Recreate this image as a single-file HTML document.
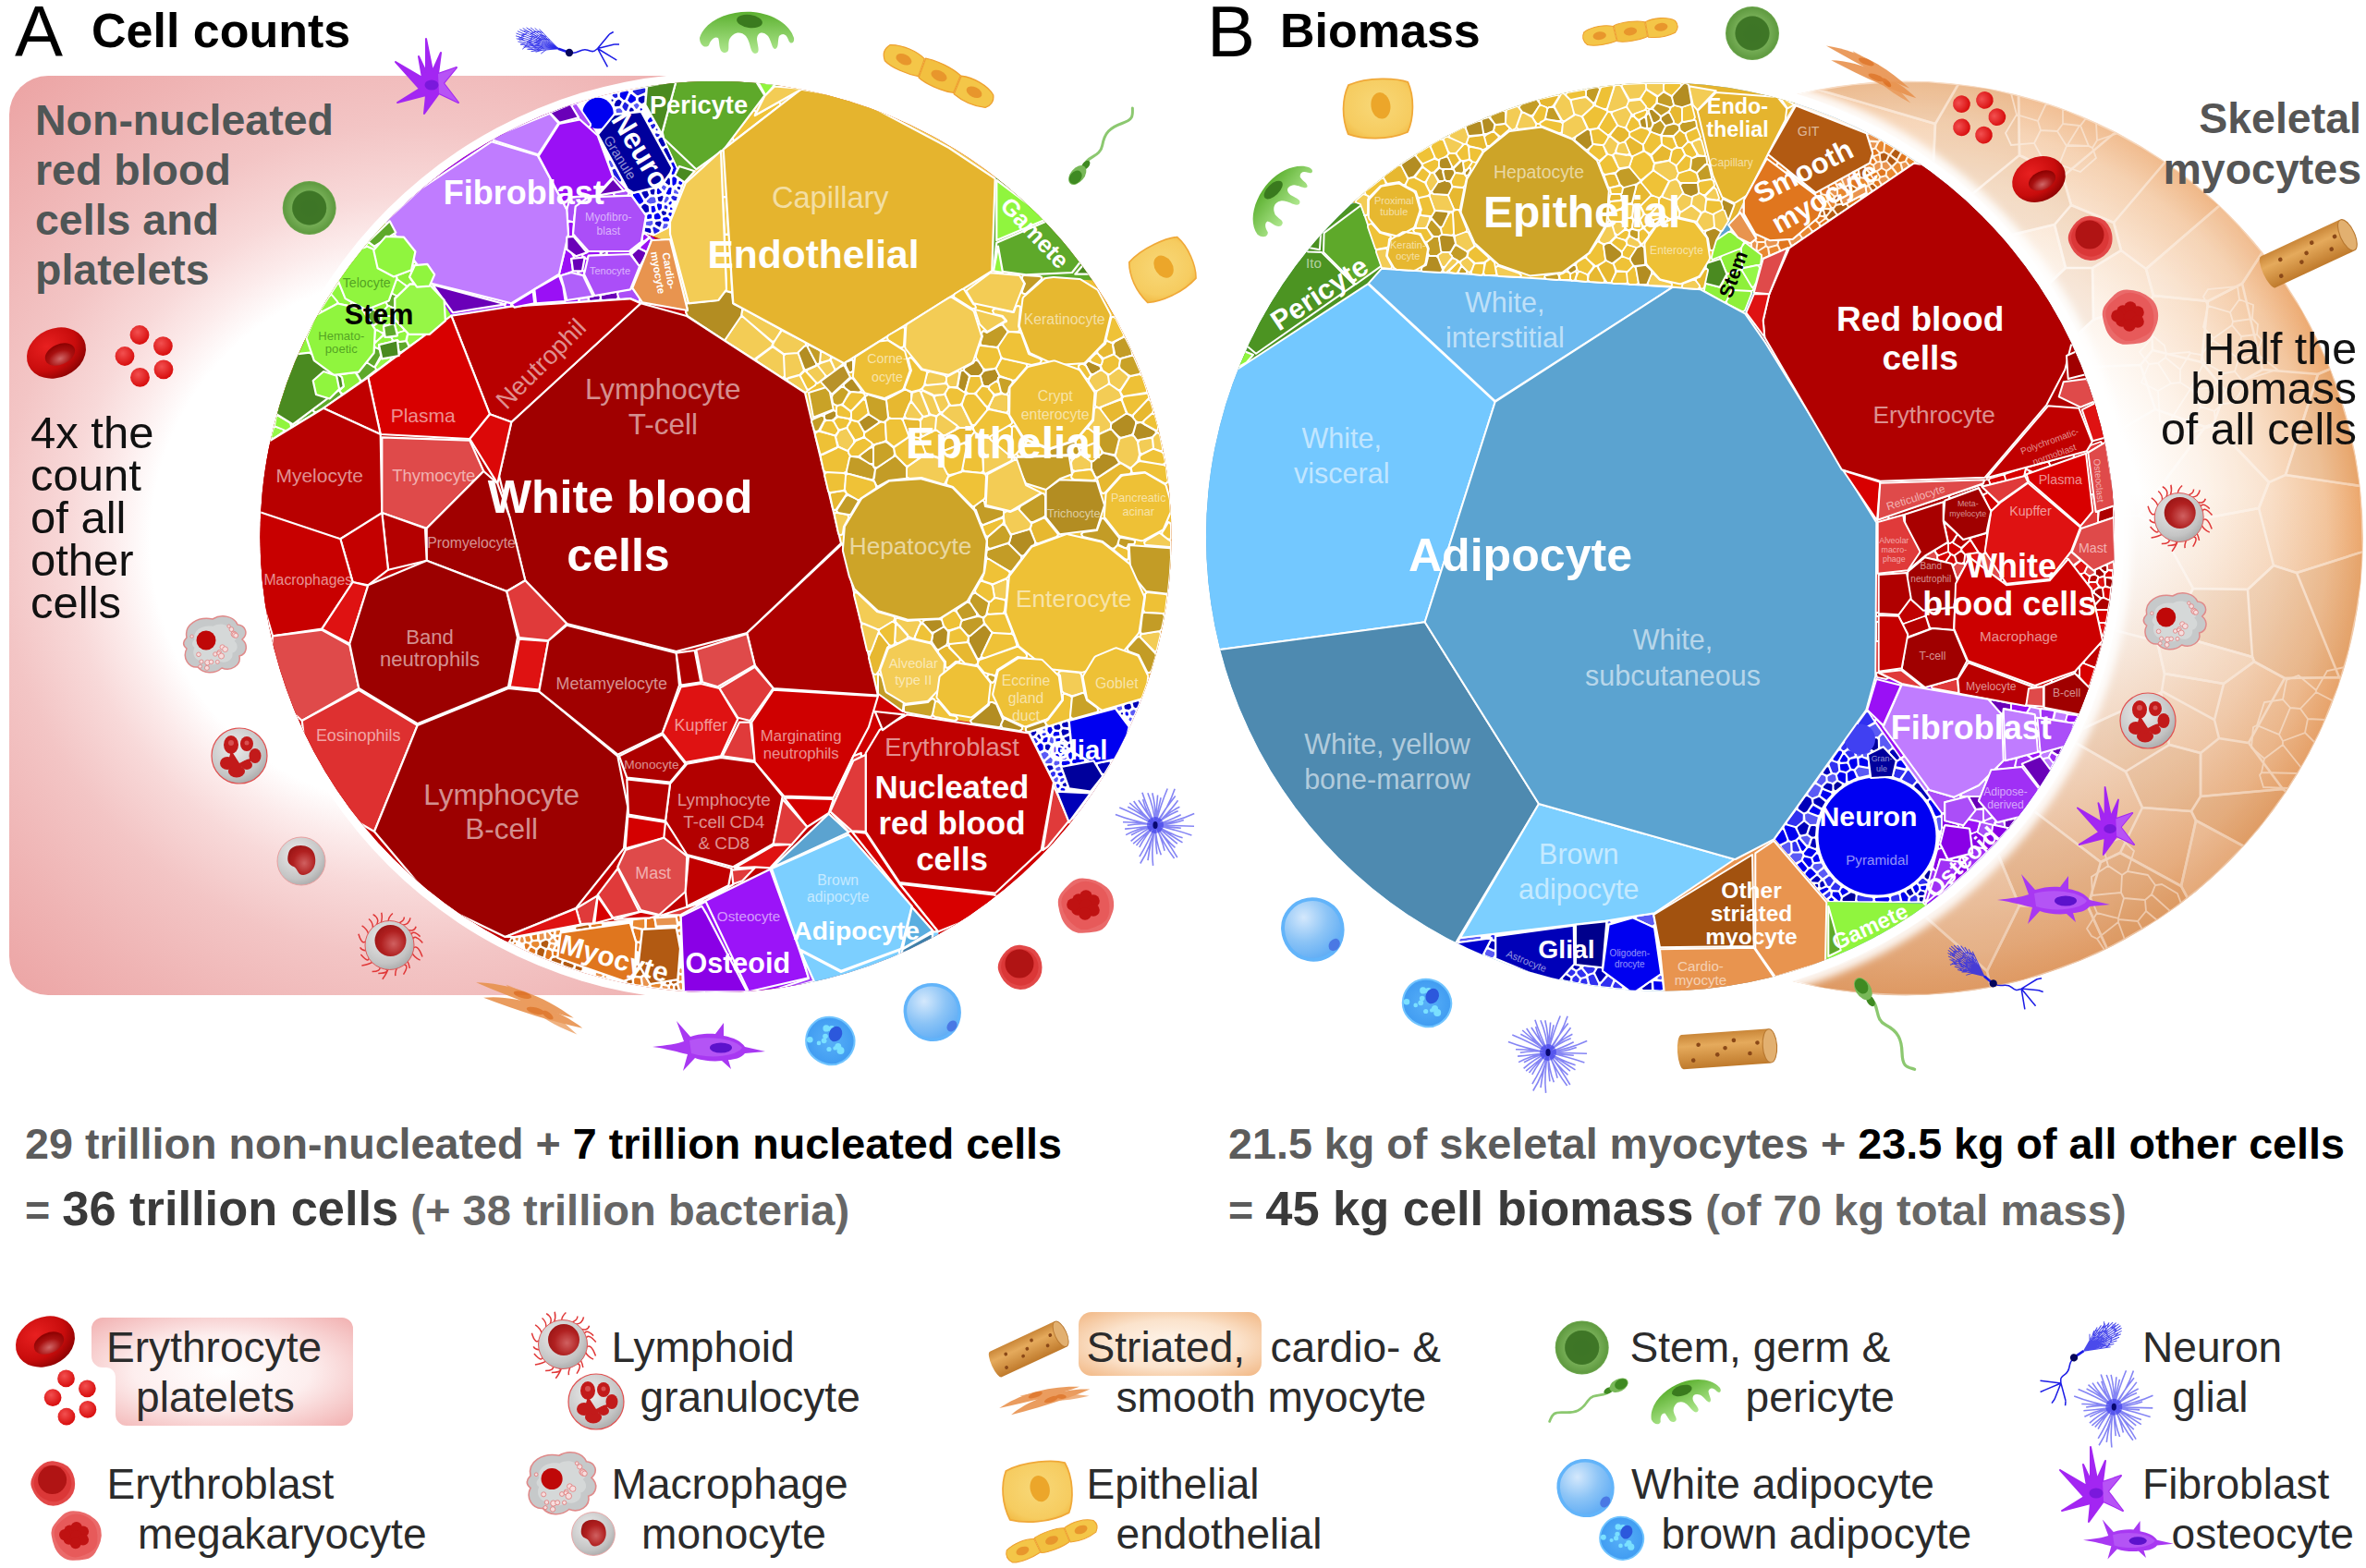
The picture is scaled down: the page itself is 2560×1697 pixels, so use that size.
<!DOCTYPE html><html><head><meta charset="utf-8"><title>Cell counts and biomass</title>
<style>html,body{margin:0;padding:0;background:#fff}svg{display:block}text{font-family:"Liberation Sans",sans-serif}</style>
</head><body>
<svg width="2560" height="1697" viewBox="0 0 2560 1697">
<defs>
<clipPath id="clipL"><circle cx="774.5" cy="581.0" r="493.0"/></clipPath>
<clipPath id="clipR"><circle cx="1796.5" cy="581.0" r="491.5"/></clipPath>
<clipPath id="clipO"><circle cx="2062.0" cy="582.5" r="495.0"/></clipPath>
<clipPath id="clipBox"><rect x="10" y="82" width="800" height="995" rx="42" ry="42"/></clipPath>
<radialGradient id="gPink" gradientUnits="userSpaceOnUse" cx="450" cy="585" r="700">
<stop offset="0" stop-color="#fff"/><stop offset="0.41" stop-color="#fff"/><stop offset="0.471" stop-color="#fcebeb"/><stop offset="0.536" stop-color="#f8d9d9"/><stop offset="0.643" stop-color="#f3c5c5"/><stop offset="0.80" stop-color="#efb3b3"/><stop offset="0.943" stop-color="#eca4a4"/><stop offset="1" stop-color="#eba0a0"/></radialGradient>
<radialGradient id="gCres" gradientUnits="userSpaceOnUse" cx="2062.0" cy="582.5" r="495.0">
<stop offset="0" stop-color="#fff"/><stop offset="0.52" stop-color="#fff"/><stop offset="0.66" stop-color="#fdf2e8"/><stop offset="0.80" stop-color="#f9dfc8"/><stop offset="0.92" stop-color="#f3c69e"/><stop offset="1" stop-color="#eca76c"/></radialGradient>
<linearGradient id="gCresV" gradientUnits="userSpaceOnUse" x1="0" y1="88" x2="0" y2="1077"><stop offset="0" stop-color="#fff" stop-opacity="0.3"/><stop offset="0.3" stop-color="#fff" stop-opacity="0"/><stop offset="0.45" stop-color="#dc9a68" stop-opacity="0"/><stop offset="1" stop-color="#d8935f" stop-opacity="0.7"/></linearGradient>
<filter id="blur6" x="-20%" y="-20%" width="140%" height="140%"><feGaussianBlur stdDeviation="4.5"/></filter>
<filter id="blur12" x="-20%" y="-20%" width="140%" height="140%"><feGaussianBlur stdDeviation="14"/></filter>
<filter id="blur2" x="-20%" y="-20%" width="140%" height="140%"><feGaussianBlur stdDeviation="1.2"/></filter>
<radialGradient id="gLegPink" cx="0.5" cy="0.5" r="0.75"><stop offset="0" stop-color="#fff"/><stop offset="0.45" stop-color="#fdeeee"/><stop offset="1" stop-color="#f0a8a8"/></radialGradient>
<radialGradient id="gLegOr" cx="0.5" cy="0.5" r="0.75"><stop offset="0" stop-color="#fff6ee"/><stop offset="0.5" stop-color="#fbe3cc"/><stop offset="1" stop-color="#f0b078"/></radialGradient>
<radialGradient id="iRbc" cx="0.4" cy="0.3" r="0.8"><stop offset="0" stop-color="#e82020"/><stop offset="0.6" stop-color="#c80c0c"/><stop offset="1" stop-color="#7a0000"/></radialGradient><radialGradient id="iRbcIn" cx="0.45" cy="0.7" r="0.7"><stop offset="0" stop-color="#d06868"/><stop offset="0.55" stop-color="#a81010"/><stop offset="1" stop-color="#8a0000"/></radialGradient><radialGradient id="iPl" cx="0.4" cy="0.35" r="0.7"><stop offset="0" stop-color="#f25050"/><stop offset="1" stop-color="#d60808"/></radialGradient><radialGradient id="iGrey" cx="0.4" cy="0.35" r="0.75"><stop offset="0" stop-color="#ececec"/><stop offset="0.7" stop-color="#c4c4c4"/><stop offset="1" stop-color="#a0a0a0"/></radialGradient><radialGradient id="iNuc" cx="0.6" cy="0.6" r="0.8"><stop offset="0" stop-color="#d06060"/><stop offset="0.5" stop-color="#b02020"/><stop offset="1" stop-color="#901010"/></radialGradient><linearGradient id="iFib" x1="0" y1="0" x2="0" y2="1"><stop offset="0" stop-color="#c98638"/><stop offset="0.35" stop-color="#e5aa5c"/><stop offset="1" stop-color="#bf7a2c"/></linearGradient><radialGradient id="iEpi" cx="0.5" cy="0.45" r="0.7"><stop offset="0" stop-color="#f8d878"/><stop offset="0.7" stop-color="#f6cc60"/><stop offset="1" stop-color="#f0b43a"/></radialGradient><radialGradient id="iStem" cx="0.5" cy="0.5" r="0.5"><stop offset="0" stop-color="#3f7828"/><stop offset="0.62" stop-color="#44802c"/><stop offset="0.68" stop-color="#74ac54"/><stop offset="1" stop-color="#5f9a40"/></radialGradient><radialGradient id="iWad" cx="0.35" cy="0.3" r="0.8"><stop offset="0" stop-color="#d4e8fc"/><stop offset="0.5" stop-color="#8cc4f6"/><stop offset="1" stop-color="#58a8f4"/></radialGradient><radialGradient id="iBad" cx="0.5" cy="0.5" r="0.6"><stop offset="0" stop-color="#58b0f8"/><stop offset="1" stop-color="#3c98f0"/></radialGradient><linearGradient id="iPeri" x1="0" y1="0" x2="0" y2="1"><stop offset="0" stop-color="#5cb030"/><stop offset="1" stop-color="#b0e890"/></linearGradient><radialGradient id="iFb" cx="0.5" cy="0.5" r="0.6"><stop offset="0" stop-color="#a838f0"/><stop offset="1" stop-color="#a020f0"/></radialGradient><g id="rbc"><ellipse rx="33" ry="26.5" transform="rotate(-24)" fill="url(#iRbc)"/><ellipse cx="3" cy="3" rx="17" ry="11" transform="rotate(-24)" fill="url(#iRbcIn)"/></g><g id="plt"><circle cx="-5" cy="-23" r="10.4" fill="url(#iPl)"/><circle cx="20.4" cy="-10.9" r="10.4" fill="url(#iPl)"/><circle cx="-21" cy="0" r="10.4" fill="url(#iPl)"/><circle cx="21" cy="14.3" r="10.4" fill="url(#iPl)"/><circle cx="-4.5" cy="22.9" r="10.4" fill="url(#iPl)"/></g><g id="ebl"><path d="M23 -5.3Q24 0 23.1 5.3Q22.2 10.7 18.6 14.8Q15.1 19 10.3 21.5Q5.5 24.1 -0 24.1Q-5.5 24.1 -10.1 21.3Q-14.7 18.5 -18 14.4Q-21.2 10.2 -23.2 5.1Q-25.2 0 -23.4 -5.2Q-21.6 -10.4 -18.3 -14.6Q-15 -18.7 -10.3 -21.8Q-5.7 -24.8 -0.1 -24.3Q5.4 -23.8 10.6 -21.7Q15.7 -19.7 18.9 -15.1Q22 -10.6 23 -5.3Z" fill="#e24848"/><path d="M19.1 -5.1Q20.4 0 19 5Q17.5 10.1 13.9 14Q10.4 18 5.2 19.1Q0 20.3 -5 18.8Q-10 17.4 -14 13.9Q-18 10.4 -19.9 5.2Q-21.9 0 -20.3 -5.4Q-18.7 -10.8 -14.8 -14.7Q-10.8 -18.7 -5.4 -19.5Q-0 -20.4 5.3 -19.3Q10.5 -18.3 14.2 -14.3Q17.8 -10.3 19.1 -5.1Z" fill="#d83030" opacity="0.7"/><circle cx="-1" cy="-4" r="15.5" fill="#b01414"/></g><g id="meg"><path d="M29.5 -7.3Q31.1 0 28.9 7Q26.8 14 22.7 20.5Q18.6 27 11.1 28.3Q3.6 29.6 -3.9 29.8Q-11.4 30.1 -17.4 25.4Q-23.4 20.8 -26.2 13.9Q-28.9 7.1 -30 -0.3Q-31.1 -7.7 -26.6 -13.7Q-22.2 -19.6 -16.7 -24.6Q-11.2 -29.6 -3.8 -29.6Q3.6 -29.6 10.3 -27.1Q17 -24.6 22.5 -19.7Q28 -14.7 29.5 -7.3Z" fill="#ea6a6a"/><path d="M24.3 -7.3Q26 0 25.1 7.8Q24.2 15.5 17.4 19.4Q10.6 23.3 3.3 25.4Q-4 27.5 -10.3 23.4Q-16.7 19.2 -20.8 13.3Q-25 7.3 -26.4 -0.4Q-27.7 -8.1 -22.3 -13.9Q-17 -19.6 -10.4 -23.4Q-3.9 -27.3 3.6 -25.8Q11.2 -24.4 16.9 -19.5Q22.6 -14.5 24.3 -7.3Z" fill="#e45050" opacity="0.6"/><circle cx="-8" cy="-6" r="6.8" fill="#bf1212"/><circle cx="0" cy="-10" r="6.8" fill="#bf1212"/><circle cx="8" cy="-5" r="6.8" fill="#bf1212"/><circle cx="-9" cy="4" r="6.8" fill="#bf1212"/><circle cx="0" cy="0" r="6.8" fill="#bf1212"/><circle cx="8" cy="5" r="6.8" fill="#bf1212"/><circle cx="-1" cy="9" r="6.8" fill="#bf1212"/><circle cx="-14" cy="-1" r="6.8" fill="#bf1212"/></g><g id="lym"><path d="M24.5 4.8Q29.8 -3.6 35.5 12.6M23.9 7.4Q26.8 13.5 33.1 16.1M19 16.2Q21.3 21.1 21.8 25M14 20.7Q22.2 20.2 15 31.7M8.4 23.5Q5.6 29.5 6.4 33.1M-1.4 25Q-2.6 29.9 -7.7 36.8M-5.7 24.3Q2.8 29.9 -12.2 30.5M-10.5 22.7Q-9.1 28.6 -18.9 28.6M-17.8 17.6Q-21.7 20.7 -30.1 22M-22.4 11.1Q-21.1 21.4 -31.1 9.9M-24.4 5.5Q-29.3 6.4 -31.9 2.3M-24.5 -5Q-30 0.7 -33.6 -12.2M-22.4 -11.2Q-24.3 -17.6 -29.9 -21.1M-18.2 -17.1Q-17.3 -24.5 -22.5 -28.5M-15 -20Q-9.4 -28.5 -17.9 -33.4M-9.6 -23.1Q-7.3 -29.1 -8.8 -35.2M-1.3 -25Q-1.7 -30 3.4 -34.5M8 -23.7Q15.9 -25.4 15.9 -30.6M12 -21.9Q21.1 -21.3 22.5 -29.6M18 -17.3Q26.7 -13.6 28.6 -20.2M22.8 -10.3Q24.4 -17.5 33.1 -9.4M24.4 -5.5Q27 -13.2 35.8 -2.5" stroke="#e03838" stroke-width="1.5" fill="none"/><circle r="26.5" fill="url(#iGrey)" stroke="#e05858" stroke-width="1"/><circle cx="1" cy="-5" r="17" fill="url(#iNuc)"/></g><g id="mac"><path d="M-30 -8 C-33 -22 -18 -31 -2 -28 C8 -34 21 -31 25 -22 C34 -21 37 -12 30 -6 C37 0 35 10 27 12 C29 22 18 29 8 25 C0 32 -12 31 -18 24 C-28 25 -35 14 -30 4 C-35 0 -34 -4 -30 -8Z" fill="#c6c9ca" stroke="#e08a8a" stroke-width="1.5"/><path d="M-30 -8 C-33 -22 -18 -31 -2 -28 C8 -34 21 -31 25 -22 C34 -21 37 -12 30 -6 C37 0 35 10 27 12 C29 22 18 29 8 25 C0 32 -12 31 -18 24 C-28 25 -35 14 -30 4 C-35 0 -34 -4 -30 -8Z" fill="#e2e4e4" opacity="0.55" transform="scale(0.72)"/><g fill="#f6dede" stroke="#e08080" stroke-width="0.8"><circle cx="0.9" cy="10" r="2.2"/><circle cx="5.2" cy="7.7" r="2.2"/><circle cx="20.9" cy="-11.9" r="2.9"/><circle cx="3.3" cy="18.4" r="2"/><circle cx="4.7" cy="8.9" r="1.9"/><circle cx="22" cy="-10.9" r="3"/><circle cx="-7.5" cy="19.1" r="2.8"/><circle cx="15.6" cy="-20.3" r="1.7"/><circle cx="23.2" cy="-10.2" r="2.5"/><circle cx="-8.1" cy="24.9" r="2.5"/><circle cx="18.4" cy="-16.9" r="2.4"/><circle cx="-17.1" cy="10.3" r="2.3"/><circle cx="7.5" cy="12" r="3"/><circle cx="8.6" cy="2.4" r="2.6"/><circle cx="-3.5" cy="18.4" r="2.3"/><circle cx="-15.4" cy="23.3" r="1.9"/><circle cx="-14.1" cy="18.1" r="2.1"/><circle cx="-24.4" cy="-9.3" r="1.7"/><circle cx="11.6" cy="4.7" r="2.9"/></g><circle cx="-9" cy="-5" r="10.5" fill="#bf0808"/></g><g id="gra"><circle r="30" fill="url(#iGrey)" stroke="#e05050" stroke-width="1.2"/><g fill="#c21a1a"><ellipse cx="-9" cy="-12" rx="8" ry="10"/><ellipse cx="8" cy="-13" rx="7" ry="8"/><ellipse cx="17" cy="0" rx="6.5" ry="8"/><ellipse cx="-13" cy="8" rx="8" ry="7"/><ellipse cx="-3" cy="17" rx="9" ry="6.5"/><ellipse cx="8" cy="10" rx="6" ry="5"/><path d="M-9 -6 L-12 6 L-4 14 L8 10 L16 2 L8 4 L0 8 Z"/></g><g fill="#e88" opacity="0.5"><circle cx="-9" cy="-14" r="3"/><circle cx="8" cy="-14" r="2.5"/></g></g><g id="mon"><circle r="26" fill="url(#iGrey)" stroke="#e8a0a0" stroke-width="1"/><path d="M-14 -8 C-12 -20 10 -20 14 -8 C18 4 12 14 2 15 C-4 15 -4 8 -8 6 C-14 4 -16 0 -14 -8Z" fill="url(#iNuc)"/></g><g id="fbr"><path d="M-46 -17 H38 a8 17 0 0 1 0 34 H-46 a5 17 0 0 1 0 -34Z" fill="url(#iFib)"/><ellipse cx="40" cy="0" rx="7" ry="16.5" fill="#e2b070" stroke="#b87830" stroke-width="1"/><g fill="#8a4818"><circle cx="-30" cy="-6" r="2.1"/><circle cx="-12" cy="5" r="2.1"/><circle cx="5" cy="-8" r="2.1"/><circle cx="20" cy="6" r="2.1"/><circle cx="-36" cy="9" r="2.1"/><circle cx="28" cy="-4" r="2.1"/><circle cx="-4" cy="-1" r="2.1"/></g></g><g id="smo" fill="#e8924e" opacity="0.9"><path d="M-62 -8 C-30 -16 10 -14 50 2 C20 2 -20 -2 -62 -8Z"/><path d="M-50 6 C-20 -6 30 -4 62 10 C30 12 -10 10 -50 6Z"/><path d="M-30 -14 C0 -12 30 4 58 18 C20 14 -10 2 -30 -14Z" opacity="0.8"/><g fill="#dd6e1e"><ellipse cx="-10" cy="-8" rx="10" ry="3.5"/><ellipse cx="8" cy="5" rx="10" ry="3.5"/><ellipse cx="22" cy="6" rx="7" ry="3" transform="rotate(22 22 6)"/></g></g><g id="epi"><path d="M-31 -20 C-12 -30 16 -31 27 -28 C35 -14 36 8 31 21 C12 31 -12 32 -27 28 C-35 12 -36 -6 -31 -20Z" fill="url(#iEpi)" stroke="#f0a838" stroke-width="1.6"/><ellipse cx="3" cy="-2" rx="9.5" ry="13" transform="rotate(-14)" fill="#eca62a"/></g><g id="end" stroke="#eea030" stroke-width="1.3"><path d="M-62 -8 C-50 -14 -32 -14 -22 -10 L-20 10 C-32 13 -50 14 -60 10 C-66 4 -66 -2 -62 -8Z" fill="#f4c648"/><path d="M-21 -11 C-10 -14 10 -14 21 -10 L22 10 C10 14 -10 14 -19 11Z" fill="#f2c040"/><path d="M22 -10 C34 -14 52 -13 62 -6 C66 0 64 6 60 10 C48 14 34 14 23 11Z" fill="#f4c648"/><g fill="#e8962c" stroke="none"><ellipse cx="-42" cy="0" rx="9" ry="5.5"/><ellipse cx="0" cy="0" rx="9" ry="5.5"/><ellipse cx="42" cy="0" rx="9" ry="5.5"/></g></g><g id="stm"><circle r="29" fill="#6aa44a"/><circle r="28" fill="url(#iStem)"/><circle r="18.5" fill="#3d7426" opacity="0.85"/></g><g id="spm"><path d="M8 0 C20 -7 28 7 40 0 S60 -6 72 1 S86 4 92 -1" stroke="#8cc870" stroke-width="3" fill="none" stroke-linecap="round"/><ellipse cx="12" cy="0" rx="6" ry="3.5" fill="#3f8a22"/><ellipse cx="-2" cy="0" rx="12" ry="7.5" fill="#78b858"/><ellipse cx="-5" cy="0" rx="8" ry="6" fill="#3f8a22"/></g><g id="per"><path d="M-50 6 C-44 -14 -16 -24 8 -22 C30 -20 48 -8 52 6 C53 12 48 14 46 8 C44 2 40 0 36 4 C34 10 36 16 32 18 C28 18 28 10 24 4 C18 -2 12 0 12 8 C13 16 16 22 10 23 C4 22 6 12 0 4 C-6 -2 -14 0 -18 8 C-20 16 -16 22 -24 22 C-30 20 -28 10 -30 6 C-34 4 -38 8 -40 14 C-44 18 -50 14 -50 6Z" fill="url(#iPeri)"/><ellipse cx="4" cy="-12" rx="14" ry="7" transform="rotate(8 4 -12)" fill="#3a7a1e"/></g><g id="wad"><path d="M27.5 -10.1Q30.8 0 27.6 10.3Q24.5 20.5 15 25.9Q5.5 31.3 -5.1 29.3Q-15.7 27.2 -22.4 18.9Q-29 10.6 -29.6 -0.2Q-30.2 -11 -23.1 -19.4Q-16.1 -27.9 -5.3 -29.5Q5.5 -31 14.8 -25.7Q24.1 -20.3 27.5 -10.1Z" fill="url(#iWad)" stroke="#62b4fa" stroke-width="3.5"/><ellipse cx="21" cy="15" rx="5" ry="6.5" transform="rotate(35 21 15)" fill="#4a78e4"/></g><g id="bad"><path d="M24.5 -8.6Q28.4 0 25.1 9.2Q21.8 18.3 13.4 23.1Q4.9 27.9 -4.2 25.5Q-13.3 23 -19.7 16.2Q-26 9.5 -25.9 0.1Q-25.7 -9.3 -19.7 -16.6Q-13.8 -23.9 -4.6 -25.1Q4.6 -26.3 12.6 -21.8Q20.5 -17.2 24.5 -8.6Z" fill="url(#iBad)" stroke="#70c4ff" stroke-width="2"/><g fill="#7ae0ff"><circle cx="-12" cy="2.9" r="2.3"/><circle cx="4.1" cy="-4.6" r="3.1"/><circle cx="5.9" cy="-4.4" r="3.2"/><circle cx="-5" cy="-4.5" r="2.8"/><circle cx="-4" cy="-13.1" r="3.6"/><circle cx="5.5" cy="8.4" r="2.2"/><circle cx="-21.7" cy="-0.8" r="3.3"/><circle cx="1.9" cy="-12.4" r="3.6"/><circle cx="8.8" cy="6.5" r="3.5"/><circle cx="-2" cy="-13" r="2.2"/><circle cx="-1" cy="9.5" r="2.6"/><circle cx="3.4" cy="-8.8" r="4"/><circle cx="5" cy="-4.8" r="2.8"/><circle cx="-6.4" cy="0.3" r="2.9"/><circle cx="6.6" cy="-4.4" r="3.3"/><circle cx="11.5" cy="10.9" r="4"/></g><ellipse cx="6" cy="-7" rx="7" ry="8.5" transform="rotate(25 6 -7)" fill="#2c58dc"/></g><g id="gli"><path d="M0 0Q23.1 0.6 42 1.2M0 0Q15.2 2.6 27.8 3.2M0 0Q21.9 5 39.4 10.9M0 0Q15.4 9.3 29.6 13.8M0 0Q16.1 10.6 29.5 18.9M0 0Q12.9 11.3 23.9 20.2M0 0Q10.3 14.6 21.5 24.4M0 0Q14.2 18.5 23.8 35M0 0Q9.2 21 20.6 36.1M0 0Q7.1 14.6 10.1 27.8M0 0Q0.6 18.1 6.3 32.3M0 0Q0.1 17.3 1.9 31.4M0 0Q-4.7 23.7 -2.4 43.8M0 0Q-5.8 20.6 -8 38.1M0 0Q-5 24 -16.2 41.5M0 0Q-8.1 19.4 -17.1 34.2M0 0Q-11.1 11.8 -17.2 24M0 0Q-12 11.4 -20.5 21.9M0 0Q-13.1 11.2 -23.9 20.2M0 0Q-15.6 7.6 -26.4 17.4M0 0Q-14.9 4.5 -26.1 10.7M0 0Q-18.2 3.3 -31.9 10.6M0 0Q-18 3 -32.9 4.1M0 0Q-16.4 -2.7 -30.2 0.3M0 0Q-19 -3.4 -35 -3.2M0 0Q-24.2 -4.2 -43.1 -11.6M0 0Q-20.6 -11.7 -38.7 -19.1M0 0Q-15 -12.6 -29.7 -19.7M0 0Q-15.4 -13.1 -27.8 -24M0 0Q-14.8 -12.3 -23.3 -26M0 0Q-10 -14.8 -18.1 -27M0 0Q-9.8 -13.9 -13.4 -27.9M0 0Q-8.7 -19 -14.1 -35.3M0 0Q-1.6 -19.6 -8.1 -34.7M0 0Q0.8 -19.2 -3.2 -34.8M0 0Q1.3 -17.9 2.6 -32.5M0 0Q2.7 -16.5 6.1 -29.8M0 0Q5.9 -22.2 13.2 -39.5M0 0Q14.7 -19.6 21.1 -39.2M0 0Q10.8 -18.1 21.7 -31.5M0 0Q14.9 -13.3 24.5 -26.8M0 0Q12.5 -13.1 26.4 -19.7M0 0Q12 -10.5 24.7 -15.2M0 0Q15.7 -5 27.7 -11.2M0 0Q23.9 -3.9 42.2 -12.4M0 0Q17.2 -0.4 30.8 -5.6" stroke="#3a3aee" stroke-width="1.6" fill="none" opacity="0.62"/><circle r="9" fill="#3030e8" opacity="0.55"/><ellipse rx="2.6" ry="4" fill="#080870"/></g><g id="neu"><path d="M-3 -1L-13.2 -4.8L-46 -1.6M-27.9 -3.4l-6.3 4.6M-33.8 -2.8l-6.6 2M-39.7 -2.2l-6.7 -2.5M-3 -1L-13.2 -4.8L-50.7 -4.1M-30.1 -4.5l-4 -2.9M-36.8 -4.3l-5.1 -0.4M-43.6 -4.2l-5.6 -0.1M-3 -1L-13.2 -4.8L-55.1 -6.9M-32 -5.7l-6.4 3.3M-39.6 -6.1l-6.7 -2.7M-47.1 -6.5l-6.9 -2.3M-3 -1L-13.2 -4.8L-58.9 -10.1M-33.7 -7.2l-5.8 4M-41.9 -8.1l-5.9 -3.9M-50.2 -9.1l-6.2 4.9M-3 -1L-13.2 -4.8L-61.8 -13.4M-35 -8.7l-6.8 1.2M-43.8 -10.2l-5.9 1.6M-52.5 -11.8l-6 1.9M-3 -1L-13.2 -4.8L-63.6 -16.9M-35.9 -10.2l-5.5 1.5M-44.9 -12.4l-4.3 0.8M-54 -14.6l-6.6 -4.4M-3 -1L-13.2 -4.8L-64.4 -20.2M-36.2 -11.7l-4.2 -0.1M-45.4 -14.5l-6.4 4.5M-54.6 -17.3l-5.3 2.3M-3 -1L-13.2 -4.8L-63.9 -23.3M-36 -13.1l-4.4 -2.1M-45.1 -16.4l-5.9 3.8M-54.3 -19.7l-6.6 2.6M-3 -1L-13.2 -4.8L-62.3 -25.9M-35.3 -14.3l-6.7 1.9M-44.1 -18.1l-4.9 4.5M-52.9 -21.9l-4.5 0M-3 -1L-13.2 -4.8L-59.6 -28M-34 -15.2l-6.4 -3.5M-42.4 -19.4l-5.4 0.1M-50.8 -23.6l-6.8 4M-3 -1L-13.2 -4.8L-55.9 -29.4M-32.4 -15.9l-5.5 2M-40.1 -20.3l-6.3 -2.6M-47.8 -24.7l-7 -1.6M-3 -1L-13.2 -4.8L-51.6 -30.1M-30.4 -16.2l-6.2 -0.8M-37.4 -20.7l-5.9 3.3M-44.3 -25.3l-4.3 -3.2M-3 -1L-13.2 -4.8L-46.7 -30.1M-28.2 -16.2l-5.8 -3.3M-34.3 -20.8l-5 4.7M-40.3 -25.3l-6.4 2.7M-3 -1L-13.2 -4.8L-41.5 -29.5M-25.9 -15.9l-6.1 -4.9M-31 -20.4l-4.7 -1.6M-36.1 -24.8l-6.5 -0.6M-3 -1L-13.2 -4.8L-36.2 -28.3M-23.5 -15.4l-6.3 -0.9M-27.7 -19.6l-5.7 -0.8M-31.9 -23.8l-5.2 -2.1" stroke="#2a2ae8" stroke-width="1.1" fill="none" opacity="0.85"/><path d="M3 0C10 2 14 -6 22 -3S30 -2 34 -5M34 -5L48 -22M34 -5L54 -10M34 -5L52 6M34 -5L46 17M48 -22l5 -3M52 6l5 3M54 -10l6 0" stroke="#1c1ce6" stroke-width="1.7" fill="none"/><path d="M-3 -1L-13.2 -4.8" stroke="#1c1ce6" stroke-width="3"/><circle r="4.6" fill="#06065a"/></g><g id="fbl"><path d="M-6 -50 L1 -15 L10 -35 L7 -12 L27 -19 L13 -2 L29 19 L8 9 L-8 31 L-6 11 L-37 19 L-13 4 L-39 -25 L-10 -8 L-14 -31 L-6 -14 Z" fill="#a326f2" stroke="#a326f2" stroke-width="2" stroke-linejoin="round"/><path d="M7 -12 L27 -19 L13 -2 L29 19 L8 9Z" fill="#cc80fa" opacity="0.5"/><ellipse cx="0" cy="0" rx="7.5" ry="5.5" fill="#7a18dc"/></g><g id="ost"><path d="M-60 1 C-44 -1 -34 -2 -26 -5 L-34 -27 L-19 -10 C-10 -13 0 -14 8 -13 L17 -25 L17 -11 C28 -9 36 -5 40 1 L62 6 L40 8 C36 13 28 15 22 15 L25 25 L15 16 C6 17 -6 16 -14 13 L-27 27 L-22 9 C-32 7 -44 3 -60 1Z" fill="#a838f2"/><path d="M-20 -6 C0 -12 30 -8 37 2 C30 12 0 14 -18 8Z" fill="#c070f8" opacity="0.5"/><ellipse cx="14" cy="2" rx="12" ry="5.5" fill="#5c12cc"/></g>
</defs>
<rect width="2560" height="1697" fill="#fff"/>
<g clip-path="url(#clipBox)">
<rect x="10" y="82" width="800" height="995" fill="url(#gPink)"/>
</g>
<g clip-path="url(#clipO)">
<circle cx="2062.0" cy="582.5" r="495.0" fill="url(#gCres)"/>
<circle cx="2062.0" cy="582.5" r="495.0" fill="url(#gCresV)"/>
<g opacity="0.42"><path d="M2336 570l37 67 59 1 28-26-16-62zM2386 462l-54-19-46 27 4 21 4 25 2 24 1 18 17 0zM2342 729l-3 19 57 31 10-39zM2246 804l-19 35-14 21-12 18 72 55 21-10 24-49-18-39zM2334 694l12-9 27-48-37-67-22-12-17 0 1 31-2 33-3 33-5 27zM2332 443l-16-48-53 2 8 23 5 15 10 35zM2150 1051l4 18 36-8 31-10 30-11 29-13-21-46-74-1zM2185 168l47 23 57-48-23-11-30-13-23-8-29-8zM2150 1051l-67-59-15 10-21 13-21 12-15 7-15 7-23 9-34 12 34 8 40 5 41 2 32 0 33-3 35-5zM2316 395l13-16-2-54-62 21-17 16 15 35zM2294 923l66 36 16-71-5-10-53-4zM2334 694l-46-12-7 29-7 23-11 31-10 24 85-39 1-2 3-19zM2343 175l-27-17-27-15-57 48 9 31 46 19zM2381 862l89-8-37-50-32-5-20 16zM2531 733l-59 1-39 70 37 50 4 3 21-34 18-36 9-23 9-22 2-8zM2395 459l13-36-26-31-53-13-13 16 16 48 54 19zM2473 514l-18 8-11 28 16 62 25 8 72-23-1-39-2-32zM2235 290l-12-47-46 11 22 28 18 25zM2322 291l80-69-26-22-19-15-14-10-56 66 8 30zM2264 290l1 56 62-21 3-5-8-29-27-20zM2396 779l5 20 32 5 39-70-33-18-33 24zM2382 392l7-66-59-6-3 5 2 54zM2426 307l22 93 60 5 14-6-16-35-15-29-22-34-21-28zM2473 514l35-109-60-5-40 23-13 36 60 63zM2426 307l-37 19-7 66 26 31 40-23zM2094 134l-127-37-23 5 37 13 15 6 22 10 15 8 21 12 21 13 17 12zM2339 748l-1 2 9 56 34 9 20-16-5-20z" fill="none" stroke="#fff" stroke-width="2.6"/><path d="M2265 346l-1-56-29 0-18 17 18 30 13 25zM2232 191l-47-23-51 42 23 22 20 22 46-11 18-21zM2280 1027l22-12 21-12 21-13 23-18-7-13-66-36-21 10-14 48zM2300 835l47-29-9-56-85 39-7 15zM2094 134l25-43-33-3-40 0-41 3-38 6zM2347 806l-47 29 18 39 53 4 10-16 0-47zM2287 241l-46-19-18 21 12 47 29 0 31-19zM2094 134l-2 42 23 17 19 17 51-42-1-65-33-8-32-4zM2470 854l-89 8-10 16 5 10 52 28 22-26 19-26 5-7zM2259 981l14-48-72-55-17 21-22 26 23 55zM2508 405l-35 109 81 12-5-32-7-32-9-31-8-23-3-9zM2432 638l-59-1-27 48 91 26zM2472 734l59-1-46-113-25-8-28 26 5 73 2 5zM2485 620l46 113 2 1 9-31 8-40 5-32 2-34z" fill="#c98d5e" fill-opacity="0.3" stroke="#fff" stroke-width="2.6"/><path d="M2336 570l108-20 11-28-60-63-9 3-72 96zM2439 716l-2-5-91-26-12 9 8 35 64 11zM2150 1051l35-71-23-55-17 16-18 17-19 16-25 18zM2376 888l-16 71 7 13 15-12 18-16 28-28zM2330 320l59 6 37-19 22-34-25-29-21-22-80 69z" fill="#fff" fill-opacity="0.3" stroke="#fff" stroke-width="2.6"/><path d="M2296 947l6-4 7-22-14-14-13 5-5 10 4 15zM2464 400l-22-17-20 6-4 13 8 10zM2269 988l-11 17 5 8 6 3 23-18 0-3 0-1zM2214 112l-16-5-22-6 6 23 23 7zM2325 394l-8 20 18 9 14-8-14-22zM2394 368l-12 16 3 8 21 12 12-2 4-13 0-1zM2277 1028l22-11-7-19-23 18zM2335 423l2 33 8 4 25-39-11-7-10 1zM2295 966l1-19-15-10-18 12 1 20zM2415 352l10 12 17-2 1-11-6-6-21 3zM2413 338l10-14-2-14-32 3-5 8 5 10zM2322 986l-9 11 5 9 16-10zM2334 996l14-10-20-18-7 6 1 12zM2437 345l1-15-15-6-10 14 3 10zM2395 366l-1 2 28 20 3-24-10-12zM2525 759l6-17 6-20-19 4-12 21 0 2zM2381 440l15 5 9-8-10-18-23 3zM2413 338l-24-7-5 23 11 12 20-14 1-4zM2269 152l23-8-24-12zM2201 155l7-14-3-10-23-7-12 20 6 13zM2260 158l-24 0-8 20 23 8 17-15-4-11zM2426 412l-8-10-12 2-11 15 10 18 12-1 10-16zM2366 470l31-10-1-15-15-5-16 29zM2298 972l-3-6-31 3-2 2 7 17 23 6zM2425 364l-3 25 20-6 5-15-5-6zM2486 837l4-6-20-25-20 15-3 15zM2372 422l23-3 11-15-21-12-15 29zM2470 757l-20 3-8 25 24 10 12-29zM2208 141l-7 14 13 24 5 3 9-4 8-20-10-16zM2205 131l3 10 18 1 6-8 0-16-18-6zM2497 778l-3 15 11 11 12-25zM2324 947l-22-4-6 4-1 19 3 6 23 2 7-6 4-10zM2489 767l17-18 0-2-19-16-13 5-4 21 8 9zM2251 136l9 22 4 2 5-8-1-20-11-4zM2447 836l-2 3 4 13 27 1 10-16zM2359 414l11 7 15-29-3-8-12-2-11 18zM2257 128l-13-6-12-4 0 16 18 2 1 0zM2359 400l11-18-1-1-25 2-1 4zM2494 793l-24 9 0 4 20 25 15-27zM2292 998l7 19 19-11-5-9-21-2zM2250 136l-13 21 23 1-9-22zM2356 967l-17-10-7 1-4 10 20 18 12-8zM2442 785l-4 2-2 22 14 12 20-15 0-4-4-7zM2232 134l-6 8 10 16 1-1 13-21zM2321 974l-23-2-6 22 0 1 21 2 9-11zM2345 460l9 10 11-1 16-29-9-18-2-1zM2466 795l4 7 24-9 3-15-8-11-11-1zM2349 415l10-1 0-14-16-13-8 6zM2517 779l8-20-19-10-17 18 8 11zM2343 387l1-4-2-9-12-10-15 17 10 13 10-1z" fill="none" stroke="#fff" stroke-width="1.8"/></g>
<circle cx="1796.5" cy="581.0" r="502.5" fill="none" stroke="#fff" stroke-width="16" stroke-opacity="0.9" filter="url(#blur6)"/>
</g>
<circle cx="1796.5" cy="581.0" r="501.5" fill="#fff"/>
<circle cx="774.5" cy="581.0" r="502.0" fill="#fff"/>
<g clip-path="url(#clipL)" stroke-linejoin="round">
<circle cx="774.5" cy="581.0" r="495.0" fill="#c00000"/>
<polygon points="200,300 488,342 553,332 682,323 693,328 743,342 871,425 910,588 950,752 940,787 923,818 902,863 897,880 833,940 763,975 737,990 703,993 637,1000 553,1015 400,1100 200,1100" fill="#c00000" stroke="#c00000" stroke-width="1"/>
<polygon points="871,425 916,392 1073,293 1110,298 1183,303 1300,303 1300,757 1233,757 1113,792 977,771 950,752 910,588" fill="#efc237" stroke="#efc237" stroke-width="1"/>
<polygon points="743,342 720,260 692,250 690,240 707,198 750,160 803,110 846,90 900,60 1100,60 1077,193 1073,293 916,392 871,425" fill="#f3cc55" stroke="#f3cc55" stroke-width="1"/>
<polygon points="1077,193 1150,150 1300,303 1183,303 1110,298 1073,293" fill="#5ea92a" stroke="#5ea92a" stroke-width="1"/>
<polygon points="690,60 846,60 846,90 803,110 783,162 753,183 740,197 717,147 690,100" fill="#5ea92a" stroke="#5ea92a" stroke-width="1"/>
<polygon points="600,40 700,40 717,147 740,197 723,247 707,255 692,250 683,212 663,190 647,147 625,113" fill="#ffffff" stroke="#ffffff" stroke-width="1"/>
<polygon points="380,240 400,100 640,40 625,113 647,147 663,190 683,212 692,250 708,258 686,300 693.3,328.3 682,323 553,332 488,342 467,308 422,237" fill="#9a10f5" stroke="#9a10f5" stroke-width="1"/>
<polygon points="250,480 250,300 380,200 422,237 467,308 488,342 397,408 350,442 292,478 250,520" fill="#90f53e" stroke="#90f53e" stroke-width="1"/>
<polygon points="1113,792 1233,757 1300,757 1300,900 1157,887 1140,847" fill="#e0e0ff" stroke="#e0e0ff" stroke-width="1"/>
<polygon points="950,752 977,771 1113,792 1140,847 1157,887 1300,900 1300,1100 1015,1010 987,980 920,905 897,880 902,863 923,818 940,787" fill="#d00000" stroke="#d00000" stroke-width="1"/>
<polygon points="897,880 920,905 987,980 1015,1010 1000,1100 880,1100 855,1030 833,940" fill="#7ccfff" stroke="#7ccfff" stroke-width="1"/>
<polygon points="737,990 763,975 833,940 855,1030 880,1100 740,1100" fill="#9a10f5" stroke="#9a10f5" stroke-width="1"/>
<polygon points="553,1015 637,1000 703,993 737,990 740,1100 500,1100" fill="#fff3e6" stroke="#fff3e6" stroke-width="1"/>
<path d="M446 286l1 1 1 1 2-1 1-1-3-3-1 0zM429 299l1 4 11 7 2-2 4-1 0-1-4-6 2-5 0-1 0-1-2 0-13 5zM385 404l-1-1-14 2-1 0-1 2 2 2 2 9-5 5 3 3 2 0 17-12 1-2zM403 334l1 1 8 5 7-8 0-2-1-2-2-1-12 5zM428 347l-2 2 4 11 1 0 6-2 0-2-8-8z" fill="#8ef03a" stroke="#fff" stroke-width="1.8"/><path d="M397 264l-1 2 1 1 7 3 2-1 0-1-1-1-5-4-1-1zM298 462l-1 0-1 1-3 10 1 1 1 1 1 0 11-8 0-2zM440 369l2 4 1 1 1 0 13-9 1-2-1-1-1 0-14 0-1 1zM417 352l2 0 7-2 1-3 0-4-1-1-13 0-1 5 0 1zM396 335l-2 0-1 1 0 1 3 3 1 1 1 0 4-5 0-1-1-1-1 0zM379 329l0 2 1 1 6 1 1-1 0-2-5-3-1 0zM406 399l1 1 2 0 13-10 1-2-1-1-1 0-7 1-2 0-6 9z" fill="#96f848" stroke="#fff" stroke-width="1.8"/><path d="M411 348l1-1 0-5 0-2-8-5-2 1-5 5 0 2 6 9 1 0zM404 397l1 0 1-1 6-11-1-6-1-1-4-2-1 2-1 4-6 8-1 2 1 1zM440 370l-1-1-7 1-1 0-1 1 2 10 2 0 8-5 0-1 0-1zM367 423l-2 0-8 8-3 0-14 11-1 1 1 3 1 0 1 0 8-4 19-14 1-1-1-1zM390 411l1 1 1 0 14-11 1-1-1-2-8-5-2 0-8 9-2 1 0 1zM337 444l-15 12 0 1 1 1 1-1 16-9 1-1-1-1-2-2zM316 459l-1 1-1 1 2 1 2-1-1-1zM428 319l-4-1-1 1-2 6-3 2 0 1 2 3 6 2 1-1 0-9 2-3z" fill="#5ea92a" stroke="#fff" stroke-width="1.8"/><path d="M411 348l-7 5 0 1 2 3 8 3 2 0-1-6 1-2-3-4zM430 368l2 2 7-1 2-8-1-2-2-1-7 2-1 1 0 2-6 2 0 1 1 3zM359 319l-1 0-2 2-9 14 0 1 1 1 1 0 16-8 0-1 0-2zM429 320l2 0 8-8 1-2-1-1-8-6-2 0-1 1-4 12 1 2zM417 365l-1-2-2 0-9 9 0 2 1 2 3 1 1 0 0-4 14-3 0-1 1-1-2-3zM421 331l-2 1-7 7 0 2 1 1 13 0 1 0 0-7-1-1zM415 363l0-1-1-1-6-4-2 1-1 10 1 1 1 1 1-1zM314 458l-1-1-12-7-1 0-1 0-2 11 12 5 1 0 4-2 1-2zM367 329l11 2 2-3 0-1-6-4-7-16-1-1-8 12z" fill="#90f53e" stroke="#fff" stroke-width="1.8"/><path d="M647 147L663 190L683 212L692 250L707 255L723 247L740 197L717 147L708.3 92.5L702.2 93.3L694.2 94.6L686.2 96L678.3 97.5L670.4 99.1L662.6 100.9L654.7 102.8L646.9 104.8L639.1 107L631.4 109.2L625.4 111.1L625 113Z" fill="#fff"/><circle cx="647" cy="122.5" r="16.7" fill="#0000f0"/><path d="M681.9 111.5l1.4 .1 4.1-2.5 .6-.9-.3-3-4.8-3.5-.9 .6-2.9 6.4zM692.5 117.8l.3 1.6 .7 .3 1.6-1-1-1.6zM736.5 199.9l1.5-.8 .3-1.6-2.7-1.8-1.1 .9-.2 2.4zM704.9 127.7l-.9-.6-1 .5-1.9 2.4-.2 1.3 1.2 1.5 4.2-1.8zM726.8 224.7l-1.6-.1-.3 2.2 2.3 .2 .4-.9zM726.9 230.3l-3-.4-.6 2.1 .4 1.1 1.8 .9 .9-.8zM728.5 175.6l-2.2 .9 .1 1 2.1 4.6-2 6.2 1.3 .8 1.6-.7 2.5-6-2.8-6.2zM723.6 203.4l-2.9 5.8 .7 .7 2.3 .8 2.1-.8 .9-5.9-.4-1-1-.3zM690.3 208.7l-5.3 1.4-.1 1.6 6.3 8.8 1.7 .2 2.8-2 .4-1.6-4.5-7.8zM723.6 219.6l.1 1.7 1.5 .3 .9-.6 .9-2.2-1.4-1.1zM671.6 100.1l-.9 1.3 .2 3.3 3.8 3.2 1 .2 .9-.6 3.7-8-1.4-.9zM722 235l-4 .5-1.1 1.7 .6 1.8 .9 .5 5.2 .1 .9-2.2zM701.1 232.2l-.9 1.2 0 3.3 1 .3 3.9-.8 .1-3.2-.6-.9-1.3-.4zM711.1 220.8l-.3 1.1 1.4 4.9 .4 .6 1.5 0 1.9-2.1 0-4.1-3.7-.9zM710.8 209l.5 1 1.1 .2 3.6-1.7-.2-1.1-3.5-3.7-1.3 1.1zM728.4 191.5l-1.1 1.3 .2 7 1.1 1.2 2.8-2.1 1-4.8-.5-1.2-1.7-1.3zM708 236.5l1.4 1.1 4.2-.6 1-.8 .2-1.9-1.9-3.3-1.6-.4-2.9 1.4-.6 1.2zM705 228.9l.8 1 1.2 0 2.7-1.7-1.6-5.5-3.5 .6z" fill="#0000f0"/><path d="M706.3 247l1.5 5.7 1.1 0 4.3-2.2 .6-1.5-6.2-3.6-1 .5zM697.1 95.4l-12.4 2.5 .2 1.6 4.2 3.6 1.2 .2 7.2-3 .7-1 .3-2.6-.4-1zM719.9 221.9l-1.2 1.1 0 2.5 2.9 .9 .8-2.3-.4-1.1zM713.6 145.3l-4.2-1-.4 1.6 1 1.8 .8 .6 1-.2 1.6-1.2zM705 138.8l1 .6 1-.5 2-2.4 .1-1.3-1.1-1.4-4.2 1.8zM670.3 196.2l1.6 .1 .3-1.5-6.2-11.5-1.6-.5-1.9 1.3 1.5 5zM728.2 211.7l-2 1.2 .5 2.1 2.4 1.9 2.6 0 1.1-3.7zM709.7 139.6l0 1.5 1.5 .3 .5-1.6-1-.6zM663.4 102l-.9 1.3 .4 .8 2.4 1.9 2.4-.4 .6-1.2-.5-3zM676 119.6l1.5 .4 .6-.6 2.3-5.6-4.1-3.3-1 .7-1.9 3.8 .1 1.2z" fill="#2020e0"/><path d="M710 240.1l-1 1 0 1.7 4.1 2.6 1 0 1.6-3.9-.5-1.5-1.2-.5zM712.7 150.5l-.3 1.6 3.4 6.2 1.6 .5 1.9-1 .6-1.6-3.2-6.9-.8-.6-1 .2zM724.8 193.7l-1.3-1.2-.8 .5-2.9 4.6 4.1 2.8 1.1-1.2zM704.3 209.8l1.1 .8 2.5-.2 .6-4.6-.5-1-1-.3-3.7 1.4zM666.5 109.2l-1.9 4.4 1.1 1.7 4.5-.6 .8-.6 1.8-4.1-2.7-2.2-1.2-.1zM734.2 201.9l-1 .2-.5 .8 .3 1 1.1 1.1 1.5 .2 .7-2.4zM718.7 160.9l-.6 1.7 5.9 10.6 .6 .5 1.7-.3 .7-1.6-5.1-11.1-1.6-.6zM718 228.2l-1.2 .1-1.3 1.5 1.6 3.1 2.9-.5 .8-1 .1-1.8zM714.8 218.2l1.4-.8 1.4-4.2-.7-1.5-5.4 1.7 .9 4.2zM663.2 107.5l-1.6 .1 .1 1.8 1.1 .4 .9-.7zM691.3 105.6l-.7 1.1 .3 2.7 2.5 2.2 1.2 .3 2-.9 .8-1 .2-5.9-1.5-.5zM697.3 214.2l.8 .6 1.1-.4 2.5-2.5 .3-1.2-1.8-4.1-5 .9-.8 .7 .1 1.1zM684 116.7l-1.5-.3-.5 .5-1.1 2.3 .4 1.5 4.4-.5 0-1.5zM694.4 222.8l-.3 1.6 3.8 5.3 1.3 .4 3-1-.5-5.8-.5-.9-2.9-1.6-1.3 0zM703.9 247.9l-1-.9-4.7-.2-.6 3.4 6.1 2.1 .8-1.3z" fill="#0000b8"/><path d="M731.1 205.5l-1.7-.1-.3 3.6 4.5 .9 .5-.8-.4-1zM667.4 117.8l-1 1.3 .7 3.1 6.1-.5 .1-1.6-1.8-2.4-1.2-.5zM718.6 217.8l.2 1.1 1 .5 1.2-.5 2.6-3.3 0-1.7-.8-.9-2.1-.3zM660.9 174l-1.5-.5-.7 1.5 2 5.3 .7 .7 1 0 1.3-1.1-.1-.9zM700 217.1l-.3 1 .6 .9 3.2 1.6 4.7-.8 1.2-.9 .3-1-.9-3.7-1.1-1-3.9 .2zM717 246.4l.8 1.4 3.7-1.5 1.3-2.5-.2-1-.9-.6-3.4 .1zM716.1 202l-.1 1.6 2.5 2.4 1-.5 1.5-3.2-3.1-2.1zM691.5 114.7l-.2-1.5-2.3-1.8-3.6 2.4 2.6 3.7 1 .4zM703.8 244.5l2.5-2-.1-3.1-1-.4-5.9 1-.5 3.6z" fill="#5a5af5"/><path d="M1113 792L1140 847L1157 887L1160.8 887.3L1165.6 881.1L1170.5 874.7L1175.2 868.2L1179.9 861.6L1184.4 854.9L1188.8 848.2L1193.2 841.3L1197.4 834.5L1201.5 827.5L1205.4 820.5L1209.3 813.4L1213 806.3L1216.7 799L1220.2 791.8L1223.6 784.5L1226.8 777.1L1230 769.7L1233 762.2L1235 757L1233 757Z" fill="#fff"/><path d="M1147.4 843.3l-.3 2.6 1.8 .3 2.4-1.9 .3-1.5-1.3-.8-1.9 .4zM1142 836.6l-.9-1.4-1.4-.2-2.3 1-.6 1.7 1.2 2.4 .8 .6 1-.2 1.8-1.3zM1127.9 795.8l1.5 .5 1.9-.8 .7-1.4-1.2-.9-2.3 .2-1.1 1zM1120.4 799l-1.6-.1-.4 .7 2.4 4.7 1-.2 1.4-1.5z" fill="#3030f0"/><path d="M1133.5 791.2l2.1 3.1 1.4-.5 1.9-3.8-1.7-3.5-3.5 1zM1146.4 809l-1.4 .4-.1 3.7 2.1 1.9 1.2 0 1.3-1.5-.2-2.7-.8-1zM1143.1 816.1l-3.4 2.3 1 2.2 1 .5 3.9-.3 .6-2.7-1.8-2zM1147.4 840.2l2.5-1 .1-1-1.2-2.4-4.1 1-.2 1.3 .5 1zM1140.7 796.7l5.7-.9-.5-3.5-4.2-.4-1 .6-1.4 2.8zM1157 820.9l1.4 .7 .7-.4 3.1-4.8-3.7-2.5-3 2.4zM1151.4 855.8l1.2-.9-.8-1.4-2.3-.8-1.4 .5-.6 1.4 .4 .8zM1160.2 823.6l0 1.8 1.4 .9 10.7-2.1 1-1.5-8.3-4.8zM1219.6 774.7l1.4-.6-.4-2.8-.9-.9-1.7 .1-.5 1 .4 2.5zM1129.4 798.9l-1.4 3.3 1.5 1.4 2.9-.5 .7-.8 .6-4-1.5-.5zM1126.7 804.6l-1.4 0-3.2 2.6 2.9 5.7 3.1-1.2 .6-1-.1-4.2zM1142.4 799.5l.4 5.7 1.8-.3 2.8-4.5-.3-1.6zM1151.9 813.3l.9 1 1.3-.2 1.5-1.7-2.4-3-.9 .1-.6 1.2zM1148.8 826.8l.6 1.2 1.1 .4 6.4-1.2 .9-1.5-.7-1.4-1.5-.7-5.7 .5-.8 .3zM1148.6 818.2l.2 3.1 .9 .4 3.3-.3 .9-.6 .1-1-.9-2.4-.7-.7-1.9-.2zM1143.6 852.3l1.4 .7 1.5-1.7 .1-1.3-1.4-1.3-1.5-.1-.9 .6z" fill="#0000f0"/><path d="M1118.9 796.1l2.5-3.1-.4-1.7-4.9 1.1-.8 .6 1.5 3.4zM1156.5 805l-1.2 1.6 .1 1.3 1.6 1.3 .9-.4 .3-.9-.1-1.9-.5-.8zM1141 788.7l1 .8 3.7 .2 1.1-.6 .7-1.9-.8-2.6-1.5-.7-4.2 1.2-.8 1.6zM1134.4 805.4l-2.6 .4-.8 1.2 .1 3.5 2 1.6 1.4-.4 2.7-4.2zM1156.6 796.4l-5 2.1 .3 1.4 3 2.5 1 .3 1.5-.7-.2-4.6zM1148.4 791.6l1.3 4.3 1.1 0 5.2-2.4 .7-1.2-.5-2.1-5.9-1-1.1 .6zM1152.3 806.8l1-2.2-3.5-2.7-2.5 3.3-.2 1 2.7 1.5zM1124.8 795.3l-1.4-.5-1.4 2.1 3 3.1 1.4-1.1zM1134.2 828.5l-1.2 1 .1 .8 2.3 3.7 3.6-1.4 .7-.9-1.1-2.8-1-.5zM1226.7 765l2.1 1.3 1.5-.7 2.1-5.2-.6-1.5-6.2 1.9zM1215.1 772l-1-1.1-1.5 1 .4 1.2 .9 .5 .9-.3zM1192.6 836.5l1.5 .5 .6-.5 6.2-10.5-.4-1.6-11.9 2.3-.8 .7 0 1.1zM1155.7 782.3l-.5-.9-1-.2-4.4 1.3-.8 1.5 .6 2 1 .8 5.1 .2zM1150 848.4l-.3 1.5 .7 .6 2.2 .7 1.5-.7-.7-2.8-.8-.7zM1216.8 766.6l.9 .9 4 .5 2.5-2.1-1-3.6-1.5-.8-4.5 1.4-.8 1.3z" fill="#0000b8"/><path d="M1131.3 824.1l0 1.8 .8 .3 5-.2 1.1-.8 .6-3.2-2.1-2.4zM1130.6 821.5l4.1-4.2-.9-2.1-3.3-1.6-4.1 2.1 2.3 5.5 .8 .6zM1140.8 845.7l1.2 .6 2-.4 1-3-.5-1.3-1.1-.5-2.8 1.8-.5 .7zM1138.2 797.9l-1.1-.1-.7 .9-.8 4.4 3.4 1.8 .9-1.2-.2-4.2zM1209.1 765.2l-.8 .8 .2 1.1 2.2 2.4 3.6-2.1-.8-3.1zM1223.4 776.5l-1.2 .3-.8 1.9 .6 1.3 1.6 .5 1.3-3.1zM1226.7 768l-3.2 1.7-.5 1.2 .6 2.5 1.7 1.2 1.5-.6 1.7-4 0-.9zM1142.1 823.5l-1.1 .8-.7 2.1 .7 1.7 1.4 .5 3.2-1.3 .8-1.1-.3-2.3zM1147.3 830.5l-1.6-.7-2.8 1.1-.8 1 .3 1.3 1.8 1 2.7-.7 .8-.6zM1136.7 815.6l1.7 .4 3.5-2 .6-1.1-.2-3.8-.7-1.1-1.7 .4-3.6 4.9zM1130.6 788.6l-2.2 .5 .3 1.5 2.1-.1z" fill="#5a5af5"/><path d="M737 990L703 993L637 1000L553 1015L550 1019.9L556.5 1023.2L563.7 1026.7L571 1030.1L578.4 1033.3L585.8 1036.5L593.3 1039.5L600.8 1042.4L608.4 1045.2L616 1047.8L623.7 1050.4L631.4 1052.8L639.1 1055L646.9 1057.2L654.7 1059.2L662.6 1061.1L670.4 1062.9L678.3 1064.5L686.2 1066L694.2 1067.4L702.2 1068.7L710.2 1069.8L718.2 1070.8L726.2 1071.6L734.2 1072.4L739.3 1072.7Z" fill="#fff"/><path d="M604.4 1011.6l1-1 .7-2.7-.4-.8-3.9 .5-.3 3.9zM569 1018.1l.8 .8 2.6 .6 1.7-1.2 .2-1-1.6-4.4-4.5 .9zM696 1004.7l1.3-1-.2-8.6-11.8 1.1-.5 6zM705.2 1065.8l-.9 1.1 .9 1.1 7.8 1 1.2-.9 .5-2.4-.3-1-1-.3zM575 1020.8l.6 2.7 4.3 2.2 1.2-.1 2.4-2.6-.2-2.7-1.3-1.2-5.3 .1zM735.1 1055.6l-.5 5.5 .9 .4 2-.4-.1-5.4zM557.6 1017l2.4 1.2 .9-2.6-.5-.6-2 .2-.7 .4z" fill="#e88830"/><path d="M690.3 1045l-1.6-.3-.5 1.8 .5 .9 .9 .3 1.4-.8zM707.5 994.7l-1.2-.9-6.3 1.1-.2 9.4 8.1-.1 .9-.5zM576.2 1016.2l1.1 .8 3.9-.5-.4-5-5.2 1zM686.5 1005l-1.2 .7 0 .7 3.5 11.4 1.1 .7 1.6 0 1.1-1 .9-10.7zM556.6 1022l1.6-.6-.1-1-.7-.5-1 .3-.4 1zM602.7 1030.2l-3.4-.6-.4 .9 .1 2.8 .4 .8 2.1 .3 1.1-1zM689 1028.7l1.1 1.1 1.1-.9 .8-7-1.1-1.2-1.2 .3-.3 .8zM639.5 1002.4l1.3 1 9.8-1.4 .9-1.3-1.2-1-9.8 1-.8 .5zM734.8 1001.9l-2 2.1 .7 1.9 2.4-.6-.2-3.1zM733.6 996.6l1.2 .9 1-1.1-.2-4-1.2-1.1-1.3 .5-.2 .9zM573.9 1026.1l-1.7 2.8 .6 .7 4.7 2.1 1 0 .6-.8 .1-2.8-3.9-2.3zM602 1024.2l-1 2.7 .8 .6 1.2-.2 .4-2.7zM597.1 1011.1l1.5 .2 .5-2-.3-.9-2.6 .3-.3 .7zM728.1 1067.6l-1.3-1.3-1.3 .4-.6 1.1 .3 2.3 2.6 .2zM568.4 1026.5l1.2 .9 .7-.4 2.4-2.9 0-1.6-.8-.8-2.8-.7-1.1 .4-.4 1zM686.1 1064l.9 1 6.2 .7 .3-.9-.9-6.1-5-.5-1.4 .7zM602.4 1014l-1 1 .2 .7 1 1.6 1.6 .3 .3-3.4zM592.8 1038.1l1.2-.2 2.9-3.3-.2-4.7-.7-.9-3.4-1.3-1.1 1-1.4 7.4 .7 1.2z" fill="#e0761e"/><path d="M734.2 1011.3l1.2 .9 .7-.4-.3-3.4-1.8 .4zM596.5 1021.9l-1.2 .8-.6 2.9 3.1 1.4 1.7-3.2 0-1zM583.8 1016.7l.5 .9 1.1 0 3.4-1.9-.7-5.5-4.5 .7zM595.4 1018.9l.9 .8 3.4 .5 1.2-.9-2.5-3.7-2.7 2.1zM734.3 1064.4l1.6 6 1.3 .7 .9-1.1-.2-5.3-1.1-1.1zM595.8 1014.6l0-1.5-2.9-3.5-1.1-.4-.8 .4 .1 5.4 .7 .9 2.4 .2zM702 1065.8l0-1-4.3-7.3-1.6-.3-1 1.3 1 7.9 4.4 .9zM566.5 1019.7l.4-1.1-1-3.8-1.4-.7-.9 .7-.9 4.2 2 1.3zM651.1 1054.5l-5.8-1.6-.5 .9 .1 1.4 .6 .5 4.8 1.3 1.4-.8 0-1.2zM654.8 1058.1l1.3-.7-.9-1.5-1.4 .8 .1 .8zM722.7 1068.7l-.8-1-4-.8-.9 .1-.5 1.3 .9 1.3 4.1 .4 .9-.3zM737.5 1049.1l-1.1-1.1-1.1 1-.2 3 1 1.1 1.2-.2 .3-.9z" fill="#e8944f"/><path d="M589.3 1028.7l-.6-1.2-3.3-1.7-1.2 .1-2.6 2.5-.4 4.7 6.3 2.4zM552.6 1017.8l.2 1.4 .7 .3 1.6-1.1 .2-1.5-1.3-.8zM607.8 1039.7l-6.4-3.1-3.2 .3-1.2 1.2-.2 1.3 9.8 3.6zM727.5 1062.1l-.8 1.4 2.1 1.3 3.6-1.5-.1-1.3-1.1-.5zM628.2 1050.6l1.4-.9 .1-2.4-6.3-2.1-1.1 3.2zM609.3 1043.1l.7 1.5 8.7 3 1.4-.7 .6-1.8-.7-1.4-8.7-3.1-1.4 .7zM590.6 1017.8l-4.4 1.9-.6 1 .1 2.1 .6 .9 4.9 2.2 1.1-.9 1.2-4.8-.9-1.7zM721.2 1063.1l-.9 1.1 .9 1.1 1.6 .3 1.4-.8-.3-1.8zM637.3 1002.2l-1.3-.9-12.2 2.2-.9 1.3 1.3 .9 12.2-1.7 .8-.4zM693.1 1056.3l2.5-1.9-2.4-4.6-1.2-.5-3.7 1.2-.1 5.2zM733.4 1070.3l-1.4-3.7-1.5 .4-.2 2.9 1 1.1 1.6-.1zM678.8 1061.4l-.6 1.6 .8 .5 3.5 .7 1-.2 .4-.9-.5-2.9z" fill="#b25a12"/><path d="M786 215l-1-2-1 0-1 0-1 2 2 37 0 1 2 1 2-1 0-2zM874 400l-1 1 0 2 10 11 1 1 2-1 6-5 1-1 0-2-8-10-1-1-1 1zM899 389l0 1 4 9 1 1 2-1 6-5 0-1-1-1-9-5-2 0zM802 340l1 2 32 28 1 0 2-1 7-10 0-2-1-1-38-21-2 0-1 2zM872 374l0-2-1-2-24-12-1-1-1 1-8 13-1 3 1 1 11 8 1 0 14-1 1-1zM837 376l-2 0-16 12-1 1 1 2 27 18 1 0 1-1 1-1-1-23-1-1zM866 407l-1-1-1 0-11 3-1 1 0 2 1 1 18 12 2-1 1-2 0-1zM835 375l1-3 0-2-32-27-2 0-1 0-16 24 0 2 1 1 30 19zM899 391l-1-1-1 0-9 3-3 2 1 2 7 9 1 1 2 0 7-5 0-1 0-2zM897 390l2-2 0-2-1-1-7-4-2 0-1 0-1 9 1 2 2 0zM849 408l1 2 1 0 14-4 5-5-6-18-1-1-13 1-1 1-1 1z" fill="#f3cc55" stroke="#fff" stroke-width="2"/><path d="M870 399l1 2 2-1 9-4 1-1 0-2-9-18-2-1-2 1-6 6 0 2zM744 336l-2 1 0 1 2 4 39 26 1 0 1-1 17-25 1-6 0-2-1-1-8-4-1-1-1-11-6-2-2 1-7 9-33 3-1 1 0 2z" fill="#b38d22" stroke="#fff" stroke-width="2"/><path d="M786 254l-2 0 0 2 2 57 0 2 4 1 2 0 0-2-3-59-1-1zM872 402l-1-1-1 1-4 4 0 1 7 14 2 1 1-1 6-4 1-2 0-1zM817 125l1-4-1-1-1-1-1 1-22 28 0 2 0 1 2 1 1-1 48-37 1-1-1-1-1-1-1 0z" fill="#efc237" stroke="#fff" stroke-width="2"/><path d="M877 374l-2-1-1 2 0 1 9 17 1 1 2 0 1-2 1-11-1-2z" fill="#c39c26" stroke="#fff" stroke-width="2"/><path d="M666 208l-2 1 0 1 1 2 1 0 12 0 2-1 0-1 0-2-3-2zM633 216l1-1-1-2-1-1-15 2-4 12 1 12 1 1 4 1 2 0 0-2 2-14zM639 134l-15-22-1 0-3 1-1 1 0 2 7 11 0 2 10 8 1 0 1 0 1-1zM669 322l1 1 1 1 11-1 7 3 2 1 1-1 0-4-7-9-1-1-3 1-11 2-1 1-1 2z" fill="#ab4ef8" stroke="#fff" stroke-width="2"/><path d="M630 277l4 3 1 0 2-3 11-1 1 0 1-2 0-1-2-1-11 0-6 3zM619 256l1-1 1-13 0-1-2-1-2 0-2 0-1 2 1 12 0 2zM705 260l0-1-2-1-1 0-9 8-1 2 0 1 6 3 2 0 1-1zM695 259l0 1 1 1 2 0 3-3 1-1 0-1-4-3-2 0-1 2zM546 330l1 2 2 0 3 0 1-1 0-2-1-1-3-1-2 1zM631 293l-5 1-1 1 1 1 4 2 1 0 1-2 0-2zM605 296l0 1 1 1 2 0 11-4 1-1-2-13 3-1 0-1-3-5-4-3-1 0-2 0 0 2z" fill="#9a10f5" stroke="#fff" stroke-width="2"/><path d="M648 319l-10 2-1 1 0 2 1 2 10-1 1 0 1-4-1-1zM668 318l0-2-2 0-14 3-1 0-1 1 0 3 1 2 1 0 15-1 1-1 1-1zM684 274l-1 2 1 1 6 9 1 1 2 0 6-11 0-3-1-1-6-3-3 0zM650 274l1 1 1 1 4-1 1-1-1-1-1-1-4 1z" fill="#6a00b8" stroke="#fff" stroke-width="2"/><path d="M628 323l-1 1-1 1 1 1 1 1 7-1 2-1 0-1-1-2z" fill="#c07cff" stroke="#fff" stroke-width="2"/>
<polygon points="705,260 725,259 744,336 695,327.3 684.3,311.7" fill="#e8944f" stroke="#fff" stroke-width="2.2"/>
<polygon points="693.3,328.3 743,342 871,425 910,588 808.3,685 731.7,705 613.3,675 568.3,628.3 540,515 553.3,456.7" fill="#a00000" stroke="#fff" stroke-width="2.2"/>
<polygon points="911.7,588.3 808.3,685 816.7,720 836.7,745 950,752.7" fill="#ad0000" stroke="#fff" stroke-width="2.2"/>
<polygon points="488.3,341.7 553.3,331.7 681.7,323.3 693.3,328.3 553.3,456.7 530,448.3" fill="#b80000" stroke="#fff" stroke-width="2.2"/>
<polygon points="398.3,408.3 488.3,341.7 530,448.3 508.3,475 411.7,470" fill="#d80000" stroke="#fff" stroke-width="2.2"/>
<polygon points="530,448.3 553.3,456.7 538.3,523.3 508.3,475" fill="#dc0808" stroke="#fff" stroke-width="2.2"/>
<polygon points="350,441.7 398.3,408.3 411.7,470" fill="#c00000" stroke="#fff" stroke-width="2.2"/>
<polygon points="290,478.3 350,441.7 411.7,470 413.3,556.7 368.3,583.3 280,566.7 276.7,513.3" fill="#b80000" stroke="#fff" stroke-width="2.2"/>
<polygon points="413.3,473.3 508.3,476.7 523.3,510 461.7,571.7 413.3,555" fill="#df4a4a" stroke="#fff" stroke-width="2.2"/>
<polygon points="461.7,571.7 523.3,510 538.3,523.3 551.7,560 568.3,628.3 548.3,640 461.7,606.7" fill="#a00000" stroke="#fff" stroke-width="2.2"/>
<polygon points="413.3,555 460,571.7 461.7,606.7 420,616.7" fill="#b40000" stroke="#fff" stroke-width="2.2"/>
<polygon points="368.3,583.3 413.3,555 420,616.7 398.3,633.3 381.7,630" fill="#c40000" stroke="#fff" stroke-width="2.2"/>
<polygon points="278.3,553.3 368.3,583.3 381.7,630 348.3,680.7 295,688.3 276.7,626.7" fill="#c80000" stroke="#fff" stroke-width="2.2"/>
<polygon points="348.3,680.7 381.7,630 398.3,634 378.3,696.7" fill="#df1212" stroke="#fff" stroke-width="2.2"/>
<polygon points="295,688.3 348.3,681.7 378.3,698.3 388.3,745 326.7,780 290,746.7" fill="#df4a4a" stroke="#fff" stroke-width="2.2"/>
<polygon points="461.7,606.7 548.3,640 560,690 550,743.3 451.7,783.3 388.3,745 378.3,696.7 398.3,633.3" fill="#9c0000" stroke="#fff" stroke-width="2.2"/>
<polygon points="326.7,780 388.3,746.7 451.7,785 405,900 336.7,860" fill="#de3030" stroke="#fff" stroke-width="2.2"/>
<polygon points="451.7,785 550,745 583.3,748.3 668.3,818.3 679.3,873.3 675,918.3 623.3,982.7 546.7,1014 470,976.7 405,900" fill="#9c0000" stroke="#fff" stroke-width="2.2"/>
<polygon points="548.3,640 568.3,628.3 613.3,675 593.3,693.3 561.7,690" fill="#e03a3a" stroke="#fff" stroke-width="2.2"/>
<polygon points="561.7,691.7 593.3,694 583.3,746.7 551.7,743.3" fill="#df1212" stroke="#fff" stroke-width="2.2"/>
<polygon points="613.3,676.7 731.7,706.7 735,741.7 716.7,793.3 668.3,816.7 583.3,748.3 593.3,693.3" fill="#a00000" stroke="#fff" stroke-width="2.2"/>
<polygon points="731.7,706.7 751.7,704 758.3,738.3 736.7,741.7" fill="#ad0000" stroke="#fff" stroke-width="2.2"/>
<polygon points="753.3,703.3 808.3,686 816.7,720 776.7,743.3 760,738.3" fill="#df4a4a" stroke="#fff" stroke-width="2.2"/>
<polygon points="778.3,745 816.7,721.7 836.7,745 811.7,780 798.3,776.7" fill="#e03a3a" stroke="#fff" stroke-width="2.2"/>
<polygon points="736.7,743.3 758.3,740 778.3,745 798.3,778.3 780,818.3 741.7,825 716.7,793.3" fill="#df1212" stroke="#fff" stroke-width="2.2"/>
<polygon points="800,781.7 811.7,781.7 816.7,823.3 781.7,818.3" fill="#e03a3a" stroke="#fff" stroke-width="2.2"/>
<polygon points="836.7,746.7 950,753.3 940,786.7 923.3,818.3 901.7,863.3 848.3,861.7 816.7,825 813.3,781.7" fill="#cf0000" stroke="#fff" stroke-width="2.2"/>
<polygon points="670,818.3 716.7,795 741.7,826.7 725,846.7 678.3,841.7" fill="#ad0000" stroke="#fff" stroke-width="2.2"/>
<polygon points="743.3,826.7 780,820 816.7,825 846.7,861.7 836.7,913.3 793.3,938.3 743.3,925 720,888.3 725,848.3" fill="#b20000" stroke="#fff" stroke-width="2.2"/>
<polygon points="678.3,843.3 725,848.3 720,888.3 680,881.7" fill="#b40000" stroke="#fff" stroke-width="2.2"/>
<polygon points="679.3,883.3 720,890 718.3,906.7 676.7,918.3" fill="#d40000" stroke="#fff" stroke-width="2.2"/>
<polygon points="676.7,920 718.3,906.7 743.3,926.7 741.7,965 713.3,990 693.3,985 668.3,938.3" fill="#df4a4a" stroke="#fff" stroke-width="2.2"/>
<polygon points="745,926.7 791.7,940 788.3,958.3 743.3,980.7 741.7,965" fill="#c00000" stroke="#fff" stroke-width="2.2"/>
<polygon points="848.3,863.3 901.7,865 896.7,880 873.3,895" fill="#d40000" stroke="#fff" stroke-width="2.2"/>
<polygon points="846.7,865 873.3,895 856.7,914 836.7,913.3" fill="#e03a3a" stroke="#fff" stroke-width="2.2"/>
<polygon points="836.7,915 856.7,914 833.3,939.3 816.7,938.3 795,939.3" fill="#df1212" stroke="#fff" stroke-width="2.2"/>
<polygon points="931.7,815 936.7,898.3 918.3,900 898.3,878.3 923.3,818.3" fill="#e03a3a" stroke="#fff" stroke-width="2.2"/>
<polygon points="668.3,940 691.7,986.7 663.3,993.3 646.7,968.3" fill="#e03a3a" stroke="#fff" stroke-width="2.2"/>
<polygon points="623.3,983.3 646.7,969.3 641.7,999.3 628.3,1000" fill="#e03a3a" stroke="#fff" stroke-width="2.2"/>
<polygon points="646.7,970 663.3,994 643.3,999.3" fill="#d80000" stroke="#fff" stroke-width="2.2"/>
<polygon points="546.7,1014 623.3,983.3 628.3,1000.7 556.7,1014" fill="#df1212" stroke="#fff" stroke-width="2.2"/>
<polygon points="693.3,986.7 713.3,990.7 703.3,993.3 665,995" fill="#d00000" stroke="#fff" stroke-width="2.2"/>
<polygon points="715,990.7 742.7,981.7 763.3,975.7 736.7,990" fill="#e03a3a" stroke="#fff" stroke-width="2.2"/>
<polygon points="791.7,941.7 816.7,939.3 803.3,953.3 793.3,956.7" fill="#e03a3a" stroke="#fff" stroke-width="2.2"/>
<polygon points="743.3,981.7 788.3,960 793.3,957.3 765,974.3" fill="#d00000" stroke="#fff" stroke-width="2.2"/>
<polygon points="981.7,773.3 1113.3,793.3 1140,846.7 1126.7,920 1076.7,966.7 973.3,955 936.7,900 936.7,815 951.7,790" fill="#c00000" stroke="#fff" stroke-width="2.2"/>
<polygon points="946.7,770 978.3,773.3 955,790" fill="#a80000" stroke="#fff" stroke-width="2.2"/>
<polygon points="1140,850 1156.7,888.3 1133.3,916.7 1128.3,920" fill="#e03a3a" stroke="#fff" stroke-width="2.2"/>
<polygon points="973.3,956.7 1075,968.3 1093.3,976.7 1015,1008.3" fill="#d80000" stroke="#fff" stroke-width="2.2"/>
<polygon points="921.7,900 936.7,901.7 973.3,956.7 1015,1008.3 1010,1008.3 986.7,981.7" fill="#d40000" stroke="#fff" stroke-width="2.2"/>
<polygon points="936.7,816.7 936.7,900 921.7,899.3 898.3,878.3 923.3,823.3" fill="#e03a3a" stroke="#fff" stroke-width="2.2"/>
<polygon points="896.7,880.7 918.3,900.7 835,939.3" fill="#5ba3d0" stroke="#fff" stroke-width="2.2"/>
<polygon points="835,940 918.3,903.3 986.7,980.7 975,1026.7 910,1050.7 865,1027.3" fill="#7ccfff" stroke="#fff" stroke-width="2.2"/>
<polygon points="986.7,981.7 1009.3,1007.3 976.7,1026.7" fill="#5aaee0" stroke="#fff" stroke-width="2.2"/>
<polygon points="976.7,1027.3 1009.3,1009.3 1008.3,1020 973.3,1040" fill="#3f7fa8" stroke="#fff" stroke-width="2.2"/>
<polygon points="866.7,1029.3 910,1052 973.3,1028.3 971.7,1041.7 880,1066.7" fill="#7ccfff" stroke="#fff" stroke-width="2.2"/>
<polygon points="736.7,991.7 759.3,980.7 764,988.3 808.3,1073.3 740,1073.3" fill="#8a00e6" stroke="#fff" stroke-width="2.2"/>
<polygon points="763.3,975 833.3,940.7 865,1028.3 875,1058.3 810,1073.3" fill="#9b14f8" stroke="#fff" stroke-width="2.2"/>
<polygon points="866.7,1030.7 880.7,1061.7 851.7,1070 836.7,1071.7 875,1059" fill="#a545f5" stroke="#fff" stroke-width="2.2"/>
<polygon points="606.7,1009.3 681.7,998.7 688.3,1020 686.7,1057.3 675,1061.7 603.3,1036.7" fill="#e0761e" stroke="#fff" stroke-width="2.2"/>
<polygon points="695,1006 731.7,1004 736,1026.7 733.3,1060 703.3,1065 690.7,1043.3" fill="#b25a12" stroke="#fff" stroke-width="2.2"/>
<polygon points="708.3,993.3 731.7,992 733.3,1001.7 710,1002.7" fill="#e8944f" stroke="#fff" stroke-width="2.2"/>
<polygon points="416.7,240 456.7,203.3 531.7,153.3 581.7,168.3 613.3,226.7 615,253.3 605,296.7 553.3,328.3 466.7,306.7" fill="#c07cff" stroke="#fff" stroke-width="2.2"/>
<polygon points="533.3,151.7 536.7,146.7 595,122.7 604.3,133.3 582.3,167.3" fill="#c07cff" stroke="#fff" stroke-width="2.2"/>
<polygon points="595,122 617.3,112.7 626,127.3 605.3,132.7" fill="#6a00b8" stroke="#fff" stroke-width="2.2"/>
<polygon points="605,134 627.3,129.3 646.7,146.7 663.3,191.7 645,211.7 616.7,213.3 613.3,226.7 582.7,169" fill="#9a10f5" stroke="#fff" stroke-width="2.2"/>
<polygon points="636.7,213.3 683.3,211.7 699,233.3 694,261.7 680.7,272 636.7,272 620,253.3 622.7,223.3" fill="#ab4ef8" stroke="#fff" stroke-width="2.2"/>
<polygon points="636.7,276.7 682,275 692,288.3 682,313.3 643.3,320 632,296.7" fill="#ab4ef8" stroke="#fff" stroke-width="2.2"/>
<polygon points="613.3,256.7 620.7,256 635,273.3 623.3,277.3 613.3,270" fill="#6a00b8" stroke="#fff" stroke-width="2.2"/>
<polygon points="618.3,280 632.7,278.3 630,293.3 620,293.3" fill="#6a00b8" stroke="#fff" stroke-width="2.2"/>
<polygon points="606.7,298.3 618.3,295 631,298.3 641.7,320.7 613.3,325 610,310" fill="#b060fa" stroke="#fff" stroke-width="2.2"/>
<polygon points="578.3,313.3 605,298.3 609.3,310 611.7,326 580,328.3" fill="#9a10f5" stroke="#fff" stroke-width="2.2"/>
<polygon points="468.3,308.3 546.7,329.3 490,338.3" fill="#6a00b8" stroke="#fff" stroke-width="2.2"/>
<polygon points="553.3,329.3 576.7,315 578.3,328.3 556.7,332.7" fill="#9a10f5" stroke="#fff" stroke-width="2.2"/>
<polygon points="695,262.7 703.3,256.7 683.3,275 681.7,273.3" fill="#6a00b8" stroke="#fff" stroke-width="2.2"/>
<polygon points="663.3,193.3 675,206.7 646.7,211.7" fill="#6a00b8" stroke="#fff" stroke-width="2.2"/>
<polygon points="646.9,145.6 664.3,124.2 693.8,120.9 727.3,181.8 725.3,187.2 715.2,201.2 685.7,208.6 679,204.6" fill="#00009c" stroke="#fff" stroke-width="2.2"/>
<polygon points="731.7,86.7 816.7,86 827.3,103.3 783.3,161.7 753.3,183.3 718.3,150 716.7,143.3" fill="#5ea92a" stroke="#fff" stroke-width="2.2"/>
<polygon points="700,93.3 731.7,87.3 716,145 698.3,113.3" fill="#4a8a20" stroke="#fff" stroke-width="2.2"/>
<polygon points="735,180 751.7,185.3 740.7,197.3 730,190" fill="#4a8a20" stroke="#fff" stroke-width="2.2"/>
<polygon points="820,88.3 838.3,91.7 828.3,103.3" fill="#90f53e" stroke="#fff" stroke-width="2.2"/>
<polygon points="866.7,96.7 926.7,106.7 1026.7,160 1076.7,193.3 1073.3,293.3 913.3,393.3 793.3,328.3 782.7,161.7" fill="#e5b42e" stroke="#fff" stroke-width="2.2"/>
<polygon points="780,163.3 786,313.3 777.3,325 745,328.3 725,253.3 725,240 741.7,198.3" fill="#f3cc55" stroke="#fff" stroke-width="2.2"/>
<polygon points="838.3,93.3 868.3,96 816.7,125 827.3,104" fill="#f3cc55" stroke="#fff" stroke-width="2.2"/>
<polygon points="1078.3,195 1133.3,236.7 1078.3,260" fill="#90f53e" stroke="#fff" stroke-width="2.2"/>
<polygon points="1078.3,262.7 1134,238.7 1171.7,280 1160,295 1110,297.3 1075,292.7" fill="#5ea92a" stroke="#fff" stroke-width="2.2"/>
<polygon points="1175,283.3 1186.7,296.7 1163.3,296.7" fill="#4a8a20" stroke="#fff" stroke-width="2.2"/>
<polygon points="1075,293.3 1080,266.7 1085,295" fill="#90f53e" stroke="#fff" stroke-width="2.2"/>
<polygon points="320,383.3 335,381.7 370,408.3 371.7,418.3 316.7,459.3 296.7,446.7" fill="#4a8a20" stroke="#fff" stroke-width="2.2"/>
<polygon points="398.3,261.7 421.7,239.3 428.3,251.7 405,266.7" fill="#5ea92a" stroke="#fff" stroke-width="2.2"/>
<polygon points="410,373.3 430,368.3 431.7,385 413.3,388.3" fill="#4a8a20" stroke="#fff" stroke-width="2.2"/>
<polygon points="415,353.3 426.7,350 430,363.3 416.7,365" fill="#5ea92a" stroke="#fff" stroke-width="2.2"/>
<polygon points="404.6,382 388.1,402.7 361.2,405.8 339.8,390.2 331.4,365.4 341.8,341.1 365.2,328.5 391.5,334.1 405.8,356.3" fill="#90f53e" stroke="#fff" stroke-width="2.2"/>
<polygon points="420.7,325.5 396.2,335.2 373.6,323.1 364.4,300.2 372.8,276.1 397.2,266.7 420.9,277.1 429.5,301.1" fill="#90f53e" stroke="#fff" stroke-width="2.2"/>
<polygon points="464.7,361.8 442.5,361.9 427.3,345.5 427.3,323.1 443.6,307.4 465.7,309.1 480.6,324.8 481.9,347.1" fill="#96f646" stroke="#fff" stroke-width="2.2"/>
<polygon points="426,299.5 408.6,290.2 404.3,270.9 417.4,255.9 437,256.7 449.4,272.2 445.1,292.2" fill="#90f53e" stroke="#fff" stroke-width="2.2"/>
<polygon points="451.1,310.6 443.1,299.6 448.8,287.2 462.4,285.8 470.2,297.1 464.7,309.6" fill="#90f53e" stroke="#fff" stroke-width="2.2"/>
<polygon points="342,427 338.7,412 350.1,402 364.2,406.7 367.1,421 356.6,431.5" fill="#90f53e" stroke="#fff" stroke-width="2.2"/>
<polygon points="1156.7,780 1206.7,766.7 1221.7,786.7 1213.3,820 1183.3,826.7 1160,813.3" fill="#0000f0" stroke="#fff" stroke-width="2.2"/>
<polygon points="1148.3,830 1183.3,823.3 1193.3,840 1180,856.7 1156.7,853.3" fill="#00009c" stroke="#fff" stroke-width="2.2"/>
<polygon points="1143.3,856.7 1180,858.3 1156.7,890" fill="#0000b8" stroke="#fff" stroke-width="2.2"/>
<path d="M940 711l0 1 4 16 2 2 2 0 3-4 9-25 2-2 0-2-8-10-2-1-2 0-1 2zM1038 463l-16 8-1 2 0 12 0 1 1 1 2 0 22-9 8-9 0-3-1-1-2-2zM964 453l13 0 1-1 8-19 0-8-5-3-3 0-17 9-2 1 0 1 2 18 1 1zM1192 440l-1 2 0 2 10 13 1 1 2-1 14-9 1-1-1-2-4-11-1-1-2 0zM1117 566l-1 1-1 4 0 2 5 14 2 1 2 0 19-7 2-2-1-2-13-16-1-1-2 1zM1023 716l0 4 0 2 2 1 2-1 7-6 4 0 1-2-1-2-12-13-2-1-1 1-7 3-1 2 0 2zM901 550l1 2 2 0 1-1 10-15 1-1-1-3-3-1-12 2-2 1 0 2zM1029 696l-2 1 0 2 0 2 16 16 1 1 11 2 2-1 1-1 0-3-10-19-1-1zM980 453l-2 0-1 1 0 2 6 15 2 2 8 1 2 0 1-2 0-16-1-1-1-1zM944 481l3 0 10-3 1-1 1-1-1-17-1-2-3-1-2 1-16 11-1 1 0 3 1 2zM1188 383l6 5 1 0 9-4 1-1 0-2-1-9-1-1-4-2-2 0-1 3-8 7-1 2zM1226 449l0 1 0 2 3 4 2 1 3 0 2 0 11-10 1-3-3-10-1-1-2-1-1 1zM1187 518l4 14 2 2 1 0 2-1 17-19 9-1 2-1 0-4-2-1-9-6-2 1-23 15z" fill="#e7b830" stroke="#fff" stroke-width="2"/><path d="M1081 408l0-2-3-6-1-1-1 0-10 2-2 1-3 4 0 2 2 8 2 2 3 0 2 0 9-6zM1175 393l-1 1 1 2 4 8 2 1 2 0 7-4 1-1 0-2-1-2-11-5-2 0zM1070 763l-19 16-1 1 1 2 1 1 28 4 2 0 1-2 2-6-1-3-6-14-2-1-2-1-3 0zM923 410l-2-1-1 1-7 6 0 2 1 2 6 4 9 1 2-1 1-1-1-2zM915 392l0 2 0 2 3 6 1 1 2 0 2-2 0-9 0-2-2-1-1 1zM905 446l-1-1-2-1-9 4-1 1 0 4 2 2 6 0 2-1 3-3 1-1zM1053 393l-9 5-1 1 0 2 1 1 5 4 1 1 9 0 3-2 2-3 0-3-5-8-2-1-2 0zM1115 574l-1-1-2 0-17 5-1 2-2 7 0 2 12 12 2 1 2-1 8-10 3-1 1-2 0-2zM1001 671l-2 1-1 2 1 1 8 9 2 1 2-1 9-5 1-1-1-6-1-1-2-1zM950 458l1-1 0-2-2-1-8-5-2 0-9 6-1 1 0 2 5 8 1 1 2 0zM1039 403l-3 16 1 1 5 4 2 0 1-2 4-14-1-2-5-5-2 0-1 0zM1221 448l-3 0-15 10-1 2 0 3 0 2 9 8 2 1 11-3 2-2 3-10 0-3-4-5zM1111 787l-1 1 0 3 2 1 2 0 16-5 2-1 0-2-2-3-2 0zM1103 791l2-1 1-1 0-2-1-1-17-8-2 0-1 2-2 4 1 3 1 1zM1250 470l1-2-1-2-16-9-4 1-1 1-3 11 0 2 4 4 3 1 14-4zM1057 712l1 1 2 0 1-1 12-26 0-1 0-1-6-7-2-1-2 1-14 11-1 2 0 5zM1181 507l4 9 2 1 2-1 21-14 1-1-1-2-3-5-2-1-11-3-2 1-10 8-1 2zM1008 694l1 2 4 6 1 1 2 0 8-5 1-2 1-12-1-2-4-4-1 1-10 6-1 2z" fill="#b38d22" stroke="#fff" stroke-width="2"/><path d="M1085 342l4 5 0 1-3 1-1 2 1 2 4 5 2 1 9 0 2-1 0-2-1-3 2-20 0-1-2-1-1 0-2 1-2 6-1 0-19-4-2 1-1 1 1 3 1 1zM1199 407l-1-2-5-4-3 0-10 6-2 4 0 2 6 9 1 1 2 0 12-7 1-2zM1247 476l-1-2-2 0-11 2-1 2-1 1 2 10 1 2 3 0 11-5zM1221 409l0-2-1-1-8-7-1-1-2 1-9 6-1 2 1 7 1 2 9 6 2 0 1-1zM1267 586l-12-9-1 0-14 8-2 2 1 3 2 0 24 2 2 0 0-4zM1000 414l1 2 2 1 19-2 1-1 1-2 0-4-1-1-1-1-16-4-2 1-1 1zM1070 440l0 2 2 1 16 4 2-1 1-2 0-15 0-1-2-1-5-1-7 2-2 1zM1147 731l2 17 2 2 8 3 2 0 11-3 1-1 0-2-3-17-2-2-20-2-2 1-1 2zM1041 439l-2-1-11 1-1 0-7 7-1 2 1 1 17 13 1 1 11 0 2 0 1-2-1-1zM1064 510l1 2 1 1 2-1 26-13 1-2-1-3-24-20-5-1-2 1 0 2zM1035 402l-11 6 0 1 0 5 2 4 2 1 5 0 2 0 1-2 2-12 0-2-1-1zM979 449l0 2 2 2 14 1 2-1 1-2 0-1-10-13-1-1-2 0-1 1zM1183 455l-5 6-1 2 1 1 8 6 3 0 11-5 2-2 0-3 0-2-12-16-2-1-3 0-1 2zM1222 506l1 0 2 0 6-7 2-7-2-14-4-6-3-1-11 3-2 1-4 17 0 2 4 6zM1009 428l12-1 2-2 3-5 0-2-1-2-2-1-22 2-2 1-1 3 1 2zM1187 423l-1 2-1 13 0 1 3 2 2 0 22-9 2-2-2-6-1-1-10-7-2 0zM1255 470l-1-1-2-1-1 1-3 3-1 2 1 10 0 2 7 2 2 0 1-1 0-2zM943 704l8-21-2-2-14-6-1 0-2 1 0 2 6 26 1 1 3 0zM999 451l-2 3-1 1 0 14 1 2 1 1 2 0 11-6 1-2 1-11 0-2-2-1-4-1zM1016 445l1 1 2 0 1 0 6-6 1-3-4-9-1-1-1 0-8 1-2 1 0 2zM973 677l-2-1-2 1 0 2-1 14 1 2 1 1 2 0 9-5 1-1 0-3zM997 517l23 7 2 0 1-2 3-6 0-2-9-17-1-1-13-4-2 0-19 13-1 2 0 9 1 1 2 1zM908 466l-3 5-1 2 3 10 1 1 8 4 1 0 2-1 5-8 0-3-7-12-1-1-2 0zM969 670l0 3 14 16 4 2 2 0 1-2 6-14 0-2-1-1-1-1-12 1-10-3-2 0zM1093 554l-4-1-1 1-2 1 0 5 1 7 6 10 1 1 2 0 17-5 2-2 1-4-1-2-12-14-2-1-1 1zM986 432l0 2 12 16 1 1 2 0 3-1 1-1 0-2-9-23-1-1-2 0-6 2zM906 555l-2 0-1 1 0 2 4 19 1 2 2 0 2-1 0-1 1-7 5-9 0-2-1-2zM1000 423l-2 0-1 1 0 2 9 22 2 1 4 1 2 0 3-2 0-2-7-17-1-2zM1160 498l-1 3 1 7 1 1 2 1 16-2 2 0 0-2 0-5-1-2-10-7-2-1-2 1zM1086 649l2 0 1-2 1-17 0-2-1-1-2 0-12 5-1 1 0 2 2 12zM1236 686l-2 1 0 2 0 1 14 14 1 1 2 0 1-2 4-17-1-2-2-1zM1019 449l-1-1-2 0-2 2-1 2-1 12 1 2 7 5 3 0 11-6 1-2 1-1-1-2zM928 642l-2-1-2 1 0 2 7 28 1 2 17 7 3 0 15-9 1-2 0-2-1-1-18-5z" fill="#f3cc55" stroke="#fff" stroke-width="2"/><path d="M1220 594l-11-4-3 3-1 2 1 1 11 9 2 1 2-1 0-2 0-7zM1193 401l6 4 2 0 9-7 1-1 1-7-1-2-5-5-12 5-1 2-2 6 1 3zM1056 469l-1-1-2 1-7 10-5 28 1 2 2 1 17 2 2-1 1-2-2-35-1-2zM1071 651l-1 2-2 9 0 2 3 1 14-1 1-1 1-2 1-9 0-2-2-1-9-2-2 1zM1219 446l1 2 3 1 2 1 1-1 17-18 0-2-1-3-2-1-24 4-2 2 0 2zM912 531l1 0 1-2 2-15-1-1-2-1-18-1-2 1-1 2 4 17 1 2 2 0zM1238 455l-1 2 1 2 11 6 2 1 2-1 0-4-3-11-1-2-2 0-1 0zM1239 646l-2 14 1 2 1 1 19 1 2 0 1-2 1-9 1-7 0-2-2-1-20-2-1 1-1 1zM1096 412l3-1 12-14 0-1 0-2-2-1-23-5-2 0-1 1-5 9 0 2 3 6 1 1zM1259 574l-2 3 1 2 5 4 2 1 2-1 0-1 0-14-1-2-2-1-1 2zM913 512l2-1 1-1 4-16-2-5-1-1-9-4-2 0-17 8-1 1 0 2 3 14 1 1 1 1zM997 473l-1 1 0 2 5 14 2 1 12 4 1 0 1-1 4-6 0-15-1-2-6-5-3 0zM952 681l-1 1 0 2 11 14 2 1 3-1 1-2 1-21-1-1-1-1-2 0zM1021 677l4 5 3 0 10-3 1-1 2-6-1-2-5-8-2-1-2 0-11 7-1 1 0 2zM905 452l-3 3 0 2 4 7 2 1 2 0 6-2 4-6 0-2-2-2-11-2zM1239 426l2-2 0-2-5-15-1-1-2-1-10 2-1 1-9 14-1 2 3 5 1 0zM935 472l0-4-6-11-2-1-4-1-2 0-1 1-3 5 0 3 7 11 1 2 2-1 6-2zM1094 491l1 1 2 1 2-1 11-12 0-3-1-1-2-1-8-13-2-1-2 1 0 2zM935 426l-2-1-12-1-2 2-7 10 0 2 1 1 6 5 1 1 2-1 13-14 1-1zM1085 567l1-2 0-3-1-1-2 0-19 7-1 1 0 2 3 8 2 2 2-1zM905 485l1-1 0-2-2-9-1-2-16-4-2 0-3 2 0 2 5 19 1 2 2 0zM1168 489l1 2 11 8 1 0 2 0 9-8 0-1 0-2-4-8-2-1-1 0-16 6-1 1z" fill="#eec136" stroke="#fff" stroke-width="2"/><path d="M888 450l-9 4-1 2 3 10 1 1 2 0 2-1 6-11 0-2 0-2-2-1zM1092 618l2 1 1-1 10-13 0-1 0-2-13-13-2-1-21 7-1 0-1 6 1 3zM1206 370l-2 3 2 9 0 2 5 4 2 0 11-3 1-1 0-2-1-4-6-12-1-1-2 0zM1217 593l2 0 1-1 1-3 5 0 1 0 1-2 0-2-2-1-12-2-2 0-1 1-1 4 0 2 1 1zM1055 547l-1 2 0 2 2 1 5 14 2 2 1 0 20-8 2-2 0-3 0-2-1-1-19-4-1-5-1-1-2 0zM1131 537l-1-2-1-1-2 0-23 14-1 2 0 2 12 13 1 0 2 0 11-5 2-2zM1106 315l0 2 2 1 2 0 16-15 1-1 0-2-2-1-16-1-2 0-1 2 0 2 3 5zM1059 666l3 2 2 0 3-2 3-13 0-1-1-1-13-9-2 0-2 1-3 6 0 3zM1193 489l1 1 10 2 2 0 1-1 4-16-1-2-7-8-2 0-1 0-11 5-2 2 0 7zM1234 683l0 2 2 1 19-3 1-1 1-1 3-14-1-2-1-1-19-1-2 0-1 2zM1232 709l9 18 1 1 2 0 2-2 5-17-1-2-17-18-1 0-2 1-10 11 0 2 1 2zM1064 670l-1-2-5-1-16 4-2 2-1 5 1 2 6 7 2 1 2 0 14-12 1-2zM918 536l-1 0-2 1-9 14-1 2 2 2 11 2 2 0 1-1 7-12 1-2-2-2zM1040 670l1 1 2 0 13-4 1-1 0-2-7-11-2-1-2 0-10 7-1 1 0 2zM916 510l0 2 2 1 24 6 3 0 1-2 1-9-1-2-1-2-16-9-7-1-2 0-1 2zM962 520l17-2 2 0 0-2 0-10 0-1-11-11-1-1-2 1-19 13-1 1-2 11 3 6 1 2 2-1zM1172 576l-1 1-1 1 1 2 1 1 21 5 9 7 2 1 2-1 3-3 2-7 0-1-1-1-15-19-1-1-2 0-1 2-4 11zM941 502l2 0 2 0 0-2 0-13 0-2-2-1-2 1-10 7-1 2 2 2zM1063 364l-2 6 0 3 2 1 15 2 2-1 10-14 0-2 0-1-5-6-1-1-2 1-14 8-4-2-1 1-1 2zM1137 486l-1 1-1 1 0 2 1 2 2 1 19-1 2 4 1 1 2-1 5-5 1-2-1-4-3-6-2-1-1 0z" fill="#c39c26" stroke="#fff" stroke-width="2"/><path d="M916 534l12 7 2 0 2-2 15-10 1-1 0-2-2-5-2-1-25-7-3 0-1 2-1 15zM1164 477l0 1 0 2 3 4 1 1 2 0 15-6 2-2 0-5-1-2-8-6-2 0-1 0zM894 455l-2 1-4 8-1 2 2 1 13 4 2 0 3-4 0-2-5-9-2-1zM1132 784l1 1 2 1 21-7 1 0 1-2 2-22-1-1-1-1-5-2-2 0-1 1 0 6-16 21-3 2zM1053 462l0 2 2 4 7 4 6 1 2 0 24-14 1-1 0-2-4-8-2-1-19-4-2 1zM1083 388l0-2-3-9-2-1-16-2-2 0-1 1-3 10 0 2 8 12 2 1 10-1 2-1zM1161 511l-2 5 1 2 2 1 21 1 2-1 1-1-1-2-3-6-2-2-17 2zM1045 423l1 2 2 1 6 0 2-1 6-7 1-2-2-8-1-1-1 0-8 0-1 0-1 1zM967 486l2 7 11 11 1 1 2-1 17-12 1-1 0-2-5-13-2-2-9-1-2 0-15 10zM1044 428l1-2-1-1-8-5-8-1-2 1-3 5 0 3 4 9 1 1 1 1 10-1 2-2zM918 453l2 0 1-2 0-4-1-2-8-6-2-1-3 0-1 1-1 2 0 8 1 1 1 1zM966 483l1 1 2-1 13-9 1-2 0-1-6-16-1-1-1-1-13 0-1 1-3 2 0 2 1 19 1 1zM1249 486l-2 0-12 6-2 2 0 2 0 2 2 1 23 4 2-1 1-2-2-9-2-2zM1021 488l-1 2-3 5 0 2 8 16 2 1 1 0 12-3 1-2 5-26-1-2-1-1-2 0zM1069 419l-4-1-3 0-5 6-1 2 1 2 9 11 2 1 1 0 1-1 5-10 0-2zM1069 651l1 0 2 0 3-3 1-2-2-12-2-2-9-3-2 0-1 1-5 9 0 1 1 2zM1031 527l20 20 1 1 2 0 11-8 1-2 1-22-1-3-3-1-22-2-13 5-2 1-2 6 0 2 1 1zM1058 718l0 2 6 7 1 1 10 3 2 0 1-2 1-4 22-14 8 1 2-1 0-2-1-2-8-7-2 0-40 14-1 1zM1065 620l-2 5-1 2 2 2 9 3 2 0 14-6 2-2 2-4-2-2-21-13-1 0-2 0 0 2zM1092 359l-2 1-10 15 0 2 3 9 2 2 31 7 9-2 1-1 1-2-2-2-12-5-8-22-1-1zM921 447l0 7 2 1 4 1 2 0 10-8 1-1-3-13-1-1-2-1-1 1-12 12zM1090 491l2 1 1-1 1-2 1-26-1-1-1-1-2 0-19 11-1 1 1 3zM1207 344l-2-1-2 0-1 2-5 21 0 1 1 2 5 2 2-1 10-5 1-2 0-1zM926 477l-8 10 0 3 1 2 2 2 6 0 2 0 14-11 1-2-1-2-7-5-3 0zM1040 680l-2-1-11 4-1 11 0 2 2 1 18-2 1-1 1-4-1-2zM1189 395l2 0 1-1 1-4-1-2-4-5-1-1-2 1-5 5-1 2 2 2zM1233 499l-2 1-7 6 0 2 1 4 2 0 12-1 21 12 2 0 1-1 1-2-1-3-1-12-1-1-2-1zM1101 490l-1 1 1 2 2 1 30-1 1-1 1-1 0-3 0-1-1-1-20-8-2-1-1 1zM1167 398l8 11 1 1 2 0 1-2 1-1 0-2-5-9-3-2-3 0-2 2zM986 401l-7 18 0 2 2 1 5 2 1 0 8-2 2-1 3-4 3-13 0-2-2-1-4-1-10-12-2-1-2 1 0 2zM961 363l-1 2 0 1 1 2 13 8 2 0 2-1 0-1 1-17 0-2-2-1-2 1zM1068 665l-3 3-1 2 1 4 8 10 2 1 17 1 2 0 1-2 0-1-7-18-1-1-2 0zM1053 329l-10-16-2 0-8 5-1 2 0 1 1 1 19 12 2 0 2-1-1-3zM1009 687l-1-2-8-9-2-1-1 0-2 2-5 12 0 2 2 1 13 3 2 0 1-2zM1099 700l1-1 0-2-3-9-2-2-19-1-2 0-1 1-11 23 0 2 2 1 2 0zM1081 415l-2-2-2 0-6 4-1 2 0 2 6 6 5-1 2-1 0-2zM1068 444l0-2 0-1-12-14-2-1-7 0-3 2-3 9 0 2 10 20 1 1 2 0 1 0zM1009 773l1 2 2 1 21 4 2-1 1-1-1-2-1-1-6-1-12-14-2-1-2 0-1 2z" fill="#efc237" stroke="#fff" stroke-width="2"/><path d="M1158 775l1 2 2 1 25-7 2-1 0-2-1-2-11-8-2-6-1-2-2 0-11 4zM1068 583l0 8 1 2 2 1 19-6 2-1 2-7-1-2-5-9-2-1-2 0-15 13zM978 769l0 1 2 1 27 5 1-1 1-2 3-14-1-2-2-1-2 1-3 3-24 3-1 0-1 2zM947 481l-1 1-1 1 0 21 0 1 2 1 2 0 18-12 1-3-1-6-1-1-6-5-2-1zM1213 388l-1 2-1 6 1 3 9 7 2 1 9-2 2-1 0-2-1-2-6-14-1-1-2 0zM1072 738l2 1 1-1 1-1 1-3 0-2-2-1-3-1-2 0-2 2 1 2zM939 427l-1 1-2 1 0 1 4 18 1 1 11 7 4 1 2-1 2-2 1-2-2-18 0-1zM1088 427l2-1 1-2 1-5 3-4 1-1-1-2-1-1-11-3-1 0-2 1 0 3 3 12 2 2zM901 427l-1 3 1 6 2 2 3 1 4-1 2-1 6-11 1-2-1-1-5-4-2 0-1 0z" fill="#c9a227" stroke="#fff" stroke-width="2"/><polygon points="1053.4,328.2 1096.3,337.5 1108.3,306.7 1103,298 1071.5,295.3 1045.4,314.8" fill="#f3cc55" stroke="#fff" stroke-width="2"/><polygon points="1060.1,351 1068.1,359 1088.2,346.9 1084.2,342.9 1054.7,334.9" fill="#f3cc55" stroke="#fff" stroke-width="2"/><polygon points="1131.7,560 1146.7,578.3 1186.7,573.3 1195,546.7 1186.7,520.7 1146.7,519.3 1131.7,530" fill="#b38d22" stroke="#fff" stroke-width="2"/><polygon points="1110,523.3 1131.7,530 1146.7,518.3 1160,513.3 1156.7,493.3 1096.7,495" fill="#c39c26" stroke="#fff" stroke-width="2"/><polygon points="1266.7,593.3 1221.7,590 1223.3,620 1240,640 1263.6,642.8 1264.3,637.3 1265.1,629.3 1265.9,621.3 1266.4,613.2 1266.9,605.2 1267,603.1" fill="#c39c26" stroke="#fff" stroke-width="2"/><polygon points="950,750.7 976.7,770 978.3,756.7 950,728.3" fill="#c39c26" stroke="#fff" stroke-width="2"/><polygon points="1066.7,546.7 1093.3,553.3 1126.7,533.3 1110,525 1100,496.7 1068.3,513.3" fill="#f3cc55" stroke="#fff" stroke-width="2"/><polygon points="880,451.7 901.7,443.3 896.7,418.3 875,425" fill="#c9a227" stroke="#fff" stroke-width="2"/><polygon points="900,426.7 920,408.3 913.3,395 908.2,397.7 887.6,412.9" fill="#b8922a" stroke="#fff" stroke-width="2"/><polygon points="924,636.5 924.2,636.9 924.4,637.3 924.7,637.6 925,638 948.9,660.2 949.1,660.4 949.4,660.6 949.7,660.8 950.1,661 950.4,661.1 981.5,670.5 981.9,670.6 982.4,670.7 982.8,670.7 1015.7,669.4 1016.2,669.4 1016.6,669.3 1017,669.2 1017.4,669 1017.7,668.8 1045.9,651 1046.2,650.8 1046.5,650.6 1046.8,650.3 1047,650 1047.2,649.7 1064,620.7 1064.2,620.3 1064.4,619.9 1064.5,619.5 1064.6,619.1 1067.6,586 1067.6,585.6 1067.5,585.2 1067.5,584.8 1067.4,584.5 1067.3,584.1 1054.9,553.4 1054.7,553.1 1054.5,552.7 1054.3,552.4 1054.1,552.1 1031.2,528.3 1030.9,528 1030.6,527.8 1030.2,527.6 1029.8,527.4 1029.4,527.3 997.6,518.5 997.2,518.4 996.7,518.3 996.3,518.3 963.2,520.5 962.8,520.5 962.4,520.6 962,520.7 961.7,520.9 961.3,521.1 933.1,539 932.8,539.2 932.5,539.4 932.2,539.7 932,540 931.8,540.3 914.4,569 914.2,569.3 914,569.7 913.9,570 913.8,570.4 913.8,570.8 911.9,595.1 911.9,595.5 912,595.9 912,596.4 918.6,623.1 918.7,623.7" fill="#cda428" stroke="#fff" stroke-width="2"/><polygon points="1193.2,587.3 1192.9,587.1 1192.6,586.9 1192.3,586.8 1192,586.6 1191.6,586.5 1155.5,578.2 1155.1,578.1 1154.7,578.1 1154.3,578.1 1154,578.1 1153.6,578.2 1153.2,578.3 1117.6,591.2 1117.3,591.4 1116.9,591.5 1116.6,591.7 1116.3,592 1116.1,592.2 1115.8,592.5 1092.7,622.6 1092.4,622.9 1092.3,623.3 1092.1,623.6 1092,624 1091.9,624.3 1091.8,624.7 1088.2,662 1088.1,662.4 1088.2,662.8 1088.2,663.2 1088.3,663.5 1088.4,663.9 1101.9,698.4 1102.1,698.7 1102.3,699.1 1102.5,699.4 1102.8,699.7 1103.1,700 1131.9,723.1 1132.2,723.3 1132.5,723.5 1132.9,723.7 1133.2,723.8 1133.6,723.9 1134,724 1170.4,727.7 1170.8,727.7 1171.1,727.7 1171.5,727.6 1171.8,727.6 1172.1,727.5 1206.6,715.3 1206.9,715.1 1207.2,715 1207.5,714.8 1207.8,714.5 1208.1,714.3 1208.3,714 1231.7,685.6 1231.9,685.2 1232.2,684.9 1232.3,684.5 1232.5,684.1 1232.6,683.6 1238.1,647.1 1238.1,646.8 1238.1,646.4 1238.1,646 1238,645.6 1237.9,645.3 1237.8,644.9 1222.9,611.4 1222.7,611.1 1222.5,610.7 1222.3,610.4 1222,610.2 1221.7,609.9" fill="#eec136" stroke="#fff" stroke-width="2"/><polygon points="1131.6,301.1 1131.3,301.2 1130.9,301.3 1130.5,301.4 1130.1,301.6 1129.8,301.8 1129.5,302.1 1107.9,321 1107.6,321.3 1107.3,321.6 1107.1,322 1106.9,322.3 1106.7,322.7 1106.6,323.1 1106.5,323.5 1102.9,351.9 1102.9,352.3 1102.9,352.7 1103,353.1 1103.1,353.5 1103.2,353.9 1113.5,380.5 1113.7,380.8 1113.9,381.2 1114.1,381.5 1114.3,381.8 1114.6,382 1114.9,382.3 1115.2,382.5 1115.6,382.6 1141.4,394.7 1141.7,394.8 1142.1,395 1142.5,395 1142.9,395.1 1143.3,395.1 1171.6,393.3 1172,393.3 1172.4,393.2 1172.7,393.1 1173.1,393 1173.4,392.8 1173.7,392.6 1174,392.4 1174.3,392.1 1194,371.7 1194.3,371.4 1194.6,371.1 1194.8,370.7 1194.9,370.3 1195,369.9 1201.6,342.4 1201.7,341.9 1201.7,341.5 1201.7,341.1 1201.7,340.7 1201.6,340.3 1201.4,339.9 1201.3,339.6 1188,314.6 1187.8,314.3 1187.5,313.9 1187.3,313.6 1186.9,313.4 1186.6,313.1 1169.7,302.6 1169.3,302.4 1169,302.2 1168.6,302.1 1168.2,302 1167.8,302 1140.4,300.1 1140,300.1 1139.6,300.1" fill="#e7b830" stroke="#fff" stroke-width="2"/><polygon points="1141.8,390.6 1141.4,390.5 1141,390.4 1140.6,390.4 1140.2,390.4 1139.8,390.4 1139.5,390.5 1113.4,396.7 1113,396.8 1112.7,396.9 1112.3,397.1 1112,397.3 1111.7,397.6 1111.4,397.9 1093.5,418.2 1093.2,418.5 1093,418.9 1092.8,419.2 1092.6,419.6 1092.5,420 1092.5,420.4 1092.5,420.8 1092.2,447.9 1092.2,448.3 1092.3,448.7 1092.3,449 1092.5,449.4 1092.6,449.8 1092.8,450.1 1107.1,473 1107.3,473.3 1107.6,473.6 1107.9,473.9 1108.2,474.2 1108.6,474.4 1108.9,474.6 1133.9,484.8 1134.3,485 1134.7,485.1 1135.1,485.1 1135.5,485.1 1135.9,485.1 1136.3,485 1136.7,484.9 1162.3,476.8 1162.7,476.7 1163,476.5 1163.3,476.3 1163.6,476.1 1163.9,475.8 1164.2,475.6 1181.4,455.1 1181.6,454.8 1181.9,454.5 1182,454.1 1182.2,453.7 1182.3,453.3 1182.3,452.9 1184.4,426.1 1184.4,425.7 1184.4,425.3 1184.3,425 1184.2,424.6 1184.1,424.2 1183.9,423.9 1183.7,423.6 1168.7,401.3 1168.4,401 1168.2,400.7 1167.8,400.4 1167.5,400.2 1167.1,400 1166.8,399.8" fill="#edbf35" stroke="#fff" stroke-width="2"/><polygon points="926.7,385.3 926.4,385.5 926.1,385.7 925.8,386 925.6,386.4 925.3,386.7 925.2,387.1 925,387.4 924.9,387.8 924.9,388.2 922.9,406.5 922.9,406.9 922.9,407.3 923,407.7 923,408 923.2,408.4 923.3,408.7 923.5,409.1 923.7,409.4 935.1,424.4 935.4,424.7 935.6,425 935.9,425.2 936.2,425.4 936.6,425.6 936.9,425.7 937.3,425.8 955.7,430.8 956.1,430.9 956.5,430.9 956.9,430.9 957.3,430.9 957.7,430.8 958.1,430.7 958.5,430.5 975.8,422.3 976.1,422.1 976.4,421.9 976.7,421.6 977,421.3 977.3,421 977.5,420.7 977.7,420.4 977.8,420 984.2,402.1 984.3,401.7 984.4,401.3 984.4,400.9 984.4,400.5 984.4,400.1 984.3,399.7 979.5,381.6 979.4,381.2 979.3,380.9 979.1,380.5 978.9,380.2 978.7,379.9 978.4,379.7 978.1,379.4 977.8,379.2 962,369.1 961.7,368.9 961.4,368.8 961,368.6 960.6,368.5 960.2,368.5 959.9,368.5 959.5,368.5 953,369.2 952.6,369.2 952.3,369.3 951.9,369.4 951.6,369.6 951.3,369.7" fill="#edbf35" stroke="#fff" stroke-width="2"/><polygon points="979.2,375.1 979.2,375.5 979.3,375.9 979.4,376.3 979.5,376.7 979.7,377.1 979.9,377.4 980.1,377.8 996.8,398.3 997,398.5 997.3,398.8 997.6,399 997.9,399.2 998.3,399.4 998.6,399.5 999,399.6 1024.9,405.5 1025.3,405.5 1025.7,405.6 1026.1,405.6 1026.5,405.5 1026.9,405.4 1027.3,405.3 1027.6,405.1 1051.3,392.8 1051.6,392.6 1051.9,392.4 1052.2,392.1 1052.5,391.8 1052.7,391.5 1052.9,391.2 1053.1,390.9 1053.2,390.5 1061.7,365.4 1061.9,365 1061.9,364.6 1062,364.2 1061.9,363.8 1061.9,363.3 1061.8,362.9 1054,337.9 1053.8,337.5 1053.6,337.1 1053.4,336.8 1053.2,336.5 1052.9,336.2 1052.6,335.9 1052.2,335.7 1030.8,322.3 1030.4,322.1 1030,321.9 1029.6,321.8 1029.2,321.7 1028.8,321.7 1028.4,321.7 1028,321.7 1027.6,321.8 1027.2,322 1026.9,322.1 1026.5,322.3 982.1,350.3 981.8,350.5 981.5,350.8 981.3,351 981,351.3 980.8,351.7 980.6,352 980.5,352.4 980.4,352.7 980.3,353.1 980.3,353.5" fill="#f3cc55" stroke="#fff" stroke-width="2"/><polygon points="952.7,723.8 952.6,724.2 952.5,724.6 952.5,725 952.5,725.4 952.5,725.8 952.6,726.2 958,747.4 958.2,747.8 958.3,748.2 958.5,748.5 958.7,748.9 959,749.2 959.2,749.4 959.5,749.7 959.9,749.9 978.6,761.1 978.9,761.3 979.3,761.4 979.7,761.5 980,761.6 980.4,761.6 980.8,761.7 981.2,761.6 1002.6,758.9 1003,758.9 1003.3,758.8 1003.7,758.6 1004,758.4 1004.4,758.2 1004.7,758 1005,757.7 1019.7,742.1 1019.9,741.8 1020.2,741.5 1020.4,741.1 1020.5,740.8 1020.6,740.4 1020.7,740 1020.8,739.6 1021.9,718.2 1021.9,717.8 1021.8,717.4 1021.8,717 1021.7,716.7 1021.5,716.3 1021.4,716 1021.1,715.7 1008.7,698 1008.5,697.7 1008.2,697.4 1007.8,697.1 1007.5,696.9 1007.1,696.7 1006.8,696.5 1006.4,696.4 985.1,691.3 984.7,691.3 984.4,691.2 984,691.2 983.6,691.3 983.2,691.4 982.8,691.5 982.5,691.6 962.5,701 962.2,701.1 961.9,701.4 961.6,701.6 961.3,701.9 961.1,702.2 960.8,702.5 960.7,702.8 960.5,703.2" fill="#f3cc55" stroke="#fff" stroke-width="2"/><polygon points="1103.2,712.2 1102.8,712.2 1102.4,712.3 1102,712.3 1101.6,712.5 1101.2,712.6 1100.8,712.8 1081.3,725.2 1080.9,725.4 1080.6,725.7 1080.4,725.9 1080.1,726.3 1079.9,726.6 1079.7,726.9 1079.6,727.3 1079.5,727.7 1074.3,750.4 1074.3,750.8 1074.2,751.2 1074.3,751.6 1074.3,751.9 1074.4,752.3 1074.5,752.7 1074.6,753 1084.5,774.2 1084.7,774.6 1084.9,774.9 1085.1,775.2 1085.4,775.5 1085.7,775.8 1086.1,776 1086.4,776.2 1107.6,786 1108,786.1 1108.3,786.2 1108.7,786.3 1109.1,786.3 1109.5,786.3 1109.9,786.3 1110.2,786.2 1110.6,786.1 1132.4,778.4 1132.8,778.2 1133.1,778.1 1133.4,777.9 1133.7,777.6 1134,777.4 1134.3,777.1 1148.3,758.9 1148.6,758.5 1148.8,758.2 1148.9,757.8 1149,757.5 1149.1,757.1 1149.2,756.7 1149.2,756.3 1149.1,755.9 1145.9,733.1 1145.9,732.8 1145.8,732.4 1145.6,732 1145.5,731.7 1145.3,731.4 1145,731.1 1144.8,730.8 1128.5,714.9 1128.2,714.6 1127.9,714.4 1127.5,714.2 1127.1,714 1126.8,713.9 1126.4,713.8 1126,713.7" fill="#eec136" stroke="#fff" stroke-width="2"/><polygon points="1233.2,757 1233.5,756.9 1233.9,756.7 1234.2,756.5 1234.6,756.3 1234.9,756.1 1235.2,755.8 1235.4,755.5 1235.6,755.2 1235.8,754.8 1236,754.5 1238.7,747.1 1238.7,747.1 1241.3,739.5 1241.3,739.4 1241.4,739.2 1241.5,738.8 1241.6,738.4 1242.2,732.7 1242.3,732.3 1242.3,731.9 1242.2,731.5 1242.1,731.2 1242,730.8 1241.8,730.5 1232.1,710.9 1231.9,710.6 1231.6,710.3 1231.4,710 1231.1,709.7 1230.8,709.5 1230.5,709.3 1230.2,709.1 1229.8,709 1209,701.6 1208.7,701.5 1208.3,701.4 1207.9,701.3 1207.6,701.3 1207.2,701.4 1206.8,701.4 1206.5,701.5 1206.1,701.6 1185.8,710.2 1185.4,710.4 1185,710.6 1184.7,710.9 1184.4,711.2 1184.1,711.5 1183.9,711.8 1172.4,730.7 1172.2,731.1 1172,731.5 1171.9,731.9 1171.8,732.3 1171.8,732.7 1171.8,733.1 1171.8,733.5 1175.9,755.3 1176,755.7 1176.1,756 1176.3,756.4 1176.5,756.7 1176.7,757 1176.9,757.3 1177.2,757.6 1177.5,757.8 1190.7,767.7 1191.1,767.9 1191.4,768.1 1191.8,768.3 1192.2,768.4 1192.6,768.4 1193,768.5 1193.4,768.5 1193.8,768.4 1194.2,768.3 1232.9,757" fill="#eec136" stroke="#fff" stroke-width="2"/><polygon points="1017.8,730.9 1017.5,731.1 1017.3,731.4 1017,731.7 1016.8,732 1016.7,732.4 1016.5,732.7 1016.4,733.1 1016.4,733.5 1013.6,753.3 1013.5,753.7 1013.5,754 1013.6,754.4 1013.6,754.8 1013.7,755.1 1013.9,755.5 1014,755.8 1014.2,756.1 1014.5,756.4 1027.3,771.6 1027.6,771.9 1027.9,772.2 1028.2,772.4 1028.6,772.6 1028.9,772.8 1029.3,772.9 1029.7,773 1049.3,776.3 1049.7,776.4 1050,776.4 1050.4,776.4 1050.8,776.3 1051.1,776.2 1051.5,776.1 1051.8,775.9 1052.2,775.7 1052.5,775.5 1068,763.1 1068.3,762.8 1068.6,762.6 1068.8,762.2 1069,761.9 1069.2,761.6 1069.3,761.2 1069.4,760.8 1069.5,760.4 1071.7,740.8 1071.7,740.4 1071.7,740 1071.7,739.6 1071.6,739.2 1071.5,738.9 1071.3,738.5 1071.1,738.2 1070.9,737.9 1058.7,722.4 1058.5,722.1 1058.1,721.8 1057.8,721.5 1057.5,721.3 1057.1,721.1 1056.7,721 1056.3,720.9 1036.7,717.6 1036.3,717.5 1035.9,717.5 1035.6,717.5 1035.2,717.6 1034.8,717.7 1034.5,717.8 1034.1,718 1033.8,718.2 1033.5,718.4" fill="#eec136" stroke="#fff" stroke-width="2"/><polygon points="1261.8,526.2 1261.7,525.9 1261.5,525.5 1261.3,525.2 1261.1,524.9 1260.9,524.6 1260.6,524.4 1260.3,524.1 1260,523.9 1240.3,512.3 1239.9,512.1 1239.6,512 1239.2,511.8 1238.8,511.8 1238.5,511.7 1238.1,511.7 1237.7,511.8 1215.2,514.6 1214.8,514.7 1214.4,514.8 1214,514.9 1213.7,515.1 1213.3,515.3 1213,515.6 1212.7,515.9 1197.5,532.7 1197.2,533 1197,533.3 1196.9,533.7 1196.7,534 1196.6,534.4 1196.5,534.7 1196.5,535.1 1194.8,557.9 1194.8,558.3 1194.9,558.7 1194.9,559.2 1195.1,559.6 1195.2,559.9 1195.4,560.3 1195.7,560.7 1209.8,578.7 1210.1,579 1210.4,579.3 1210.7,579.5 1211,579.7 1211.4,579.9 1211.7,580.1 1212.1,580.2 1234.5,585.2 1234.9,585.2 1235.3,585.3 1235.7,585.2 1236.1,585.2 1236.5,585.1 1236.9,585 1237.2,584.8 1257.4,574 1257.7,573.8 1258,573.5 1258.3,573.3 1258.6,573 1258.8,572.7 1259,572.4 1259.2,572 1266.4,555 1266.5,554.7 1266.6,554.3 1266.7,554 1266.7,553.6 1266.7,553.2 1266.4,548.8 1266.4,548.7 1265.9,540.7 1265.8,540.7 1265.8,540.1 1265.7,539.7 1265.6,539.3" fill="#eec136" stroke="#fff" stroke-width="2"/>
</g>
<g clip-path="url(#clipR)" stroke-linejoin="round">
<circle cx="1796.5" cy="581.0" r="493.5" fill="#5ba3d0"/>
<polygon points="1290,433.3 1338.3,400 1480,307.3 1495,290.7 1471.7,220 1390,230 1256.7,380" fill="#4c9422" stroke="#4c9422" stroke-width="1"/>
<polygon points="1471.7,220 1495,290.7 1810,310.7 1843.3,313.3 1856.7,260 1870,240 1853.3,195 1831.7,120 1826.7,91.7 1826.7,60 1456.7,60 1416.7,213.3" fill="#efc237" stroke="#efc237" stroke-width="1"/>
<polygon points="1826.7,91.7 1831.7,120 1853.3,195 1870,239.3 1876.7,236.7 1890,211.7 1931.7,130 1941.7,113.3 1943.3,66.7 1826.7,66.7" fill="#e5b42e" stroke="#e5b42e" stroke-width="1"/>
<polygon points="1941.7,113.3 1931.7,130 1890,211.7 1871.7,250 1906.7,280 1943.3,271.7 2076.7,183.3 2096.7,146.7 1990,73.3" fill="#fff3e6" stroke="#fff3e6" stroke-width="1"/>
<polygon points="1843.3,313.3 1856.7,260 1871.7,250 1906.7,276.7 1900,306.7 1886.7,338.3 1840,312.7" fill="#90f53e" stroke="#90f53e" stroke-width="1"/>
<polygon points="1907.7,280 1936,268.3 2071,176.7 2204.3,196.7 2354.3,346.7 2277.7,476.7 2147.7,520 2031,563.3 1994.3,509.3 1909.3,366.7 1889.3,338.3 1897.7,317.3" fill="#b00000" stroke="#b00000" stroke-width="1"/>
<polygon points="2031,563.3 2147.7,520 2277.7,476.7 2360,450 2360,800 2252.7,775 2030.3,733.3 2029,650" fill="#d00000" stroke="#d00000" stroke-width="1"/>
<polygon points="2030.3,733.3 2252.7,775 2354.3,793.3 2271,893.3 2174.3,896.7 2101,880 2061,826.7 2020.3,768.3" fill="#9a10f5" stroke="#9a10f5" stroke-width="1"/>
<polygon points="2101,880 2174.3,896.7 2271,893.3 2204.3,993.3 2081,978.3 2101,900" fill="#9a10f5" stroke="#9a10f5" stroke-width="1"/>
<polygon points="2020.3,768.3 2061,826.7 2101,880 2101,900 2081,976.7 1977.7,976 1919.3,908.3" fill="#fff" stroke="#fff" stroke-width="1"/>
<polygon points="1877.7,930 1919.3,908.3 1977.7,976.7 1976,1040 1971,1100 1802.7,1100 1796,1026.7 1789.3,990" fill="#e8944f" stroke="#e8944f" stroke-width="1"/>
<polygon points="1977.7,976.7 2081,978.3 2204.3,993.3 2037.7,1100 1976,1100" fill="#90f53e" stroke="#90f53e" stroke-width="1"/>
<polygon points="1580,1015 1736.7,996.7 1790,988.3 1795,1023.3 1801.7,1071.7 1805,1113.3 1550,1113.3 1571.7,1021.7" fill="#fff" stroke="#fff" stroke-width="1"/>
<path d="M2114 601l1 0 7-5 0-2 0-1-9-6-1 0-4 1 0 9 2 2zM2193 506l-1 0 0 1 1 1 7 3 17-6 1-1 0-1-1-2-1-1-1 0zM2122 595l4 5 1 0 12-1 1-2-7-11-2-1-1 1-7 7zM2162 546l1-1-1-1-10-10-2-1-4 3 0 1 7 15 1 0 2 0zM2204 741l-1 2 0 1 7-1 2-1 7-3 1-1 0-1-1-1-1 0zM2106 607l0 1 1 1 4 1 2 2 1-1 3-2-2-7-4-2-1 1z" fill="#d00000" stroke="#fff" stroke-width="1.8"/><path d="M2190 515l2-8-2-1-20 7-1 0 0 2 1 4 1 1 1 0 16-4zM2109 598l-2-1-10 4-1 2 1 3 8 2 5-7 0-2zM2255 718l-2 0-3 4 0 11 1 1 8 9 2-1 6-19zM2153 523l2 1 14-3 1-1 0-1-1-4-1-1-1 0-14 4-1 1 0 1zM2278 674l1-1 2-11 0-1-1-1-10 0-2 1 0 1 3 12zM2281 617l-3 3-1 3 0 1 1 1 8 0 0-4 0-3zM2260 631l1-6-1-2-4-3-1 0-3 1 0 1 0 1 6 8 1 0zM2276 646l1 1 4 2 2 0 0-1 1-12-6-1-2 0-1 2z" fill="#d80000" stroke="#fff" stroke-width="1.8"/><path d="M2255 620l4-8-7-6-7 6-1 1 6 8 2 0zM2191 512l0 1 1 1 4-2 0-2-3-2-1 0zM2125 609l1 1 1 0 4-7 8 6 1 0 1-1 2-8-3-2-13 2-1 1zM2261 630l-2 2 4 5 1 3 1 0 6-5-2-4-1-1zM2271 625l-1 1-1 5 2 3 1 1 4 1 2-2-1-10-1 0zM2273 674l-2 1 0 1 3 11 0 1 2 0 0-1 3-11-1-1-1-1z" fill="#df1212" stroke="#fff" stroke-width="1.8"/><path d="M2106 567l-1-1-1 1 0 1 4 19 0 1 2 0 3-2 5-8zM2054 665l0 2 4 7 2 1 23-8 1-1 0-4 0-1-3-1-13-11-1 0-1 0zM2273 697l-2 1-16 18 0 1 0 1 11 4 1 0 1-1 6-22-1-1zM2108 589l-1-1-1 0-12 7-1 1 1 1 2 3 2 1 10-4zM2132 584l9 14 4 2 3-2 2-19 0-2-17 5-1 0z" fill="#c00000" stroke="#fff" stroke-width="1.8"/><path d="M2166 625l0-2-17-24-1 0-3 1-1 1-3 8 0 2 22 16 1 0zM2280 616l2 1 4 0 1-1 0-7-2-1-5 3zM2256 619l0 1 4 3 2 0 4-2 1-1-1-2-1-1-4-3-2-1-1 1zM2236 603l0 1 1 1 1 0 5 7 7-5 1-1-1-1-8-7-1-1zM2125 610l-7-1-1 0-4 4 4 12 0 1 2 0 0-1 7-12 0-1zM2084 601l-1 1 0 1 1 1 11 2 1 0 0-1 0-4-3-5z" fill="#df4a4a" stroke="#fff" stroke-width="1.8"/><path d="M2247 724l-2 4 0 1 3 2 1 1 1-1 0-1 0-6-2-1zM2274 636l-3 0-5 3 0 2 0 1 7 5 1 0 2 0 0-1-1-9zM2277 621l0-1-5-5-4 1-1 1 0 5 3 2 1 1 6-2zM2273 616l4 3 2 0 1-1 0-1 0-4-1-1-1-1-4 2-1 1zM2280 625l-2 0 0 1 0 8 5 2 2-1 1-6-1-3zM2165 627l0 2 2 1 1 0 1-1-2-3-1 0z" fill="#a00000" stroke="#fff" stroke-width="1.8"/><path d="M2117 608l1 1 5 1 1-1 1 0 1-8 0-1-4-4-7 5zM2287 549l-1-1-1 0-14 5-1 11 1 1 1 0 15-5zM2147 520l-2 5 1 1 1 0 5-1 1-1 0-1-1-3-2-1zM2109 538l1 1 1 0 30-11 4 7 4-1 1-1-1-2-4-4-1-2-1 0-33 11-1 1zM2266 642l-1 0-1 0 0 2 2 8 2 1 4-4 1-1-1-1zM2042 733l-10-5-1 0-1 1 1 4 10 2 2-1zM2030 666l0 1 2 0 1-1 0-2-1-1-2 0zM2033 674l-1-1-1 0-1 0 0 1 0 19 0 1 1 0 1 0 1-1zM2044 558l-1 1 0 1 1 1 1 0 16-4 43-14 1-1 4-2 0-2-1-1-1 0zM2276 647l-3 1-6 7 0 1 1 4 13 0 2-10z" fill="#ad0000" stroke="#fff" stroke-width="1.8"/><path d="M2060 675l-1 1 0 1 5 9 0 3 1 0 22-8 1 0-4-13-1-1-1 0zM2117 580l-4 7 1 1 8 5 9-8 1-1-1-1-1-1-6 2-4-5-2 0zM2267 622l-1 0-4 1-1 2-1 4 1 1 1 0 6 0 2-4 0-2zM2113 682l1-1 0-1 1-21 0-1-2-1-28 4-1 6 4 12 1 1 2 0zM2244 494l0-1-2-1-24 7-1 1 0 1 2 3 1 0 23-8z" fill="#b40000" stroke="#fff" stroke-width="1.8"/><path d="M2251 571l2 1 17-6 0-11 0-1-2 0-3-18 0-1-1 0-1 0-1 2 2 17-13 15zM2258 487l0 2 1 1 1-1 14-8 0-2-1-1-11 4zM2118 736l0-1-2 0-25 7-1 1 0 1 1 1 27 5 1-1 0-1z" fill="#e03a3a" stroke="#fff" stroke-width="1.8"/><path d="M2218 821l-2-1-4 1-1 2 6 8 2 1 3-6zM2207 817l0 1 3 3 1 0 5-1 1-1 3-6-1-1-1 0-9 3zM2222 778l0 1 1 0 12 2 2-7-1-2-11-2-1 0zM2122 859l0 1 0 1 1 1 20 0 6-16 0-2-1 0-1 0-6 6zM2201 773l2 4 5 0 0-2-1-8-10-2-3 5 0 1 1 1zM2058 820l-1 1 1 1 25 34 1 0 1 0 2-2-1-1-24-34-1 0z" fill="#c07cff" stroke="#fff" stroke-width="1.8"/><path d="M2180 829l1 1 1 1 5-1 2-1-1-2 9-4 1-2-4-3-1-1-9 3-2 1zM2221 815l-1-1-1 1-2 4 1 2 3 4 1 0 2-1 2-6zM2180 821l-12 2-7 7 0 1 0 1 1 1 18-2 2-10zM2223 771l0-1-1-1-13-2-1 0 0 2 0 7 2 1 11 2z" fill="#a030f5" stroke="#fff" stroke-width="1.8"/><path d="M2169 894l1 2 2 0 2 0 6-8 1-1-1-1-1 0-10 2zM2229 809l-9 3 0 1 1 1 5 3 1 0 1 0 3-7-1-1zM2155 757l-1 1-1 1 1 1 11 12 1 1 1-1 1-5 6 1 1 0 1-1 0-5-2-1zM2145 875l2-1-6-7 1-4-1-1-10 0 0 2 7 12z" fill="#6a00b8" stroke="#fff" stroke-width="1.8"/><path d="M2176 768l1 1 15 3 1-1 3-5 0-1-1-1-18-3-1 1 0 1zM2031 779l-2 0 0 2 27 39 1 0 1 0 2-2 0-1-22-30-1-2zM2235 780l1 1 1 1 8 0 3-6 0-1-1-1-10-1zM2207 814l-1-1-10 3-1 2 4 3 1 0 7-3 1-2z" fill="#9a10f5" stroke="#fff" stroke-width="1.8"/><path d="M2148 888l-1 1 0 1 1 1 9 2 1-1 0-1 1-2 0-2-3-2zM2138 876l-7 9 0 2 14 3 1-2 0-11-1-1-1 0zM2161 890l-2 0 0 1 0 2 8 2 2 0 0-2-1-4-1 0zM2148 875l-1 0-1 0 0 1 0 10 1 2 1 0 6-3 1-1 0-1zM2085 856l0 2 16 22 2 0 1 0 0-1 0-11 16-4 1-1 0-2-1-1-6 3-27-8z" fill="#ab4ef8" stroke="#fff" stroke-width="1.8"/><path d="M2146 917l0 1 3 3 1 1 1-1 11-11 0-1 0-1-6-6-2 0-6 3-1 1zM2156 902l7 6 1-1 8-9 0-2-14-3-2 0 0 1-1 7zM2129 941l-3-7-2 0-14 19-1 1 1 1 2 1 2 0 15-13zM2112 929l-1 1 2 2 10 1 2-1-2-5zM2097 919l-1 1-5 19 1 1 1 2 2 0 1-1 3-11 6 1 2-1-5-11-1-1zM2101 894l1 2 1 0 2-3 13 2 1 0 0-2-1-1-14-4 0-6 0-1-1-1-1 1-1 1zM2100 915l-1-1-1 0-1 1 0 2 0 2 3-1 1 0zM2144 918l1-1 1-1 1-10-1-1-6-5-1 0-6 2-1 2 2 13z" fill="#8a00e6" stroke="#fff" stroke-width="1.8"/><path d="M2129 887l-5 7 0 1 1 1 6 1 1 4 0 1 2 0 5-2 1-1 2-8 0-1-1-1-10-2z" fill="#9a10f5" stroke="#fff" stroke-width="1.8"/><path d="M2104 960l-8 7 1 1 1 1 1 0 12-11 1-1-1-1-2-1-1 0zM2082 973l1 1 0 1 2 0 0-1 10-30-1-2-2-1-2 1zM2084 977l-1-2-1 0-1 2 1 1 1 1 1-1zM2129 940l1 1 1 0 18-18 1-1-1-1-3-3-11-1-1 1 0 1 0 4-9 3-1 1 0 1z" fill="#a030f5" stroke="#fff" stroke-width="1.8"/><path d="M2154 902l1-1 1-8-12-3-1 0-3 9 0 2 6 4 2 0z" fill="#ab4ef8" stroke="#fff" stroke-width="1.8"/><path d="M2016 800l1.1-.6 .5-1.6-2.1-7.8-6.4-3.8-7.6 9.9 .1 1.5 2.5 1.7zM2063.7 834.6l-5.7 8.7 .6 .7 10.5 5.5 4.1-4.4-7.5-10.6-1-.4zM2046.3 974.3l1.2 1.2 8.1-.4-.9-6.1-.6-.8-1 0-6.1 1.8-.9 1.2zM1988.4 827l-.8-1-5.3-1.8-1.3 .4-1.3 1.8-.2 1.1 3.1 8 .9 .7 3.4 .3 1.9-1.8 .4-1.1zM2015.6 787.4l1.2 0 10.8-6.2-6.3-9.8-1-.5-1 .5-8.4 11.7 .4 1.7zM1999.8 812.2l-3.1 2 .2 .9 4.2 4.9 5.6-1.9-.8-4.1-.9-.9zM2026.6 973l-1.1-1.3-7.5-1-6.8-1.7-1.1 .1-.5 .9-.3 3.9 1.2 1.3 14.9 .1 .8-.3zM2081.2 950.9l-1.6 .2-3.6 3.4-.4 .9 .4 .9 1.3 .7 7.8-1 .5-.9-.5-1.2zM2049 839.3l.9 1.4 5.4 1.7 5.4-7.1-.1-1.4-9.5-2zM1994.2 812l1.2 .1 3-2.2 1.6-7.8-.3-1-.9-.4-.9 .5-5.7 7.9 .2 1.7zM2073.4 969.4l-1.6-.3-4.4 2.7-.9 2.3 .2 1 1 .5 6.7-.4 .1-4.2zM1950.8 881.8l-.5-.9-6.5-4.1-9.9 13.1-.2 1.1 .8 .7 7.9 2.4 1.1-.2 7.1-6zM1981.8 962.7l6.8 .9 1.2-.6 1.6-3.7-5.6-4.4-4.5 5.6-.2 1.1zM1943.4 911.5l-1.5-.7-2.6 1.2 .4 8.3 1.2 1.1 5 .1 1.2-.9-.1-.8zM1980.2 969.3l.4-3.2-1.1-1.3-5.9 4.4 2.7 3.1zM1980.3 948.8l-1.5-.2-4.6 3.4 3.2 6.2 1.2 .9 1.6-.4 3.7-5.6z" fill="#3030f0"/><path d="M1956 880.3l-3 1.2 .5 6.3 5 4.1 6.6-.2 1.8-7.1zM1937.5 922.4l-.4-9.7-.9-1.1-1.5-.1-6.5 3.4-.6 .8 .3 1 6.3 7.3 1.8 .1zM1982.7 838.1l-4.7 2.2-.6 1.1 .4 3.8 4.9 1.7 3.6-2.2 .4-1.1-.7-4-.9-1zM1955.2 904.6l-6.2 1.2 0 1.5 5.8 6.8 1.5 .3 2.6-7.1zM1948.5 930.4l1.8-4.6-.4-1.5-1.1-.8-9-.1-3 3.2 6.1 7zM1967.8 944.4l-.1 1.8 4.5 4 5.7-3.9-4.3-6.1zM2096.3 885l-.9 1.5 2.2 11.5 1.3 1 1.1-1.2 0-12-.4-.9-1-.3zM2031.8 797.2l4.1-4.4-6.7-9.4-11.5 6.2 2.1 7.6zM2015.7 817.1l.7 1.6 3 .8 .6-.5 .3-2.9 3.2-1.8 .6-1.4-4.1-2.8-1-.2zM1972 838.8l-1.5 .3-5 7.6 5.3 3.4 4.7-4.9-.1-3.9-.6-1zM2034.1 798.1l.1 9.8 .7 .4 3.1-.9 4.8 4.5 3.6-2.5 .2-1.6-8.4-12.1-.9-.5-.9 .4zM2009.7 818.7l3-.6 .8-.7 2.8-7.3-.6-1.6-7.5 3-.5 1.5zM1960.5 862.9l1.1 .1 5.4-2 3.2-7.5-.5-1.5-5-3-1.6 .4-6.7 9.3 .3 1.7zM1965.3 942.6l1.6 0 4.9-4.2 .3-1.5-1.4-2.4-7.3 .7-.9 .6-1.2 2.9zM2010.6 840.1l1.3 .7 10.6-2.5-.7-6-10.1-1.8-1 .3-2.9 3z" fill="#5a5af5"/><path d="M1991 823l.3 1.6 .8 .2 5.7-.4 1-.8 .3-2.5-3-3.8-1.1-.5-.9 .6zM1987.2 823.7l1.4-.5 4.5-8.2-.3-1.5-1.5-1.1-1.7 .3-6 8.2-.1 1.1 .7 .7zM2057.2 966.6l-.7 1.4 1.9 7.3 5.5 0 .8-4.1-3.9-5.2-1.5-.4zM1969.8 962.9l-.7 .8 .3 1.1 2.4 2.4 6.3-4.2 .4-1.4-2.2-1.1zM2051.7 829.2l10 2.2 .3-1.7-4.6-6.5-1.6-.3-3 1.8zM2072.1 965.6l1 .6 1-.4 2.3-3.4-.8-3.4-2.1-1.9-3.9 3zM2087.2 866.6l-.3 1.6 3.2 5.3 3.9 8.9 1.3 .8 4.4-1.1 .1-2.1-10.3-13.6-.8-.5zM1954.9 940.4l0-1.5-5.6-6.3-4.6 3.1 6 7.5 .9 .4 .9-.4zM1932.9 910.2l.6-1.5-3.8-9.9-1.4-.7-7.4 10.2 4.7 5.4zM2005.4 832.3l1-.3 3.3-3.7-.5-7-.6-.9-6.6 1.7-1.5 2.7 2.5 6.6zM1957.5 917.8l-1.4 .4-4 4.7-.2 1.1 1 1.6 6.2 1.6 1.2-.3 4.9-5.3-.8-1.3zM1997 837.8l-1-1.1-4.8-.9-1 .3-2.3 2.9 1.4 5.3 6.1 3.2 1.5-.3zM1958.5 938.2l2.3-3.5-1.3-4.8-.8-.8-6.4-1.3-1.3 2.2 .2 1.2 5.5 6.8zM1953.6 945l0 1.6 4.5 4.6 6.3-4.9 .5-.9-4.9-4.9-1.1-.3-1.8 .7zM1945.7 905.8l.4-1.5-4.1-8.3-9.5-2.8-1.3 .4-.6 1.8 5 13.4 .8 .8 1.9 .3 4.4-1.5zM1966.9 882.1l1.5-.7 1.6-4.7-8-4.8-4.1 5.4-.1 1.1 .7 .7zM1981.3 860.2l.3-1-.7-.9-8.7-3.4-2.4 6.2 6.5 4.7zM1998.9 837.2l.5 7.7 1.4 .3 7.8-3.7-2.7-6.5-.9-.7-2.5-.1-3 2zM1998.9 827.1l-1.2-.7-6.9 .9 .6 6.3 5.8 1.3 3.3-1.8 .4-1.5zM2028.6 974.1l1.2 1.2 13.3 .1 1.2-1.3-.1-2.1-1.4-1.1-12.9 1-.9 .4zM1991.8 971.6l-2.2-5.3-1-.7-5.6-.1-.4 3 .4 .9 6.1 5.4 1.8 0zM1994.5 961.1l-1.7 .5-1.4 2.6 0 1.1 2.1 3.8 6.3-3.7-.5-1.4zM1949.4 920.3l1.3 .7 .7-.4 2.8-3.7-7.6-8.7-1.3 .7-.3 1.4zM2083.1 958.4l-4.9 .9 .1 2.5 .8 .9 4 .7 1.2-3.5-.2-1.1zM2020.2 829.7l1-.3 .3-1-.6-5.2-.8-.9-5.7-2.3-3 .9 .5 7.3zM1967.2 925.3l-1.3-.8-.7 .3-3.4 3.4-.3 1.2 1.5 3.5 5.3-.3 .9-.7zM1981.6 971.2l-2.9 2.6 1.2 1.2 3.3 0 1.2-1.2z" fill="#0000f0"/><path d="M1972.8 954.2l-.9-.6-1.1 .4-1.5 1.6 .1 3.8 .6 .9 1 .1 3.8-1.9zM1968.7 863.1l-1.1-.2-5.3 2.3 .2 3.7 .6 .9 8 4.4 3.7-6.3zM1961.9 907.6l-1 .8-2.3 7.3 5.7 2.2 .8-1.3-.9-7.9-.4-.9zM2077.4 965l-2.1 3.1 1.3 1 4.6-.4 1.3-1.8-.8-1.4-3-.9zM1973.1 850.9l-.3 1.1 .7 .9 7.3 3.2 1.5-.3 .2-6-.9-1.2-4.1-1.2-1.2 .3zM2045.2 813l-.2 1.8 6.7 7.1 1.5 .2 1.3-.8 .3-1.7-5.7-8.2-1.7-.2zM1951.4 879.2l1.1 .1 2.5-1.3 5.5-8.6-1-4.8-4.1-2.6-1.6 .3-8.2 11.4 .3 1.7zM1945.2 895.1l-.4 1.4 2.8 6.3 1.3 .7 4.6-1 .9-.7 2.7-8.2-5-4zM2007.8 807.9l1.6 .7 6.2-2.6 .8-1.1-.4-2.6-9.8-.6-.4 1.4zM1960.1 894.1l-1.1 .8-2.5 7.8 3.8 2.8 2.6 0 1.1-1.1 .8-9.1-.3-.9-1-.4zM2086.7 864.5l.2-1.6-11.2-15-.9-.5-1 .4-2.2 2.4-.3 .9 .5 .8 6.6 5.7 6 7.1 .8 .5zM1966.9 948.2l-1.6 0-5 4.3-.1 1.7 6.7 .5 .9-.4 2.1-2.7zM2006.3 809.4l-3.1-6.3-1 .1-.5 .8-.9 6 5 .9zM1963.8 957.8l2.3 2.7 1-.4 .2-1-.5-2.1-.8-.3-1.9 .3zM1973.5 837.3l3.4 1.3 3.6-2.2-2.4-6.1-1.5 .3-3.5 5-.2 .9z" fill="#0000b8"/><path d="M2007.7 968.7l-.8-1.2-4.1-1.2-8.6 5.2-.8 2.2 .3 1 .9 .4 12.4-.2zM1984.5 854.1l1.2 1.2 .8-.3 6-4.8 .4-1.4-4.2-2.5-1.3 .1-2.9 2.8zM2088.6 943.6l-.6-1.4-1.5 .3-4 5.3 .2 1.8 2.2 1.6 1.1 .2 .8-.9zM2063.2 963.7l-.3 1.8 3.6 4.2 3.9-2.4-3-5.7zM2077.7 971.1l-1.1 1.3 .6 2.9 2.8 .1 1.1-3.1-.3-1zM2018.4 805.8l.9 1.5 7.7 4.6 1.1 .1 3.2-1.6 .7-1.1-.2-8.9-1.3-1.2-10.4 .2-1.6 1.6z" fill="#00009c"/><circle cx="2031" cy="905" r="63.5" fill="#0000f2"/><circle cx="2012.5" cy="800" r="16.5" fill="#4040f2"/><path d="M1699.5 1056.2l1.5-.1 3-2.6 .5-1.4-.6-1.1-3.9-2.1-3.9 4.5zM1732 1065.4l0 1.5 .8 .4 9.6 .9 3-7.5-5.4-3.9zM1745.2 1067.3l.1 1 .9 .6 7.9 .7 .9-.3 .4-.9-6.8-5.6-1-.2zM1710.2 1062.5l.1 .9 .8 .6 5.4 .9 1.3-.7-1.6-5.5-4.6 1.1zM1719.1 1056.2l-.7 1.4 1.9 7.2 1 .9 7.5 .8 .5-1.5-4.5-9.8-1.5-.6zM1614.1 1012l-1 1.1 .2 .8 1.4 .8 1 2 1.1-.1 .5-1-.2-3.4zM1710 1057.4l1.2 .4 4-1.3 .8-.8-.2-1.1-4.7-5.7-4.1 2.2-.5 .9 .2 1.7zM1701.1 1061l1 1.3 4.6 .9 1.4-.8 .7-2.3-.2-1.2-3.4-3.3-3.5 2.6zM1714.4 1046.1l-1.3 1 .2 .9 4.9 6.1 5.5-1.9 2-3.2 0-1.1-.9-.6z" fill="#3030f0"/><path d="M1708.3 1045.4l-5.2-.3-1.1 1.8 3 2.4 1.2 0 3.2-2.5zM1726.2 1052.4l0 1 4.4 9.1 1.5-.2 5.7-7.1-4.3-3.6-.6-3-.8-.5-3.3-.1zM1699.3 1059.2l-.5-1.1-4.6-2.8-3.3 3.7 .9 1.2 6 1.2 .9-.2zM1615.7 1027.6l1.1-.2 .5-1 0-6.1-.8-1.2-2.7-.6-3.3 6.6zM1785.2 1063.5l-8.4 6.3 1.1 1.3 9-.1-.1-7.3z" fill="#0000b8"/><path d="M1771.8 992.2l-.8 .5-.1 1 .6 .8 15.3 6.9 1.1 0 2.1-1.5-2-9.9zM1739.6 997.5l.1 1.9 1.1 .2 1.8-.9 .1-.8-1.3-1zM1580.7 1015.9l-1.5 1.6 .4 .9 .9 .3 20.8-2.7 1-.9-.3-1.1-1-.4zM1617.2 1033.2l-.1-2.7-7.1-3-1.5 .6-1.9 3.7 .6 1.7 6.9 2.8 1.5-.5zM1798 1056.9l-1.1-1.1-.8 .2-2.4 1.7-.3 1.7 3.5 .8 .9-.4z" fill="#5a5af5"/><path d="M1798.3 1062.6l-8.8-.7-.4 .9 .5 8.3 6.9 .4 2.5-.4z" fill="#0000f0"/><path d="M1965.3 209.2l-.3 1.4 2.3 2.3 2.2-2.5-.8-2.6zM2029 196l-1.5 2.2 3.7 3.6 1.1 .1 1.8-1.3 .3-1.1-2.2-3.8zM1912.2 170.1l.3 1.2 8.2 6.1 .7 .1 .9-.8-.2-1.2-8.1-6.5-.7-.2zM2009.3 202.8l1.3-.8 0-7.5-7.1 .2-.8 4.3zM2002.7 192.3l8.6-.2-1.5-7-8.1 4.1-.3 1.3zM1979.2 202.6l1.4 1.7 6 0 .9-.7-2.4-4.9-5.6 2.7zM1969.6 243.1l1.3 .4 5.9-4 .1-1.3-1.7-.7-5.5 4.1zM1999.9 219.9l-.4 1.2 .7 1.3 1.3 .4 10.9-7.4 .2-1.2-1.2-.3zM2053.9 173.3l.4 1.2 1.6 .7 5-1.3 2-4.6-5-3.1zM2027.1 165.5l-.2 2 1.1 .4 4.1-1.5 .5-.9-3.3-3.7-2.3 .1-.7 1.1zM2040.1 185.9l-.4-.8-3.3-1.9-.9 0-3.5 2.5 2.4 4.3 .9 .5 4.4-1.2zM1967.6 240l1.1 0 4.7-3.4 .2-1.3-4.8-.6-2.8 3.4zM2023.9 190.2l-1.4-.2-2.8 2.8 2.9 5.8 2.6-.9 1.5-2 0-.9zM2025.4 187.6l-.3 1.3 3.2 4.9 .9 .4 3.2-.9 .6-2.1-2.9-4.7-2.1-.5zM1967.4 242.4l-3.3-2.8-5.7 4.5-.1 1.2 2.9 3.8 1.2 .2 5.8-4.1zM2024.2 175.4l.5 1.1 1.7 .8 1-.1 1.9-1.9-3-3.9-1 .6zM1924.4 264.8l2.6 5.5 6.9-2.8 1.7 0 1.5-1.2-2.4-5.7-.8-.6-8.4 .7zM1970.7 207.1l1.3 2.4 3.9 .4 2.4-2.9 .1-1.9-.8-1.6-1.2-.4-5.3 2.9z" fill="#e0761e"/><path d="M1981.1 206.1l-.9 .9 .3 .6 4.4 3.9 2-.4 .4-.8-.4-4zM1947.1 255.1l-1.3-.2-5.5 4.6-3.3 .8 1.4 4 1.3 .4 8.9-6 .2-1.3zM1910.8 261.5l.8 3.9 1.9 1.3 8.6-2.1 1.1-2.8-.9-1.1-7.3 .4-2.6-1.1-.8 0zM2062.1 176l-1-.3-3.5 1.4 1.8 5.9 5.3-3.5zM2044.7 181.2l.2-1.3-3.7-4.3-.9-.2-3.6 1.1 .5 5.1 3.4 1.9 .9 0zM2022.4 145.5l-1.2 .4 0 .7 1.7 5 9.7 .6-.2-1.4zM2021.9 202.5l-1.2-.3-1.1 1.3 .8 4.9 .8 .8 3.2-2.3zM1883.1 228.2l1.2 2.4 1.4 .2 0-5.4-1.4 .3zM1896.1 269.4l1.9 2 1.2 0 1.2-8.4-2-1.9-2.4 2.1zM2042.6 193.6l-2.7-2.3-5.2 1.5-.7 2.1 2.4 3.8 6.1-3.8zM2034.7 177l-1-.9-2.2 .2-3 2.3-.3 .9 .9 4.5 1.4 .2 4-2.5zM1996.4 200.4l1.2 .4 3.2-2.2 .8-4.4-2.4-3.4-5.5 3zM2028.2 159.8l2.4-5.2-6.7-.5 1.3 5.5 1.1 .6z" fill="#e8944f"/><path d="M2055.6 177.4l-1.9-1.2-1 .2-4.3 4.5 5 6.3 4-2.6zM1900.6 255.7l.6 2.5-.8 1.5 1.1 1.3 7-.1 .8-.6-.2-1.8-7.1-3.3zM1891.4 263.4l-1.1 .3 .1 1.2 2.4 2 1.2 0 0-2.4zM1931.7 185.6l1.3-.2-.2-1.3-7.9-6.3-1.3 .1 0 1.6zM2033.1 169.1l-1.2-.7-3.6 1.7 2.7 4.1 .8 .3 1.6-.4 .2-.7zM1901.5 269.4l.7 1 .7-.2 6.4-4.1 .4-1-.8-2.2-6.5 .2zM2023.2 177.8l-4.8 2.5 5.4 6 2.8-1.5 .5-.9-.7-4.2zM2013.7 193.3l-1 .8-.1 7.7 1.2 .2 4.1-2.2 2.3 .6 .4-1.2-2.6-5.3zM2034.2 164.2l2.7-.4 .6-.8 .7-8.3-2.2-1.9-1 .1-1.8 1.4-2.6 5.4 .1 1zM1901.8 273.1l-.1 1.4 4.9 4.2 1.9-.1 4.8-2.3-1.2-7.7-1.3-1.1zM1979.3 216.9l-.6 1.3 3.5 5.7 1.5 .1 1.9-2.9-1.5-4.6-1-.6zM2066.1 177.9l1.2 .2 3.8-2.6 .1-.6-6.4-4.2-1.6 3.1 .2 .9zM1957 246.6l-1.3-.1-7.2 6.1-.1 1.2 1.9 2.7 1.3 .2 7.8-5.3 .2-1.3zM1976.1 217l.5-1.1-1.9-4-3-.6-.9 .4-2.2 3.3 2.9 3.8zM1978.6 209.6l-1.5 2.4 1.3 3 5.1-1.3-.1-1.1-3.5-3.1zM1996 204.3l-1-.7-5.8 1.5-.1 5 .6 .8 4 1.7 3.6-1.5 .4-1.1zM2044.3 192.8l1.2 .1 5.9-4.4-4.8-6.1-4.6 3.4-.3 3.7zM1923.3 266.9l-1.1-.5-8 2.3 1.3 6.5 9.4-4zM1973 223.6l.7 1.2 5.5 .3 .9-.7-3.3-5.5-3.7 1.8zM1992.2 195.5l-1.2-.4-3.9 2.4 2.4 5.2 5.1-1.2zM2039.3 163.2l.4 .8 4.5 2.3 4.4-5.8-8-4.8-.7 .8z" fill="#e88830"/><path d="M2042.4 173.5l.2 1 4.3 4.6 4.8-4.6-6.9-5.6zM1974 227l1.4 5.3 1.2-.2 2.8-3.7-.1-1.2zM2013.2 190.8l.9 .7 3.6 .1 4.3-3.9-5.8-6.3-4.3 2.4zM1972.4 229.3l-1.2-.6-.5 .5-.9 3.2 2.4 .7 .9-.6zM2023.9 200.2l-.5 1.4 2.9 4 2.9-1.6 .1-1.5-3-2.7zM1977 234.5l.1 1.2 2.1 1.9 7.3-5-3.8-4.9zM2002 200.8l-4.3 2.2 2 6.3 8.2-4.3-.4-1.1zM1985.6 214.4l1.9 6.1 4.3-.8-1.2-4 .5-1.9-.6-.6-2.6-.7zM1987.9 231l1.2 .2 9.4-6.4 .3-1.1-.9-1.7-1.2-.4-2.8 1.2-1.7-1-5.2 1.1-2.5 3.3zM2035.5 173.7l1.1 .8 4.1-1.5 1.9-4.4-.4-1.1-3.7-2.1-3.7 1.3zM2046.6 166.5l.1 1.2 5.6 4.1 3.6-6.9-5.2-3.2z" fill="#b25a12"/><path d="M1875 314l-2 1-5 11 0 1 1 2 16 8 1 0 2-1 7-18 0-2-1-1zM1861 279l7 16 1 1 1 0 15-5-1-20-1-1-2 0-18 7zM1883 269l4-5 0-2-1-1-13-10-3 0-13 9-1 1-4 17 0 2 1 1 2-1zM1869 297l-1 1 0 1 6 14 1 1 20 1 2-1 0-2-12-19-1-1-1 0zM1903 287l2-1 1-8 0-2-17-13-1 0-2 1-2 5 1 19 1 1 1 1zM1845 309l-1 5 0 1 21 12 2 0 1-1 6-11 0-2-5-11-1-1-1 0-1 1-5 9-14-4-2 0z" fill="#8ef03a" stroke="#fff" stroke-width="1.8"/><path d="M1887 290l-2 1 0 2 10 17 1 1 2-1 2-4 4-16-1-2-2-1z" fill="#96f848" stroke="#fff" stroke-width="1.8"/>
<polygon points="1200,420 1338.3,400 1480,307.3 1617.7,435 1541.7,673.3 1318.3,703.3 1200,720" fill="#73c8ff" stroke="#fff" stroke-width="2"/>
<polygon points="1480.7,306.7 1495,290.7 1810,310.7 1617.7,434" fill="#6bb9ef" stroke="#fff" stroke-width="2"/>
<polygon points="1318.3,703.3 1541.7,673.3 1665,870 1578.3,1015 1500,1150 1200,1150 1200,720" fill="#4e8ab0" stroke="#fff" stroke-width="2"/>
<polygon points="1665,870 1876.7,930 1790,988.3 1736.7,996.7 1580,1015" fill="#7ccfff" stroke="#fff" stroke-width="2"/>
<polygon points="1617.7,435 1810,310.7 1840,313.3 1888,339.3 1910,370.7 2030.3,565.5 2029.3,731.7 2019.3,768.3 1919.3,908.3 1877.7,930 1876.7,930 1665,870 1541.7,673.3" fill="#5ba3d0" stroke="#fff" stroke-width="2"/>
<polygon points="1432.6,252.1 1472.8,222 1478.2,238 1494.9,287.6 1466.8,307.7 1432,272.9" fill="#5ea92a" stroke="#fff" stroke-width="2"/>
<polygon points="1405,262 1415.2,272.6 1430,273.1 1465.4,308.4 1359,382.7 1349.6,374.7 1330,380" fill="#4c9422" stroke="#fff" stroke-width="2"/>
<polygon points="1412,262 1429.3,250 1427.9,270.2 1417.2,268.2" fill="#4a9020" stroke="#fff" stroke-width="2"/>
<polygon points="1339.5,397.4 1346,380 1356,384 1349,392" fill="#90f53e" stroke="#fff" stroke-width="2"/>
<polygon points="1836.7,120 1856.7,100 1923.3,105 1933.3,117.3 1931.7,130 1890,211.7 1876.7,220 1863.3,213.3 1853.3,190" fill="#e5b42e" stroke="#fff" stroke-width="2"/>
<polygon points="1827.3,93.3 1856.7,98.3 1836.7,119.3 1831.7,113.3" fill="#f3cc55" stroke="#fff" stroke-width="2"/>
<polygon points="1925,104 1941.7,113.3 1934,117.3" fill="#f3cc55" stroke="#fff" stroke-width="2"/>
<polygon points="1864,215 1876.7,221.3 1870,239.3 1856.7,236.7" fill="#b38d22" stroke="#fff" stroke-width="2"/>
<polygon points="1943.1,114.2 2019.5,144.3 2026.2,165.7 2023,176.4 1964.6,208.6 1913,167" fill="#b25a12" stroke="#fff" stroke-width="2"/>
<polygon points="1911.7,171.8 1963.9,210.6 1972.6,222 1967.3,235.4 1939.8,258.8 1915,260.2 1899,252.8 1886.9,231.4 1886.9,216.6" fill="#e0761e" stroke="#fff" stroke-width="2"/>
<polygon points="1870.1,243.4 1882.9,230 1893.6,247.4 1900.3,258.2 1893.6,263.5 1880.2,256.8" fill="#e8944f" stroke="#fff" stroke-width="2"/>
<polygon points="1991.4,215.3 2018.2,200.6 2019.5,208.6 1994,222" fill="#e8944f" stroke="#fff" stroke-width="2"/>
<polygon points="1846,285 1861.7,280 1868.3,296.7 1860.7,310.7 1845,306.7" fill="#4a8a20" stroke="#fff" stroke-width="2"/>
<polygon points="2071,176.7 2204.3,196.7 2337.7,313.3 2271,373.3 2241,373.3 2234.3,400 2214.3,438.3 2147.7,516.7 2034.3,520.7 1992.7,508.3 1909.3,365 1907.7,346.7 1914.3,318.3 1936,268.3" fill="#b00000" stroke="#fff" stroke-width="2"/>
<polygon points="1889.3,338.3 1897.7,318.3 1914.3,318.3 1907.7,346.7 1909.3,365" fill="#df1212" stroke="#fff" stroke-width="2"/>
<polygon points="1907.7,280 1934.3,268.3 1914.3,318.3 1897.7,316.7" fill="#df4a4a" stroke="#fff" stroke-width="2"/>
<polygon points="1994.3,509.3 2034.3,521.7 2031,563.3" fill="#d80000" stroke="#fff" stroke-width="2"/>
<polygon points="2149.3,517.3 2216,439.3 2249.3,441.7 2263.7,478.3 2257.7,488.3" fill="#c00000" stroke="#fff" stroke-width="2"/>
<polygon points="2236,385 2251,378.3 2257.7,405 2237.7,410" fill="#a00000" stroke="#fff" stroke-width="2"/>
<polygon points="2232.7,413.3 2257.7,410 2269.3,433.3 2251,440.7 2227.7,429.3" fill="#df4a4a" stroke="#fff" stroke-width="2"/>
<polygon points="2252.7,443.3 2269.3,435 2279.3,473.3 2264.3,477.3" fill="#df1212" stroke="#fff" stroke-width="2"/>
<polygon points="2034.3,522.7 2147,519.3 2146,523.3 2031.7,562.7" fill="#df4a4a" stroke="#fff" stroke-width="2"/>
<polygon points="2192.7,513.3 2257,490.7 2264.3,553.3 2251,569.3 2195,520.7" fill="#d80000" stroke="#fff" stroke-width="2"/>
<polygon points="2259.3,490 2278.3,478.3 2289.3,546.7 2267.7,554" fill="#df4a4a" stroke="#fff" stroke-width="2"/>
<polygon points="2144.3,526.7 2191,515 2194.3,521.7 2162.7,544" fill="#e03a3a" stroke="#fff" stroke-width="2"/>
<polygon points="2194.3,522.7 2251,570.7 2241,596.7 2217.7,626.7 2171,631.7 2147.7,596.7 2154.3,553.3 2164.3,544" fill="#df1212" stroke="#fff" stroke-width="2"/>
<polygon points="2104.3,541.7 2141,528.3 2154.3,553.3 2149.3,576.7 2124.3,584 2102.7,563.3" fill="#a00000" stroke="#fff" stroke-width="2"/>
<polygon points="2061,556.7 2102.7,543.3 2102.7,564 2107.7,586.7 2082.7,601.7 2064.3,617.3 2061,563.3" fill="#a80000" stroke="#fff" stroke-width="2"/>
<polygon points="2031.7,565 2059.3,557.3 2060.3,564 2077.7,597.3 2064.3,617.3 2031.7,620.7" fill="#e03a3a" stroke="#fff" stroke-width="2"/>
<polygon points="2064.3,618.7 2082.7,603.3 2111.7,610 2118.3,630 2114.3,657.3 2081,660.7 2062.7,644" fill="#a00000" stroke="#fff" stroke-width="2"/>
<polygon points="2251.7,572 2287,560 2288.3,606.7 2265,617.3 2241.7,597.3" fill="#df4a4a" stroke="#fff" stroke-width="2"/>
<polygon points="2032.7,622 2063,620 2067.7,647.3 2054.3,665.3 2032.7,664" fill="#b00000" stroke="#fff" stroke-width="2"/>
<polygon points="2116,631.7 2131,603.3 2171,633.3 2217.7,628.3 2237.7,605 2262.7,637.3 2275,693.3 2245,726.7 2201.7,742 2129.3,715.3 2114.3,680.7" fill="#cc0000" stroke="#fff" stroke-width="2"/>
<polygon points="2062.7,690.7 2091,680 2114.3,682 2128.3,715.3 2118.3,734 2083,744 2057.7,724" fill="#a00000" stroke="#fff" stroke-width="2"/>
<polygon points="2129.7,717.3 2201,744 2191.7,764 2119.7,750.7 2118.3,735.3" fill="#b80000" stroke="#fff" stroke-width="2"/>
<polygon points="2211.7,742 2245,728.7 2263.7,747.3 2253.3,774 2211.7,765.7" fill="#a00000" stroke="#fff" stroke-width="2"/>
<polygon points="2195,745.3 2211,743.3 2211,764.7 2192.3,763.3" fill="#df4a4a" stroke="#fff" stroke-width="2"/>
<polygon points="2032.7,666 2054.3,666.7 2064.3,686.7 2057.7,723.3 2032.7,726.7" fill="#c40000" stroke="#fff" stroke-width="2"/>
<polygon points="2032.7,728 2057,725.3 2082.3,745 2057.7,740" fill="#e03a3a" stroke="#fff" stroke-width="2"/>
<polygon points="2057.7,741 2151,756.7 2166,773.3 2167.7,823.3 2141,850 2114.3,862.7 2087.7,855 2037.7,786.7" fill="#c07cff" stroke="#fff" stroke-width="2"/>
<polygon points="2167.7,767.3 2201.7,773.3 2205,814 2169.7,823.3" fill="#c07cff" stroke="#fff" stroke-width="2"/>
<polygon points="2204.3,776.7 2244.3,782.7 2237.7,806.7 2207.7,815" fill="#ab4ef8" stroke="#fff" stroke-width="2"/>
<polygon points="2030.3,735 2057,741.7 2037.7,785 2020.3,768.3" fill="#9a10f5" stroke="#fff" stroke-width="2"/>
<polygon points="2154.3,833.3 2187.7,830 2206,853.3 2194.3,881.7 2161,890 2141,866.7" fill="#a030f5" stroke="#fff" stroke-width="2"/>
<polygon points="2187.7,826.7 2207.7,818.3 2219.3,834 2207.7,853.3" fill="#6a00b8" stroke="#fff" stroke-width="2"/>
<polygon points="2104.3,868.3 2129.3,861.7 2137.7,876.7 2124.3,893.3 2104.3,888.3" fill="#ab4ef8" stroke="#fff" stroke-width="2"/>
<polygon points="2104.3,893.3 2131,896.7 2134.3,923.3 2107.7,930 2099.3,913.3" fill="#8a00e6" stroke="#fff" stroke-width="2"/>
<polygon points="2099.3,930 2124.3,933.3 2104.3,960 2084.3,976.7" fill="#a030f5" stroke="#fff" stroke-width="2"/>
<polygon points="2021,816.7 2037.7,808.3 2051.7,823.3 2047.7,840.7 2024.3,842" fill="#00009c" stroke="#fff" stroke-width="2"/>
<polygon points="1789.3,990 1896,925 1897.7,1024 1796,1025.3" fill="#a2520f" stroke="#fff" stroke-width="2"/>
<polygon points="1899.3,923.3 1919.3,910 1976.3,976.7 1975,1040.7 1921,1057.3 1899.3,1026.7" fill="#e8944f" stroke="#fff" stroke-width="2"/>
<polygon points="1796,1027.3 1897.7,1025.7 1919.7,1058 1871,1093.3 1802.7,1093.3" fill="#e8944f" stroke="#fff" stroke-width="2"/>
<polygon points="1978.3,980.7 1991.7,1028.3 1978.3,1035" fill="#5ea92a" stroke="#fff" stroke-width="2"/>
<polygon points="1618.3,1013.3 1702.7,1001.7 1703.3,1043.3 1686.7,1061.7 1656.7,1053.3 1618.3,1037.3" fill="#0000b8" stroke="#fff" stroke-width="2"/>
<polygon points="1573.3,1020.7 1614,1015.3 1603.3,1036" fill="#0000cc" stroke="#fff" stroke-width="2"/>
<polygon points="1705,1000.7 1738.3,997.3 1734,1047.3 1705,1044" fill="#00008c" stroke="#fff" stroke-width="2"/>
<polygon points="1740.7,1000.7 1766.7,993.3 1790,1004 1797.3,1054 1766.7,1075 1734,1050.7" fill="#0000f0" stroke="#fff" stroke-width="2"/>
<path d="M1630 135l-2-1-10 1-2 6 1 2 5 4 1 1 2-1 7-6 1-1 0-2zM1767 239l-1-3-2 0-5 0-1 1-3 3 4 7 2 2 2 0 3-2zM1748 295l0-2-2-7-2-1-6-3-2 1-6 4-1 1 0 2 9 15 1 1 4 0 1-1zM1819 160l2 0 5-6 0-2-3-8-4-3-2 0-1 1-5 5 0 2 3 9 2 2zM1751 201l1-1 0-2-4-9-1-1-9 0-2 1 0 2 4 11 1 1 2 0zM1811 133l2 1 3 1 3-2 1-2 0-13-1-2-7-2-2 1-2 1-2 4 0 2zM1789 175l1 1 2 0 13-2 2-2 2-9-1-1-9-5-1 0-1 1-10 10zM1573 253l1 2 2 0 10-4 1-1 0-2-8-20-2-1-4 1-1 2zM1790 238l-1 1 0 2 2 3 2 0 10-5 1-1 0-2-1-1-2 0zM1686 106l1-2-1-1-2 0-18 4-1 1 0 2 2 4 8 3 5-2 1-1zM1498 190l-1 2 0 1 4 6 13-2 4 3 2 0 1-1 2-4 0-2-6-13-2-1-2 0zM1606 148l-1-2-1 0-15 2-2 6 0 2 3 2 15 4 2-1 1 0 1-2zM1751 154l2 1 4-1 6-6 0-2 0-3-5-5-7-2-2 1-6 8-1 2 1 1zM1573 202l-2 1-4 7 0 2 6 14 2 1 3 0 2 0 0-2 4-20 0-1-2-1zM1778 158l-1-2-12-8-2 0-1 1-3 3-1 3 7 14 2 0 10-5 1-1 0-1zM1753 217l1-1 1-1-1-4-2-1-8 0-2 1 0 1-1 4 1 2 2 0zM1772 199l-1 1-5 19 1 3 7 1 1 0 11-10 1-2-1-1-9-12-2-1zM1729 289l-2-1-2 1-6 8-1 6 1 1 1 1 14 1 2-1 0-1 0-1zM1706 297l0-2-1-1-2 0-4 2 0 6 1 1 1 1 3-1zM1617 143l-3 0-6 3-1 1-1 1 2 8 1 2 2 0 1 0 9-8 1-2-1-1zM1839 300l-3 1-1 1 0 2 5 8 1 1 2-1 1-1 4-18 0-1-1-1-1 0-2 1zM1571 180l1 1 1 0 1-1 6-6-4-7-2-1-5 0-3 1 0 3z" fill="#e7b830" stroke="#fff" stroke-width="1.8"/><path d="M1755 216l2 4 2 1 6-1 1-1 4-16 0-2-1-1-1 0-11 3-1 1-2 6zM1802 137l-4 9 1 1 2 0 9 0 1 0 6-6 0-2 0-2-2-2-4-1-8 2zM1559 248l-9-10-1-1-1 1-1 1-3 6 0 2 6 8 2 1 5 0 2-1 1-2zM1764 249l-1 2 0 3 1 2 6 3 1 0 2-1 0-1 0-7-7-2zM1617 134l2 1 8-1 2-1 0-1 0-10-1-2-2 0-3 1-10 4-1 1 1 2zM1656 125l2 0 1-1 7-10 0-2-3-4-1 0-16 5-2 2 0 2 3 4zM1682 117l-1-1-2 0-3 0-2 2-2 9 1 2 1 1 12 1 2 0 1-1-1-2zM1810 115l1-2-2-8-1-1-7-4-2 0-5 4-1 1 0 5 0 1 1 1 13 4zM1673 298l-1 0-1 2 1 1 1 1 12 1 2-1 0-2-1-3-1-1zM1573 182l0 2 1 2 1 1 6 1 2-1 1-2-1-10-1-1-2 1zM1718 96l-1 1-1 1 0 6 1 1 6 6 1 1 1-1 1-1 5-13 0-1-1-1-2-1zM1764 182l-2-1-9 2-4 3-1 2 5 12 2 2 2 1 14-4 3-2 1-1-1-2zM1807 119l0-2-1-1-12-4-2 0-3 4-1 2 1 1 8 7 8-5zM1851 195l1-1 0-2-3-13-1-1-1 0-2 0-8 8-1 2 2 6 1 2 1 0zM1820 132l-3 3 0 2 1 4 4 3 2 0 11-6 1-1-1-6-1-1-2 0zM1786 140l0 2 1 1 9 3 1 0 1-1 4-8-1-2-3-4-1-1-2 0-6 4zM1781 125l1 13 1 1 2 0 2-1 1-3 0-2-3-9-1-1-1 0zM1585 296l2 0 0-2 0-1-4-4-2 0-1 1-2 4 1 2 1 0zM1847 177l0-2-1-6-9 0-5 2-2 1-1 11 1 1 6 3zM1577 266l-2-1-1 1-4 6-1 3 3 4 7 4 2 0 6-5 1-4-1-2zM1546 269l-1 5 1 2 1 1 7 0 2 0 3-3 1-2-3-14 0-2-2 0-4 0-7 6-1 1 1 1z" fill="#c39c26" stroke="#fff" stroke-width="1.8"/><path d="M1786 240l1-1 0-2-2-3-1-1-4-1-2 1-3 4 0 2 2 5 1 1 2 0zM1481 243l-1 1 0 2 8 23 1 1 1 0 10-2 2-1 1-8 2-2 0-1-2-1-10-3-8-9-1-1zM1750 254l-1 1 0 2 1 1 9 2 3-4 1-5-2-2-3 0zM1810 162l4-3 0-1-4-10-10-1-2 1 0 1 0 6 1 2 9 5zM1729 173l2 1 1-1 6-5 1-1-1-1-3-8-1-1-10-1-2 1-3 5-1 1 1 2zM1569 292l-1 1 1 2 1 0 5 1 2-1 4-7 0-2-1-2-2 0-1 0zM1780 245l-1 2 1 1 3 4 2 0 1-1 4-5 0-2-1-3-2-1-1 1zM1494 201l4-1 2-1-1-2-1-3-2-1-1 0-10 8-8 6 0 2 1 2 4 2 1-1zM1592 159l-2 0-1 2 1 11 1 2 2 1 4 1 1-1 6-10 0-2-2-2zM1674 119l0-2-1-1-5-2-1 0-2 1-6 10-1 2 4 6 1 1 2 0 6-4 1-2zM1775 263l1 1 1 0 1-1 6-8 0-1 0-2-6-5-4 2-1 2 0 9zM1780 164l-2 0-11 5-1 2-3 9 1 2 10 12 1 1 2-1 11-9 2-8-4-8zM1786 118l6-6 1-7-1-1-9-6-1-1-2 1-5 9 7 10 3 1zM1830 171l1 0 4-2 1-1 0-2-6-11-2-1-2 0-6 6 3 7 1 1zM1742 204l1 5 1 1 8 0 2 0 1-1 1-6-2-2-2 0-9 2zM1667 132l-1 2 1 2 20 8 2 0 1-2 1-8-1-1-1-1-16-3-2 1zM1589 173l-5 2-1 1 1 6 0 1 2 1 2-1 4-6 1-2-2-2zM1580 173l1 1 3 0 5-1 1-2-1-12-2-3-1 0-2 0-8 8 0 2 0 1zM1797 157l1-1-1-9-10-4-1 0-1 1-7 12 0 2 1 5 1 1 6 3 1 0zM1789 212l-3 0-10 10-1 1 4 8 1 1 3 1 2-1 9-10 1-2 0-6zM1570 196l0 2 1 3 2 1 9 1 2-1 1-1 2-9-3-4-1 0-9-1zM1553 171l3 2 2 0 7-4 2-2 0-2-5-13-1-1-3 0-9 5-1 2 0 1zM1764 281l-7-3-3 0-7 6-1 1 0 1 3 7 10 1 2 0 5-5 1-1 0-2zM1768 126l-2 0-2 1-5 10 1 2 3 4 2 0 9-5 1-1 0-1-2-5zM1839 196l-1 1-1 1 1 10 1 2 4 1 2 0 10-10-1-5-1-1-2-1zM1741 121l-1 0-2 1-8 15 0 2 1 1 8 6 2 0 1-1 7-8 1-2-7-13zM1800 98l2 2 7 4 10-10 0-2 0-1-2-1-15 0-1 0-1 2zM1761 294l-1 1 1 11 1 1 1 1 7 0 2-1 1-1-3-16-1-1-1-1-2 1zM1572 232l-1-2-1-1-2 2-9 16 1 5 0 1 2 1 8 1 2-1 1-1zM1716 279l-1 0-1 0-8 5-1 3 2 6 10 4 1 0 6-8 0-1 0-1zM1769 267l-8-2-2 1-4 6 0 2 0 2 1 2 7 2 1-1 6-9 0-2zM1743 230l12-5 2-4-1-3-2-1-11 1-1 1-1 1-1 8 1 2 1 1zM1832 130l1-1 1-2-3-12-1-2-2 0-8 3 0 13 0 2 2 1zM1777 195l-1 1 0 2 11 13 7 3 2 0 2-2 7-14 1-1-1-2-15-10-2 0-1 1zM1740 167l-2 1-8 8 4 11 1 1 2 1 10-2 1 0 4-4-7-14-1-1zM1555 173l-3-1-12 5-1 1 0 1 1 2 7 5 1 1 4-1 4-4 1-2 0-6zM1720 274l-3 2-1 2 1 2 8 7 1 1 3-1 7-4 1-2-2-16-1-1-4-2-1-1-1 1zM1691 296l-3 1-1 1 1 4 1 1 8 0 2 0 0-2 0-4-1-2-4-1zM1532 169l7 8 1 0 11-5 1-1 0-2-4-9-1-2-2 1-8 5-4 2-1 2zM1760 296l0-1-2-1-9 0-5 10 0 2 2 1 13 0 1 0 1-2z" fill="#efc237" stroke="#fff" stroke-width="1.8"/><path d="M1789 183l1 2 16 11 1 0 6-2 1-1 2-5 0-1-3-8-6-5-2 0-15 3zM1750 135l1 1 6 2 2 0 1-2 5-11 0-2-5-7-2 0-13 5-1 1 0 2zM1621 288l-1 0-1 1-1 1 2 8 2 1 21 1 2 0 1-2-1-1-1-1zM1572 229l1-2 0-1-6-14-1-1-17-2-2 1 0 3 5 14 2 1 14 1zM1781 95l1 2 10 6 2 1 5-4 1-1 0-7 0-2-2 0-15 0-2 0 0 2zM1843 169l2-1 0-2-4-14-1-1-2 0-6 2-1 1 0 2 6 11 1 1zM1701 150l2-1 14-9 1-1-1-1-5-11-1-1-7-2-1 1-11 7-1 1-1 12zM1755 241l-2-1-6 0-2 1-1 2 3 9 2 2 2 0 6-5 1-1 0-2zM1491 270l-2 1 0 2 6 17 9 1 1 0 1-2 0-1-6-11 1-7-1-1-2 0zM1821 307l-1 2 0 2 2 1 15 1 1-1 1-1 0-2-4-5-1-1-2 0zM1561 273l-2 1-3 2 0 1 0 2 4 9 1 1 1 0 1 0 8-9 0-3-2-2-1-2zM1768 224l-1-2-2-1-6 0-2 1-2 3 0 2 4 9 5 0 1-1 1-1zM1783 306l0 2 2 1 22 1 1 0 1-1 0-2-2-1-11-3-6-6-1-1-2 1-1 1zM1468 216l-1 1 0 2 5 2 4 11 0 1 2 0 1 0 1-2 0-15 1-2-1-2-5-2zM1717 106l-2-1-14 2-1 1 0 2 3 13 2 1 6 2 2-1 11-10 0-1 0-2zM1811 218l3-1 6-7 1-2-4-10-2-3-3-1-5 2-1 1-7 14 0 2 1 1zM1743 148l-2 0-1 1-5 7 0 2 4 8 1 1 4 1 2-1 2-2 3-10zM1584 156l2 0 1-2 2-6-3-9-1-1-2 0-4 2-10 5-1 1 0 2 1 1zM1765 123l1 1 1 0 13-5 1-2 0-2-6-7-2 0-9 1-2 1-2 5 1 2zM1830 221l1 2 9 7 2 0 1-1 2-1 1-12 0-1-2-3-5-3-2 1-5 2-1 2zM1581 282l-1 3 2 3 6 6 2 1 2-2 3-7-1-2-5-5-2-1-1 1zM1532 244l0 2 1 1 1 0 8 0 2-2 3-8 0-2-2-1-7-1-2 0-1 2zM1853 247l1-1 1-1-1-13-9-3-3 1-1 1-5 9 1 2 6 8zM1799 235l2-1 0-2-5-8-1-1-2 1-8 9 2 4 1 1 1 0zM1767 237l1 1 5 0 2-1 3-4 0-3-3-6-1-1-4 0-2 0-1 1-1 11zM1595 265l-6-13-1-1-2 0-11 4-1 1 0 1 1 7 1 1 11 7 2-1 6-4zM1760 168l2-1 1-1 0-1-4-10-1-1-2 0-3 1-2 1-3 7 1 2 1 1zM1855 246l1 1 5 3 2 0 1-1 5-8 1-2-4-11-2-1-1 0-8 4-1 2zM1817 233l0 2 2 1 17 4 1-2 3-6 0-2 0-1-8-6-3 0-11 7zM1690 130l1 1 2 0 9-6 1-1 0-2-4-14-6-6-2-1-2 1-7 12 0 2zM1739 243l-9 16 0 1 1 2 4 2 1 0 6-2 5-5 1-1-4-15-1-2-2 0-1 1zM1829 223l1-2 1-8-8-3-3 0-6 7-1 3 4 8 1 1 2 0zM1739 118l0 1 1 2 4 0 15-5 1-1 2-5 0-2-8-15-2-1-3 0-2 1zM1576 285l1-2-1-2-3-1-1-1-2 1-8 11-1 1 1 2 2 1 2-1zM1552 188l-2-1-3 1-4 9 0 2 3 7 1 1 2 0 1-1 6-8 0-2zM1757 91l-2 1 0 1 0 1 8 14 10-1 2-1 6-9 0-1 0-4-1-2-1 0zM1764 256l-1 0-1 1-2 3 0 3 1 2 10 3 3-1 1-2 0-1-2-3zM1661 138l1-2 0-2-4-7-9-5-2 0-1 1-5 14 0 1 1 1 1 1zM1646 122l0-2-4-5-3 1-9 3-1 14 1 2 5 5 2 1 1-1 2-1zM1566 148l-3 1-1 1 0 1 5 13 2 2 5 0 2-1 6-7 1-2-1-1zM1766 171l-1-2-1-1-16-2-1 0-2 2 1 1 5 12 1 1 2 0 7-1 2-1zM1846 214l1 1 11 2 1-1 1-1 0-1-3-9-2-2-2 1-7 7-1 1z" fill="#f3cc55" stroke="#fff" stroke-width="1.8"/><path d="M1563 183l-1 1-1 2 2 8 2 2 4 0 1-1 4-7 0-2-1-2-2-1zM1549 234l-1 1 1 1 8 9 2 1 2-1 6-13 0-1 0-1-2-1-11-1-2 1zM1550 206l-1 2 1 1 1 1 16 1 4-8 0-2-1-3-1-1-6-2-5 2-2 0zM1543 287l-4 2-1 2 0 2 2 1 19 1 1-1 1-2-5-13-2-2-7 0-2 0 0 2zM1798 126l-1 1 0 3 5 6 7-2 2-1 0-2-4-8-1-1-2 0zM1517 177l-1 1 0 1 7 13 1 1 1 0 5-2 8-10 1-2-1-2-6-8-1-1-2 1zM1848 258l2 12 1 1 1 0 1 0 1-1 3-10 4-7 1-2-1-1-5-3-2 0-8 3-1 1 0 2zM1587 136l-1 1 0 2 3 8 2 0 12-1 2-1 0-2-2-11-1-1-2 0zM1605 144l1 1 2 0 7-3 1-1 1-5 0-2-6-7-7 2-1 1 0 1zM1778 127l-4 3 0 2 1 4 1 2 5 1 1-1 0-2-1-7-1-2zM1553 186l-1 1 0 1 5 8 4 0 2-1 0-2-2-9-1-1-3-1zM1575 264l-2-8-1-1-11-1-3 1-1 2 2 14 1 2 2 0 6 0 2-1 4-7zM1777 266l-1 0-5 2-7 11 0 3 3 5 2 1 9-1 2-1 0-2-1-16-1-1zM1698 295l2 1 5-3 1-1 0-1-1-4-1 0-2 0-5 4-1 2zM1705 148l-1 2 0 2 12 10 1 0 2-1 4-4 0-2-2-13-2-2-2 0zM1821 198l-2 1-1 2 3 7 1 2 8 3 2-1 5-2 1-2-1-8 0-2-2 0zM1558 172l-1 3 0 5 1 2 3 1 8 0 2-1 0-2-4-9-2-2-1 1zM1737 280l1 2 6 3 2-1 8-6 1-2 0-2-1-2-11-9-2 0-4 1-1 1-1 1zM1786 118l-2 1 0 2 4 11 1 1 2 0 5-3 1-3-1-2-8-7zM1772 288l-2 1 0 1 3 17 1 1 1 0 7 0 5-12 0-3-6-6-2 0zM1585 186l0 2 0 1 2 1 2-1 2-4 0-1 0-2-2 0-1 1zM1810 103l-1 2 2 8 1 1 8 2 9-3 1-1 0-2-3-18-1-1-3-1-2 1z" fill="#b38d22" stroke="#fff" stroke-width="1.8"/><path d="M1592 294l0 2 2 1 9 1 1-1 1-1 1-9 0-2-2 0-7 0-2 1zM1726 112l0 1 1 2 9 3 2 0 1-1 7-22 0-1 0-1-2-1-11 2-1 1zM1718 299l-1-2-7-3-2 0-1 2-2 5 0 2 2 1 9 1 2-1 0-2zM1739 122l0-2-2-1-11-5-2 1-12 11 6 13 1 1 2 0 7-1 1-1zM1753 271l1 1 2-1 4-6 0-3-2-2-9-3-2 1-3 3-1 2 1 1zM1532 207l2 6 1 1 1 0 9-2 2-2 0-2-5-10-11-6-2 0-5 1-1 2-2 4 0 2 1 1zM1814 193l1 2 2 2 1 1 18 0 1-1 1-2-2-7-1-1-6-3-1 0-11 3-1 1zM1825 143l-1 2 0 1 2 6 2 2 2 0 8-4 2-1 0-1-3-8-1-2-2 1zM1730 139l-2 0-5 1-2 1 0 2 2 11 0 1 2 1 8 1 3-1 4-7 0-2-1-1zM1532 190l-1 2 1 1 8 4 2 0 1-1 4-7 0-2-6-5-2-1-1 1zM1589 272l-1 4 0 2 7 6 1 1 10-1 4-3 1-1-1-2-12-11-2-1-1 1zM1785 144l0-2-2-2-7-2-1 0-11 5-1 1 0 2 1 2 11 7 2 1 2-1zM1696 100l-1 1-1 1 1 2 3 3 2 1 14-3 2-1 0-1 0-4-1-2-2 0zM1743 240l10 0 2 0 2-3 1-2-2-7-1-1-2 0-12 4-1 2 0 3 1 2zM1531 247l-1 1-1 1 1 2 1 1 6 1 4 8 2 1 2-1 4-3 1-2-1-1-5-8-2 0zM1782 122l0-2-1-1-1 0-11 4-1 1 0 1 1 2 4 3 7-4zM1812 178l1 1 2-1 7-9 1-2-3-6-1-1-5 0-4 2-1 1-2 9 0 3zM1772 249l2 0 2-1 1-1 0-2-2-6-3-1-3 0-1 0-1 2-1 6 0 1 2 1zM1795 221l7 13 3 2 2 1 5-2 4 0 1-2 0-3-4-11-1-1-14-5-1 0-2 3zM1607 284l0 1-2 10 1 2 1 1 10 0 2 0 0-2-2-12-3-3-2-1-1 1zM1827 184l2-2 1-11-1-1-5-2-10 11 0 2 1 4 1 2 2 0zM1853 232l2-1 8-4 1-1 0-2-2-6-2-1-12-1-1 0-1 2-1 9 0 1 1 1zM1538 227l-1 3 0 2 1 1 9 1 2 0 3-5 0-2-5-14-1-1-2 0-8 2-1 1 0 2z" fill="#eec136" stroke="#fff" stroke-width="1.8"/><path d="M1605.5 164.1l-18.2 29.7-6.6 34.8 .2 1.8 14.5 32.6 26.3 23.8 33.7 11.6 34.4-3.5 1.5-.5 27.9-20.7 19.1-31.5 2.5-35.5-13-33.2-26.5-22.8-33.3-13.1-34.3 4.4-1.5 .6z" fill="#cda428" stroke="#fff" stroke-width="2"/><path d="M1834.6 241.3l-1.8-1.1-19.9-4.4-1.9 .2-19.6 9.7-11.5 16.8-.5 2 1.8 20.4 .8 1.8 13.7 15.2 1.6 .9 19.8 4.5 1.8-.1 18.9-7.8 1.4-1.2 10.5-17.4 .4-1.9-3.2-21.5z" fill="#eec136" stroke="#fff" stroke-width="2"/><path d="M1492.7 250.2l1.6 1 17.1 4.3 2.1-.2 15.8-8.5 1.4-1.7 5.6-16.9 .1-1.8-4.9-17.1-1.5-1.8-15.5-8.6-1.9-.3-17.3 2.9-1.7 1-11.9 12.8-.8 2.1-.1 17.5 .7 1.9zM1541 287l1.4-2.1 2.5-14.8-.3-2-7.5-13.1-2.1-1.5-14.9-2.6-2.1 .3-12.9 7.8-1.4 2.1-2.8 14.8 .4 2.1 7.1 12.2 2.4 1.5 19 1.2 1.7-.4z" fill="#e7b830" stroke="#fff" stroke-width="2"/>
</g>
<text x="671" y="555.1" font-size="50.1" fill="#fff" font-weight="700" text-anchor="middle">White blood</text><text x="669" y="618.1" font-size="50.1" fill="#fff" font-weight="700" text-anchor="middle">cells</text><text x="717.3" y="432" font-size="31.5" fill="#fff" text-anchor="middle" fill-opacity="0.58">Lymphocyte</text><text x="717.3" y="469.6" font-size="31.5" fill="#fff" text-anchor="middle" fill-opacity="0.58">T-cell</text><text x="585" y="403.1" font-size="27.3" fill="#fff" text-anchor="middle" fill-opacity="0.58" transform="rotate(-45 585 393.3)">Neutrophil</text><text x="457.7" y="456.9" font-size="21" fill="#fff" text-anchor="middle" fill-opacity="0.58">Plasma</text><text x="345.7" y="521.9" font-size="21" fill="#fff" text-anchor="middle" fill-opacity="0.58">Myelocyte</text><text x="469.3" y="520.9" font-size="18.4" fill="#fff" text-anchor="middle" fill-opacity="0.58">Thymocyte</text><text x="510" y="593" font-size="15.8" fill="#fff" text-anchor="middle" fill-opacity="0.58">Promyelocyte</text><text x="333.3" y="633" font-size="15.8" fill="#fff" text-anchor="middle" fill-opacity="0.58">Macrophages</text><text x="465" y="697.2" font-size="22.1" fill="#fff" text-anchor="middle" fill-opacity="0.58">Band</text><text x="465" y="721.2" font-size="22.1" fill="#fff" text-anchor="middle" fill-opacity="0.58">neutrophils</text><text x="661.7" y="746.4" font-size="17.9" fill="#fff" text-anchor="middle" fill-opacity="0.58">Metamyelocyte</text><text x="387.7" y="802.1" font-size="17.9" fill="#fff" text-anchor="middle" fill-opacity="0.58">Eosinophils</text><text x="542.7" y="871.3" font-size="31.5" fill="#fff" text-anchor="middle" fill-opacity="0.58">Lymphocyte</text><text x="542.7" y="908" font-size="31.5" fill="#fff" text-anchor="middle" fill-opacity="0.58">B-cell</text><text x="758.3" y="791.4" font-size="17.9" fill="#fff" text-anchor="middle" fill-opacity="0.58">Kupffer</text><text x="866.7" y="802" font-size="16.8" fill="#fff" text-anchor="middle" fill-opacity="0.58">Marginating</text><text x="866.7" y="821" font-size="16.8" fill="#fff" text-anchor="middle" fill-opacity="0.58">neutrophils</text><text x="705" y="832.2" font-size="13.7" fill="#fff" text-anchor="middle" fill-opacity="0.58">Monocyte</text><text x="783.3" y="871.8" font-size="18.9" fill="#fff" text-anchor="middle" fill-opacity="0.58">Lymphocyte</text><text x="783.3" y="895.5" font-size="18.9" fill="#fff" text-anchor="middle" fill-opacity="0.58">T-cell CD4</text><text x="783.3" y="919.2" font-size="18.9" fill="#fff" text-anchor="middle" fill-opacity="0.58">&amp; CD8</text><text x="706.7" y="951.4" font-size="17.9" fill="#fff" text-anchor="middle" fill-opacity="0.58">Mast</text><text x="1030" y="818.1" font-size="27.3" fill="#fff" text-anchor="middle" fill-opacity="0.58">Erythroblast</text><text x="1030" y="864.3" font-size="34.9" fill="#fff" font-weight="700" text-anchor="middle">Nucleated</text><text x="1030" y="903.3" font-size="34.9" fill="#fff" font-weight="700" text-anchor="middle">red blood</text><text x="1030" y="942.3" font-size="34.9" fill="#fff" font-weight="700" text-anchor="middle">cells</text><text x="1166.7" y="822.3" font-size="29.4" fill="#fff" font-weight="700" text-anchor="middle">Glial</text><text x="906.7" y="958.4" font-size="15.8" fill="#fff" text-anchor="middle" fill-opacity="0.58">Brown</text><text x="906.7" y="976.4" font-size="15.8" fill="#fff" text-anchor="middle" fill-opacity="0.58">adipocyte</text><text x="926.7" y="1016.9" font-size="28.3" fill="#fff" font-weight="700" text-anchor="middle">Adipocyte</text><text x="810" y="996.5" font-size="15.2" fill="#fff" text-anchor="middle" fill-opacity="0.58">Osteocyte</text><text x="798.3" y="1052.7" font-size="30.5" fill="#fff" font-weight="700" text-anchor="middle">Osteoid</text><text x="665.1" y="1047.7" font-size="30" fill="#fff" font-weight="700" text-anchor="middle" transform="rotate(15.7 665.1 1036.9)">Myocyte</text><text x="1086.7" y="495.6" font-size="48" fill="#fff" font-weight="700" text-anchor="middle">Epithelial</text><text x="985" y="599.5" font-size="26.2" fill="#fff" text-anchor="middle" fill-opacity="0.58">Hepatocyte</text><text x="1161.7" y="656.8" font-size="26.2" fill="#fff" text-anchor="middle" fill-opacity="0.58">Enterocyte</text><text x="1151.7" y="350.7" font-size="15.8" fill="#fff" text-anchor="middle" fill-opacity="0.58">Keratinocyte</text><text x="1141.7" y="434" font-size="15.8" fill="#fff" text-anchor="middle" fill-opacity="0.58">Crypt</text><text x="1141.7" y="454" font-size="15.8" fill="#fff" text-anchor="middle" fill-opacity="0.58">enterocyte</text><text x="960" y="393.4" font-size="14.2" fill="#fff" text-anchor="middle" fill-opacity="0.58">Corne-</text><text x="960" y="413.4" font-size="14.2" fill="#fff" text-anchor="middle" fill-opacity="0.58">ocyte</text><text x="1161.7" y="559.5" font-size="12.6" fill="#fff" text-anchor="middle" fill-opacity="0.58">Trichocyte</text><text x="1231.7" y="542.8" font-size="12.6" fill="#fff" text-anchor="middle" fill-opacity="0.58">Pancreatic</text><text x="1231.7" y="557.8" font-size="12.6" fill="#fff" text-anchor="middle" fill-opacity="0.58">acinar</text><text x="988.3" y="722.6" font-size="14.7" fill="#fff" text-anchor="middle" fill-opacity="0.58">Alveolar</text><text x="988.3" y="741.3" font-size="14.7" fill="#fff" text-anchor="middle" fill-opacity="0.58">type II</text><text x="1110" y="742.4" font-size="15.8" fill="#fff" text-anchor="middle" fill-opacity="0.58">Eccrine</text><text x="1110" y="761.4" font-size="15.8" fill="#fff" text-anchor="middle" fill-opacity="0.58">gland</text><text x="1110" y="780.4" font-size="15.8" fill="#fff" text-anchor="middle" fill-opacity="0.58">duct</text><text x="1208.3" y="744.7" font-size="15.8" fill="#fff" text-anchor="middle" fill-opacity="0.58">Goblet</text><text x="898.3" y="225" font-size="32.6" fill="#fff" text-anchor="middle" fill-opacity="0.58">Capillary</text><text x="880" y="290.3" font-size="42.5" fill="#fff" font-weight="700" text-anchor="middle">Endothelial</text><text x="1120.1" y="261.1" font-size="25.7" fill="#fff" font-weight="700" text-anchor="middle" transform="rotate(46.8 1120.1 251.8)">Gamete</text><text x="756" y="122.8" font-size="27.3" fill="#fff" font-weight="700" text-anchor="middle">Pericyte</text><text x="693.8" y="173.8" font-size="31.6" fill="#fff" font-weight="700" text-anchor="middle" transform="rotate(59 693.8 162.4)">Neuro</text><text x="671" y="175.8" font-size="14.9" fill="#fff" text-anchor="middle" fill-opacity="0.58" transform="rotate(58 671 170.4)">Granule</text><text x="566.7" y="221.2" font-size="36" fill="#fff" font-weight="700" text-anchor="middle">Fibroblast</text><text x="658.3" y="239.3" font-size="12.1" fill="#fff" text-anchor="middle" fill-opacity="0.58">Myofibro-</text><text x="658.3" y="254.3" font-size="12.1" fill="#fff" text-anchor="middle" fill-opacity="0.58">blast</text><text x="660" y="296.7" font-size="11" fill="#fff" text-anchor="middle" fill-opacity="0.58">Tenocyte</text><text x="724" y="297.1" font-size="11.4" fill="#fff" font-weight="700" text-anchor="middle" transform="rotate(80 724 293)">Cardio-</text><text x="712" y="299.1" font-size="11.4" fill="#fff" font-weight="700" text-anchor="middle" transform="rotate(80 712 295)">myocyte</text><text x="410" y="351" font-size="30.5" fill="#000" font-weight="700" text-anchor="middle">Stem</text><text x="396.7" y="310.8" font-size="14.2" fill="#2a6a10" text-anchor="middle" fill-opacity="0.6">Telocyte</text><text x="369.3" y="368" font-size="13.1" fill="#2a6a10" text-anchor="middle" fill-opacity="0.6">Hemato-</text><text x="369.3" y="382.4" font-size="13.1" fill="#2a6a10" text-anchor="middle" fill-opacity="0.6">poetic</text><text x="1645" y="618.1" font-size="50.1" fill="#fff" font-weight="700" text-anchor="middle">Adipocyte</text><text x="1451.8" y="485" font-size="30.5" fill="#fff" text-anchor="middle" fill-opacity="0.58">White,</text><text x="1451.8" y="523" font-size="30.5" fill="#fff" text-anchor="middle" fill-opacity="0.58">visceral</text><text x="1810" y="702.8" font-size="30.5" fill="#fff" text-anchor="middle" fill-opacity="0.58">White,</text><text x="1810" y="742" font-size="30.5" fill="#fff" text-anchor="middle" fill-opacity="0.58">subcutaneous</text><text x="1628.3" y="337.7" font-size="30.5" fill="#fff" text-anchor="middle" fill-opacity="0.58">White,</text><text x="1628.3" y="376" font-size="30.5" fill="#fff" text-anchor="middle" fill-opacity="0.58">interstitial</text><text x="1501" y="816" font-size="30.5" fill="#fff" text-anchor="middle" fill-opacity="0.58">White, yellow</text><text x="1501" y="854.3" font-size="30.5" fill="#fff" text-anchor="middle" fill-opacity="0.58">bone-marrow</text><text x="1708.3" y="935" font-size="30.5" fill="#fff" text-anchor="middle" fill-opacity="0.58">Brown</text><text x="1708.3" y="973.3" font-size="30.5" fill="#fff" text-anchor="middle" fill-opacity="0.58">adipocyte</text><text x="1711.7" y="245.6" font-size="48" fill="#fff" font-weight="700" text-anchor="middle">Epithelial</text><text x="1665" y="193" font-size="19.4" fill="#fff" text-anchor="middle" fill-opacity="0.58">Hepatocyte</text><text x="1814" y="275" font-size="12.1" fill="#fff" text-anchor="middle" fill-opacity="0.58">Enterocyte</text><text x="1508.3" y="221.3" font-size="11" fill="#fff" text-anchor="middle" fill-opacity="0.58">Proximal</text><text x="1508.3" y="233" font-size="11" fill="#fff" text-anchor="middle" fill-opacity="0.58">tubule</text><text x="1523.3" y="269" font-size="11" fill="#fff" text-anchor="middle" fill-opacity="0.58">Keratin-</text><text x="1523.3" y="281.3" font-size="11" fill="#fff" text-anchor="middle" fill-opacity="0.58">ocyte</text><text x="1880" y="123.4" font-size="23.4" fill="#fff" font-weight="700" text-anchor="middle">Endo-</text><text x="1880" y="148.4" font-size="23.4" fill="#fff" font-weight="700" text-anchor="middle">thelial</text><text x="1873.3" y="180" font-size="12.1" fill="#fff" text-anchor="middle" fill-opacity="0.58">Capillary</text><text x="1956.7" y="146.8" font-size="14.2" fill="#fff" text-anchor="middle" fill-opacity="0.58">GIT</text><text x="1951" y="196.2" font-size="31.1" fill="#fff" font-weight="700" text-anchor="middle" transform="rotate(-27 1951 185)">Smooth</text><text x="1974" y="224.2" font-size="31.1" fill="#fff" font-weight="700" text-anchor="middle" transform="rotate(-29 1974 213)">myocyte</text><text x="1875" y="304.4" font-size="21.3" fill="#000" font-weight="700" text-anchor="middle" transform="rotate(-70 1875 296.7)">Stem</text><text x="1421.5" y="289.5" font-size="15.2" fill="#fff" text-anchor="middle" fill-opacity="0.58">Ito</text><text x="1427.3" y="328" font-size="30.5" fill="#fff" font-weight="700" text-anchor="middle" transform="rotate(-33.5 1427.3 317)">Pericyte</text><text x="2077.7" y="358.3" font-size="37.1" fill="#fff" font-weight="700" text-anchor="middle">Red blood</text><text x="2077.7" y="400" font-size="37.1" fill="#fff" font-weight="700" text-anchor="middle">cells</text><text x="2092.7" y="457.8" font-size="26.2" fill="#fff" text-anchor="middle" fill-opacity="0.58">Erythrocyte</text><text x="2217.7" y="480.9" font-size="10" fill="#fff" text-anchor="middle" fill-opacity="0.58" transform="rotate(-20 2217.7 477.3)">Polychromatic-</text><text x="2222.7" y="495.3" font-size="10" fill="#fff" text-anchor="middle" fill-opacity="0.58" transform="rotate(-20 2222.7 491.7)">normoblast</text><text x="2072.7" y="542.6" font-size="12.1" fill="#fff" text-anchor="middle" fill-opacity="0.58" transform="rotate(-18 2072.7 538.3)">Reticulocyte</text><text x="2229.3" y="524.4" font-size="14.2" fill="#fff" text-anchor="middle" fill-opacity="0.58">Plasma</text><text x="2271" y="523.6" font-size="10" fill="#fff" text-anchor="middle" fill-opacity="0.58" transform="rotate(85 2271 520)">Osteoclast</text><text x="2197" y="557.8" font-size="14.2" fill="#fff" text-anchor="middle" fill-opacity="0.58">Kupffer</text><text x="2129.3" y="548.2" font-size="8.9" fill="#fff" text-anchor="middle" fill-opacity="0.58">Meta-</text><text x="2129.3" y="559.2" font-size="8.9" fill="#fff" text-anchor="middle" fill-opacity="0.58">myelocyte</text><text x="2264.3" y="598.4" font-size="14.2" fill="#fff" text-anchor="middle" fill-opacity="0.58">Mast</text><text x="2049.3" y="588.2" font-size="8.9" fill="#fff" text-anchor="middle" fill-opacity="0.58">Alveolar</text><text x="2049.3" y="598.2" font-size="8.9" fill="#fff" text-anchor="middle" fill-opacity="0.58">macro-</text><text x="2049.3" y="608.2" font-size="8.9" fill="#fff" text-anchor="middle" fill-opacity="0.58">phage</text><text x="2089.3" y="616.3" font-size="10" fill="#fff" text-anchor="middle" fill-opacity="0.58">Band</text><text x="2089.3" y="629.6" font-size="10" fill="#fff" text-anchor="middle" fill-opacity="0.58">neutrophil</text><text x="2176" y="624.6" font-size="36" fill="#fff" font-weight="700" text-anchor="middle">White</text><text x="2174.3" y="666.2" font-size="36" fill="#fff" font-weight="700" text-anchor="middle">blood cells</text><text x="2184.3" y="693.8" font-size="15.2" fill="#fff" text-anchor="middle" fill-opacity="0.58">Macrophage</text><text x="2091" y="713.6" font-size="12.1" fill="#fff" text-anchor="middle" fill-opacity="0.58">T-cell</text><text x="2154.3" y="746.6" font-size="12.1" fill="#fff" text-anchor="middle" fill-opacity="0.58">Myelocyte</text><text x="2236" y="753.6" font-size="12.1" fill="#fff" text-anchor="middle" fill-opacity="0.58">B-cell</text><text x="2132.7" y="799.6" font-size="36" fill="#fff" font-weight="700" text-anchor="middle">Fibroblast</text><text x="2170" y="861" font-size="12.1" fill="#fff" text-anchor="middle" fill-opacity="0.58">Adipose-</text><text x="2170" y="875" font-size="12.1" fill="#fff" text-anchor="middle" fill-opacity="0.58">derived</text><text x="2036" y="824.2" font-size="8.9" fill="#fff" text-anchor="middle" fill-opacity="0.58">Gran-</text><text x="2036" y="834.9" font-size="8.9" fill="#fff" text-anchor="middle" fill-opacity="0.58">ule</text><text x="2021.5" y="894.2" font-size="30.3" fill="#fff" font-weight="700" text-anchor="middle">Neuron</text><text x="2031" y="935.5" font-size="15.2" fill="#fff" text-anchor="middle" fill-opacity="0.58">Pyramidal</text><text x="2122.2" y="942.1" font-size="26.2" fill="#fff" font-weight="700" text-anchor="middle" transform="rotate(-43.6 2122.2 932.7)">Osteoid</text><text x="1895" y="972.1" font-size="24.5" fill="#fff" font-weight="700" text-anchor="middle">Other</text><text x="1895" y="997.1" font-size="24.5" fill="#fff" font-weight="700" text-anchor="middle">striated</text><text x="1895" y="1022.1" font-size="24.5" fill="#fff" font-weight="700" text-anchor="middle">myocyte</text><text x="1840" y="1050.5" font-size="15.2" fill="#fff" text-anchor="middle" fill-opacity="0.58">Cardio-</text><text x="1840" y="1065.5" font-size="15.2" fill="#fff" text-anchor="middle" fill-opacity="0.58">myocyte</text><text x="2023" y="1011.1" font-size="23.8" fill="#fff" font-weight="700" text-anchor="middle" transform="rotate(-25 2023 1002.5)">Gamete</text><text x="1695" y="1036.9" font-size="28.3" fill="#fff" font-weight="700" text-anchor="middle">Glial</text><text x="1651.7" y="1044" font-size="11" fill="#fff" text-anchor="middle" fill-opacity="0.58" transform="rotate(22 1651.7 1040)">Astrocyte</text><text x="1763.3" y="1035.3" font-size="10" fill="#fff" text-anchor="middle" fill-opacity="0.58">Oligoden-</text><text x="1763.3" y="1046.9" font-size="10" fill="#fff" text-anchor="middle" fill-opacity="0.58">drocyte</text>
<use href="#fbl" transform="translate(467 92) scale(1 1)"/><use href="#neu" transform="translate(616 57) scale(0.9 0.9)"/><use href="#per" transform="translate(807 35)"/><use href="#end" transform="translate(1016 82) rotate(25)"/><use href="#spm" transform="translate(1167 188) rotate(-50) scale(1 1)"/><use href="#epi" transform="translate(1257.7 292) rotate(-20)"/><use href="#stm" transform="translate(334.7 225)"/><use href="#rbc" transform="translate(61 382)"/><use href="#plt" transform="translate(156 385.5)"/><use href="#mac" transform="translate(232 698) scale(1 1)"/><use href="#gra" transform="translate(259 818)"/><use href="#mon" transform="translate(326 932) scale(1 1)"/><use href="#lym" transform="translate(421.5 1023) scale(1 1)"/><use href="#smo" transform="translate(573 1087) rotate(15)"/><use href="#ost" transform="translate(766 1132) scale(1 1)"/><use href="#bad" transform="translate(898 1126) scale(1 1)"/><use href="#wad" transform="translate(1009 1095.5)"/><use href="#ebl" transform="translate(1104 1047)"/><use href="#meg" transform="translate(1175 980) scale(1 1)"/><use href="#gli" transform="translate(1250 893)"/><use href="#end" transform="translate(1764 34) rotate(-8) scale(0.8 0.8)"/><use href="#stm" transform="translate(1896 36) scale(1 1)"/><use href="#epi" transform="translate(1491 117) rotate(5) scale(1.1 1.1)"/><use href="#per" transform="translate(1384 215) rotate(-52) scale(0.9 0.9)"/><use href="#smo" transform="translate(2025 77) rotate(22) scale(0.9 0.9)"/><use href="#fbr" transform="translate(2500 273) rotate(-25) scale(1.1 1.1)"/><use href="#wad" transform="translate(1420.6 1006) scale(1.1 1.1)"/><use href="#bad" transform="translate(1543.7 1085)"/><use href="#gli" transform="translate(1675 1139) scale(1 1)"/><use href="#fbr" transform="translate(1871 1135) rotate(-4) scale(1.1 1.1)"/><use href="#spm" transform="translate(2017 1072) rotate(58) scale(1.1 1.1)"/><use href="#plt" transform="translate(2138 127) rotate(-35) scale(0.9 0.9)"/><use href="#rbc" transform="translate(2206 194) scale(0.9 0.9)"/><use href="#ebl" transform="translate(2262 258) scale(1 1)"/><use href="#meg" transform="translate(2305 343) scale(1 1)"/><use href="#lym" transform="translate(2357.7 560)"/><use href="#mac" transform="translate(2352.7 673)"/><use href="#gra" transform="translate(2324 780)"/><use href="#fbl" transform="translate(2283 897) scale(0.9 0.9)"/><use href="#ost" transform="translate(2221 973) scale(1 1)"/><use href="#neu" transform="translate(2156.7 1064.4) rotate(19) scale(0.9 0.9)"/><use href="#rbc" transform="translate(49 1452) scale(1 1)"/><use href="#plt" transform="translate(76 1512.6) scale(0.9 0.9)"/><use href="#ebl" transform="translate(57.6 1605.6) scale(1 1)"/><use href="#meg" transform="translate(82.7 1662) scale(0.9 0.9)"/><use href="#lym" transform="translate(609 1455)"/><use href="#gra" transform="translate(645 1517) scale(1 1)"/><use href="#mac" transform="translate(607 1606) scale(1.1 1.1)"/><use href="#mon" transform="translate(642 1660) scale(0.9 0.9)"/><use href="#fbr" transform="translate(1115 1459) rotate(-25) scale(0.9 0.9)"/><use href="#smo" transform="translate(1130 1513) rotate(-20) scale(0.8 0.8)"/><use href="#epi" transform="translate(1122.5 1614) scale(1.1 1.1)"/><use href="#end" transform="translate(1138 1667) rotate(-20) scale(0.8 0.8)"/><use href="#stm" transform="translate(1711.7 1458.4)"/><use href="#spm" transform="translate(1750 1500) rotate(153) scale(0.9 0.9)"/><use href="#per" transform="translate(1821 1515) rotate(-25) scale(0.8 0.8)"/><use href="#wad" transform="translate(1715.8 1610.5)"/><use href="#bad" transform="translate(1754.4 1664.4) scale(0.9 0.9)"/><use href="#neu" transform="translate(2244 1469.4) rotate(125.5) scale(0.9 0.9)"/><use href="#gli" transform="translate(2287.3 1522.7) scale(1 1)"/><use href="#fbl" transform="translate(2268 1616) scale(1 1)"/><use href="#ost" transform="translate(2302 1666) scale(0.8 0.8)"/>
<text x="16" y="61" font-size="78" fill="#000">A</text>
<text x="99" y="51" font-size="52" fill="#000" font-weight="700">Cell counts</text>
<text x="1306" y="61" font-size="78" fill="#000">B</text>
<text x="1385" y="51" font-size="52" fill="#000" font-weight="700">Biomass</text>
<text x="38" y="146" font-size="46.5" fill="#4f5656" font-weight="700">Non-nucleated</text>
<text x="38" y="200.1" font-size="46.5" fill="#4f5656" font-weight="700">red blood</text>
<text x="38" y="254.2" font-size="46.5" fill="#4f5656" font-weight="700">cells and</text>
<text x="38" y="308.3" font-size="46.5" fill="#4f5656" font-weight="700">platelets</text>
<text x="33" y="485" font-size="49" fill="#111">4x the</text>
<text x="33" y="531" font-size="49" fill="#111">count</text>
<text x="33" y="577" font-size="49" fill="#111">of all</text>
<text x="33" y="623" font-size="49" fill="#111">other</text>
<text x="33" y="669" font-size="49" fill="#111">cells</text>
<text x="2555" y="143.5" font-size="46.5" fill="#555" font-weight="700" text-anchor="end">Skeletal</text>
<text x="2555" y="198.8" font-size="46.5" fill="#555" font-weight="700" text-anchor="end">myocytes</text>
<text x="2550" y="393.5" font-size="48.3" fill="#111" text-anchor="end">Half the</text>
<text x="2550" y="437.3" font-size="48.3" fill="#111" text-anchor="end">biomass</text>
<text x="2550" y="481.1" font-size="48.3" fill="#111" text-anchor="end">of all cells</text>
<text x="27" y="1253.5" font-size="46.7" font-weight="700" fill="#5c5c5c">29 trillion non-nucleated + <tspan fill="#000">7 trillion nucleated cells</tspan></text>
<text x="27" y="1326" font-size="46.7" font-weight="700" fill="#5c5c5c">= <tspan font-size="52.4" fill="#3a3a3a">36 trillion cells</tspan> <tspan font-size="47.1" fill="#666">(+ 38 trillion bacteria)</tspan></text>
<text x="1329" y="1253.5" font-size="46.7" font-weight="700" fill="#5c5c5c">21.5 kg of skeletal myocytes + <tspan fill="#000">23.5 kg of all other cells</tspan></text>
<text x="1329" y="1326" font-size="46.7" font-weight="700" fill="#5c5c5c">= <tspan font-size="52.4" fill="#3a3a3a">45 kg cell biomass</tspan> <tspan font-size="47.1" fill="#666">(of 70 kg total mass)</tspan></text>
<path d="M111 1426 H370 a12 12 0 0 1 12 12 V1531 a12 12 0 0 1 -12 12 H137 a12 12 0 0 1 -12 -12 V1490 a10 10 0 0 0 -10 -10 H111 a12 12 0 0 1 -12 -12 V1438 a12 12 0 0 1 12 -12 Z" fill="url(#gLegPink)"/>
<rect x="1167" y="1420" width="198" height="69" rx="14" ry="14" fill="url(#gLegOr)"/>
<text x="115" y="1474" font-size="46.1" fill="#2b2b2b">Erythrocyte</text>
<text x="147" y="1528" font-size="46.1" fill="#2b2b2b">platelets</text>
<text x="115.5" y="1622" font-size="46.1" fill="#2b2b2b">Erythroblast</text>
<text x="149" y="1676" font-size="46.1" fill="#2b2b2b">megakaryocyte</text>
<text x="661.5" y="1474" font-size="46.1" fill="#2b2b2b">Lymphoid</text>
<text x="692.5" y="1528" font-size="46.1" fill="#2b2b2b">granulocyte</text>
<text x="661.5" y="1622" font-size="46.1" fill="#2b2b2b">Macrophage</text>
<text x="694" y="1676" font-size="46.1" fill="#2b2b2b">monocyte</text>
<text x="1175.5" y="1474" font-size="46.1" fill="#2b2b2b">Striated,</text>
<text x="1374.5" y="1474" font-size="46.1" fill="#2b2b2b">cardio- &amp;</text>
<text x="1207.5" y="1528" font-size="46.1" fill="#2b2b2b">smooth myocyte</text>
<text x="1175.5" y="1622" font-size="46.1" fill="#2b2b2b">Epithelial</text>
<text x="1207.5" y="1676" font-size="46.1" fill="#2b2b2b">endothelial</text>
<text x="1763.5" y="1474" font-size="46.1" fill="#2b2b2b">Stem, germ &amp;</text>
<text x="1888.5" y="1528" font-size="46.1" fill="#2b2b2b">pericyte</text>
<text x="1765" y="1622" font-size="46.1" fill="#2b2b2b">White adipocyte</text>
<text x="1797.5" y="1676" font-size="46.1" fill="#2b2b2b">brown adipocyte</text>
<text x="2318" y="1474" font-size="46.1" fill="#2b2b2b">Neuron</text>
<text x="2350.5" y="1528" font-size="46.1" fill="#2b2b2b">glial</text>
<text x="2318" y="1622" font-size="46.1" fill="#2b2b2b">Fibroblast</text>
<text x="2349.5" y="1676" font-size="46.1" fill="#2b2b2b">osteocyte</text>
</svg></body></html>
